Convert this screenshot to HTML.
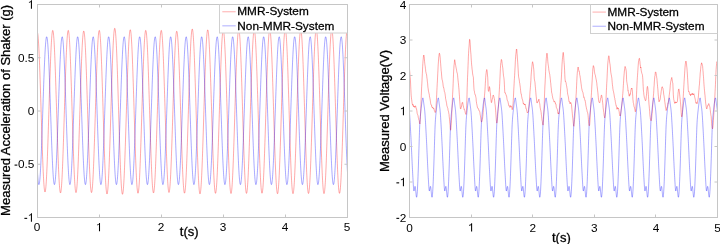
<!DOCTYPE html>
<html><head><meta charset="utf-8"><style>
html,body{margin:0;padding:0;background:#fff;width:720px;height:244px;overflow:hidden}
svg{display:block;will-change:transform}
text{font-family:"Liberation Sans",sans-serif;fill:#000;stroke:#000}
.tk{font-size:11.8px;stroke-width:0.0px}
.lg{font-size:11.8px;stroke-width:0.28px}
.lb{font-size:13.0px;stroke-width:0.3px}
</style></head><body>
<svg width="720" height="244" viewBox="0 0 720 244">
<rect width="720" height="244" fill="#fff"/>

<g fill="none" stroke-width="0.75" stroke-linejoin="round">
<path d="M37.50,32.56 L37.62,33.05 L37.75,33.73 L37.87,34.62 L38.00,35.69 L38.12,36.96 L38.24,38.42 L38.37,40.06 L38.49,41.89 L38.62,43.89 L38.74,46.07 L38.86,48.41 L38.99,50.91 L39.11,53.56 L39.24,56.37 L39.36,59.31 L39.48,62.39 L39.61,65.59 L39.73,68.91 L39.86,72.34 L39.98,75.87 L40.10,79.49 L40.23,83.20 L40.35,86.98 L40.48,90.82 L40.60,94.71 L40.72,98.65 L40.85,102.63 L40.97,106.62 L41.10,110.63 L41.22,114.65 L41.34,118.66 L41.47,122.65 L41.59,126.62 L41.72,130.55 L41.84,134.44 L41.96,138.26 L42.09,142.03 L42.21,145.71 L42.34,149.32 L42.46,152.82 L42.58,156.23 L42.71,159.52 L42.83,162.70 L42.96,165.74 L43.08,168.65 L43.20,171.42 L43.33,174.04 L43.45,176.50 L43.58,178.80 L43.70,180.93 L43.82,182.88 L43.95,184.66 L44.07,186.25 L44.20,187.65 L44.32,188.87 L44.44,189.88 L44.57,190.70 L44.69,191.32 L44.82,191.74 L44.94,191.96 L45.06,191.98 L45.19,191.79 L45.31,191.40 L45.44,190.80 L45.56,190.01 L45.68,189.02 L45.81,187.83 L45.93,186.45 L46.06,184.88 L46.18,183.13 L46.30,181.19 L46.43,179.08 L46.55,176.79 L46.68,174.34 L46.80,171.74 L46.92,168.97 L47.05,166.07 L47.17,163.02 L47.30,159.84 L47.42,156.54 L47.54,153.13 L47.67,149.61 L47.79,145.99 L47.92,142.29 L48.04,138.50 L48.16,134.65 L48.29,130.73 L48.41,126.77 L48.54,122.77 L48.66,118.74 L48.78,114.68 L48.91,110.62 L49.03,106.56 L49.16,102.52 L49.28,98.49 L49.40,94.49 L49.53,90.54 L49.65,86.64 L49.78,82.80 L49.90,79.03 L50.02,75.35 L50.15,71.75 L50.27,68.25 L50.40,64.86 L50.52,61.59 L50.64,58.45 L50.77,55.43 L50.89,52.56 L51.02,49.84 L51.14,47.27 L51.26,44.86 L51.39,42.62 L51.51,40.56 L51.64,38.67 L51.76,36.97 L51.88,35.45 L52.01,34.13 L52.13,33.00 L52.26,32.07 L52.38,31.34 L52.50,30.82 L52.63,30.50 L52.75,30.38 L52.88,30.48 L53.00,30.79 L53.12,31.30 L53.25,32.02 L53.37,32.93 L53.50,34.05 L53.62,35.36 L53.74,36.86 L53.87,38.55 L53.99,40.43 L54.12,42.49 L54.24,44.72 L54.36,47.12 L54.49,49.68 L54.61,52.40 L54.74,55.27 L54.86,58.29 L54.98,61.43 L55.11,64.71 L55.23,68.10 L55.36,71.60 L55.48,75.20 L55.60,78.90 L55.73,82.68 L55.85,86.53 L55.98,90.44 L56.10,94.41 L56.22,98.42 L56.35,102.47 L56.47,106.54 L56.60,110.62 L56.72,114.70 L56.84,118.78 L56.97,122.84 L57.09,126.87 L57.22,130.86 L57.34,134.80 L57.46,138.68 L57.59,142.50 L57.71,146.24 L57.84,149.89 L57.96,153.44 L58.08,156.89 L58.21,160.22 L58.33,163.44 L58.46,166.52 L58.58,169.46 L58.70,172.25 L58.83,174.90 L58.95,177.38 L59.08,179.70 L59.20,181.84 L59.32,183.81 L59.45,185.59 L59.57,187.19 L59.70,188.60 L59.82,189.81 L59.94,190.83 L60.07,191.64 L60.19,192.26 L60.32,192.67 L60.44,192.87 L60.56,192.87 L60.69,192.67 L60.81,192.26 L60.94,191.64 L61.06,190.83 L61.18,189.81 L61.31,188.60 L61.43,187.19 L61.56,185.59 L61.68,183.81 L61.80,181.84 L61.93,179.70 L62.05,177.38 L62.18,174.90 L62.30,172.25 L62.42,169.46 L62.55,166.52 L62.67,163.44 L62.80,160.22 L62.92,156.89 L63.04,153.44 L63.17,149.89 L63.29,146.24 L63.42,142.50 L63.54,138.68 L63.66,134.80 L63.79,130.86 L63.91,126.87 L64.04,122.84 L64.16,118.78 L64.28,114.70 L64.41,110.62 L64.53,106.54 L64.66,102.47 L64.78,98.42 L64.90,94.41 L65.03,90.44 L65.15,86.53 L65.28,82.68 L65.40,78.90 L65.52,75.20 L65.65,71.60 L65.77,68.10 L65.90,64.71 L66.02,61.43 L66.14,58.29 L66.27,55.27 L66.39,52.40 L66.52,49.68 L66.64,47.12 L66.76,44.72 L66.89,42.49 L67.01,40.43 L67.14,38.55 L67.26,36.86 L67.38,35.36 L67.51,34.05 L67.63,32.93 L67.76,32.02 L67.88,31.30 L68.00,30.79 L68.13,30.48 L68.25,30.38 L68.38,30.49 L68.50,30.80 L68.62,31.32 L68.75,32.04 L68.87,32.96 L69.00,34.08 L69.12,35.39 L69.24,36.90 L69.37,38.60 L69.49,40.48 L69.62,42.54 L69.74,44.77 L69.86,47.17 L69.99,49.74 L70.11,52.46 L70.24,55.33 L70.36,58.34 L70.48,61.49 L70.61,64.76 L70.73,68.15 L70.86,71.65 L70.98,75.25 L71.10,78.95 L71.23,82.72 L71.35,86.57 L71.48,90.48 L71.60,94.44 L71.72,98.45 L71.85,102.49 L71.97,106.55 L72.10,110.62 L72.22,114.70 L72.34,118.76 L72.47,122.81 L72.59,126.83 L72.72,130.81 L72.84,134.75 L72.96,138.62 L73.09,142.42 L73.21,146.15 L73.34,149.79 L73.46,153.33 L73.58,156.77 L73.71,160.09 L73.83,163.29 L73.96,166.36 L74.08,169.29 L74.20,172.07 L74.33,174.70 L74.45,177.17 L74.58,179.48 L74.70,181.61 L74.82,183.57 L74.95,185.34 L75.07,186.93 L75.20,188.33 L75.32,189.53 L75.44,190.54 L75.57,191.35 L75.69,191.95 L75.82,192.36 L75.94,192.56 L76.06,192.55 L76.19,192.34 L76.31,191.93 L76.44,191.31 L76.56,190.49 L76.68,189.48 L76.81,188.27 L76.93,186.86 L77.06,185.26 L77.18,183.48 L77.30,181.52 L77.43,179.38 L77.55,177.07 L77.68,174.59 L77.80,171.96 L77.92,169.17 L78.05,166.24 L78.17,163.18 L78.30,159.98 L78.42,156.66 L78.54,153.22 L78.67,149.69 L78.79,146.05 L78.92,142.33 L79.04,138.54 L79.16,134.67 L79.29,130.75 L79.41,126.78 L79.54,122.77 L79.66,118.74 L79.78,114.68 L79.91,110.62 L80.03,106.57 L80.16,102.52 L80.28,98.50 L80.40,94.52 L80.53,90.58 L80.65,86.69 L80.78,82.86 L80.90,79.11 L81.02,75.44 L81.15,71.86 L81.27,68.39 L81.40,65.02 L81.52,61.77 L81.64,58.65 L81.77,55.66 L81.89,52.81 L82.02,50.12 L82.14,47.57 L82.26,45.19 L82.39,42.98 L82.51,40.95 L82.64,39.09 L82.76,37.41 L82.88,35.92 L83.01,34.63 L83.13,33.53 L83.26,32.62 L83.38,31.92 L83.50,31.42 L83.63,31.12 L83.75,31.02 L83.88,31.12 L84.00,31.42 L84.12,31.92 L84.25,32.62 L84.37,33.53 L84.50,34.63 L84.62,35.92 L84.74,37.41 L84.87,39.09 L84.99,40.95 L85.12,42.98 L85.24,45.19 L85.36,47.57 L85.49,50.12 L85.61,52.81 L85.74,55.66 L85.86,58.65 L85.98,61.77 L86.11,65.02 L86.23,68.39 L86.36,71.86 L86.48,75.44 L86.60,79.11 L86.73,82.86 L86.85,86.69 L86.98,90.58 L87.10,94.52 L87.22,98.50 L87.35,102.52 L87.47,106.57 L87.60,110.62 L87.72,114.68 L87.84,118.74 L87.97,122.77 L88.09,126.78 L88.22,130.75 L88.34,134.67 L88.46,138.54 L88.59,142.33 L88.71,146.05 L88.84,149.69 L88.96,153.22 L89.08,156.66 L89.21,159.98 L89.33,163.18 L89.46,166.24 L89.58,169.17 L89.70,171.96 L89.83,174.59 L89.95,177.07 L90.08,179.38 L90.20,181.52 L90.32,183.48 L90.45,185.26 L90.57,186.86 L90.70,188.27 L90.82,189.48 L90.94,190.49 L91.07,191.31 L91.19,191.93 L91.32,192.34 L91.44,192.55 L91.56,192.56 L91.69,192.36 L91.81,191.95 L91.94,191.35 L92.06,190.54 L92.18,189.53 L92.31,188.33 L92.43,186.93 L92.56,185.34 L92.68,183.57 L92.80,181.61 L92.93,179.48 L93.05,177.17 L93.18,174.70 L93.30,172.07 L93.42,169.29 L93.55,166.36 L93.67,163.29 L93.80,160.09 L93.92,156.77 L94.04,153.33 L94.17,149.79 L94.29,146.15 L94.42,142.42 L94.54,138.62 L94.66,134.75 L94.79,130.81 L94.91,126.83 L95.04,122.81 L95.16,118.76 L95.28,114.70 L95.41,110.62 L95.53,106.55 L95.66,102.49 L95.78,98.45 L95.90,94.44 L96.03,90.48 L96.15,86.57 L96.28,82.72 L96.40,78.95 L96.52,75.25 L96.65,71.65 L96.77,68.15 L96.90,64.76 L97.02,61.49 L97.14,58.34 L97.27,55.33 L97.39,52.46 L97.52,49.74 L97.64,47.17 L97.76,44.77 L97.89,42.54 L98.01,40.48 L98.14,38.60 L98.26,36.90 L98.38,35.39 L98.51,34.08 L98.63,32.96 L98.76,32.04 L98.88,31.32 L99.00,30.80 L99.13,30.49 L99.25,30.38 L99.38,30.47 L99.50,30.76 L99.62,31.25 L99.75,31.95 L99.87,32.85 L100.00,33.95 L100.12,35.25 L100.24,36.74 L100.37,38.42 L100.49,40.28 L100.62,42.33 L100.74,44.55 L100.86,46.94 L100.99,49.50 L101.11,52.22 L101.24,55.08 L101.36,58.09 L101.48,61.24 L101.61,64.52 L101.73,67.92 L101.86,71.42 L101.98,75.04 L102.10,78.74 L102.23,82.53 L102.35,86.40 L102.48,90.33 L102.60,94.31 L102.72,98.35 L102.85,102.41 L102.97,106.50 L103.10,110.61 L103.22,114.72 L103.34,118.83 L103.47,122.92 L103.59,126.98 L103.72,131.00 L103.84,134.98 L103.96,138.90 L104.09,142.75 L104.21,146.53 L104.34,150.22 L104.46,153.81 L104.58,157.30 L104.71,160.67 L104.83,163.92 L104.96,167.05 L105.08,170.03 L105.20,172.86 L105.33,175.55 L105.45,178.07 L105.58,180.42 L105.70,182.61 L105.82,184.61 L105.95,186.43 L106.07,188.06 L106.20,189.50 L106.32,190.75 L106.44,191.79 L106.57,192.63 L106.69,193.27 L106.82,193.70 L106.94,193.93 L107.06,193.95 L107.19,193.76 L107.31,193.36 L107.44,192.75 L107.56,191.94 L107.68,190.93 L107.81,189.71 L107.93,188.30 L108.06,186.69 L108.18,184.90 L108.30,182.92 L108.43,180.75 L108.55,178.41 L108.68,175.90 L108.80,173.23 L108.92,170.40 L109.05,167.43 L109.17,164.30 L109.30,161.05 L109.42,157.67 L109.54,154.17 L109.67,150.56 L109.79,146.85 L109.92,143.06 L110.04,139.18 L110.16,135.23 L110.29,131.22 L110.41,127.15 L110.54,123.05 L110.66,118.92 L110.78,114.76 L110.91,110.60 L111.03,106.44 L111.16,102.28 L111.28,98.15 L111.40,94.06 L111.53,90.00 L111.65,86.00 L111.78,82.06 L111.90,78.20 L112.02,74.42 L112.15,70.73 L112.27,67.14 L112.40,63.66 L112.52,60.31 L112.64,57.08 L112.77,53.98 L112.89,51.04 L113.02,48.24 L113.14,45.60 L113.26,43.13 L113.39,40.83 L113.51,38.71 L113.64,36.78 L113.76,35.03 L113.88,33.47 L114.01,32.11 L114.13,30.95 L114.26,30.00 L114.38,29.25 L114.50,28.70 L114.63,28.37 L114.75,28.25 L114.88,28.37 L115.00,28.69 L115.12,29.23 L115.25,29.98 L115.37,30.93 L115.50,32.08 L115.62,33.44 L115.74,34.99 L115.87,36.73 L115.99,38.67 L116.12,40.79 L116.24,43.08 L116.36,45.55 L116.49,48.19 L116.61,50.98 L116.74,53.93 L116.86,57.02 L116.98,60.25 L117.11,63.61 L117.23,67.08 L117.36,70.67 L117.48,74.37 L117.60,78.15 L117.73,82.02 L117.85,85.96 L117.98,89.97 L118.10,94.03 L118.22,98.13 L118.35,102.27 L118.47,106.43 L118.60,110.60 L118.72,114.77 L118.84,118.93 L118.97,123.07 L119.09,127.19 L119.22,131.26 L119.34,135.28 L119.46,139.24 L119.59,143.13 L119.71,146.94 L119.84,150.66 L119.96,154.28 L120.08,157.79 L120.21,161.18 L120.33,164.45 L120.46,167.58 L120.58,170.57 L120.70,173.42 L120.83,176.10 L120.95,178.62 L121.08,180.97 L121.20,183.15 L121.32,185.14 L121.45,186.95 L121.57,188.56 L121.70,189.98 L121.82,191.21 L121.94,192.23 L122.07,193.05 L122.19,193.66 L122.32,194.07 L122.44,194.26 L122.56,194.25 L122.69,194.03 L122.81,193.60 L122.94,192.97 L123.06,192.13 L123.18,191.08 L123.31,189.84 L123.43,188.40 L123.56,186.76 L123.68,184.94 L123.80,182.93 L123.93,180.74 L124.05,178.38 L124.18,175.85 L124.30,173.16 L124.42,170.31 L124.55,167.32 L124.67,164.19 L124.80,160.92 L124.92,157.53 L125.04,154.03 L125.17,150.42 L125.29,146.71 L125.42,142.92 L125.54,139.05 L125.66,135.11 L125.79,131.11 L125.91,127.06 L126.04,122.98 L126.16,118.87 L126.28,114.74 L126.41,110.61 L126.53,106.47 L126.66,102.36 L126.78,98.26 L126.90,94.21 L127.03,90.20 L127.15,86.24 L127.28,82.35 L127.40,78.53 L127.52,74.80 L127.65,71.16 L127.77,67.63 L127.90,64.21 L128.02,60.90 L128.14,57.73 L128.27,54.70 L128.39,51.81 L128.52,49.07 L128.64,46.49 L128.76,44.08 L128.89,41.83 L129.01,39.77 L129.14,37.88 L129.26,36.19 L129.38,34.68 L129.51,33.37 L129.63,32.26 L129.76,31.34 L129.88,30.63 L130.00,30.13 L130.13,29.83 L130.25,29.74 L130.38,29.85 L130.50,30.16 L130.62,30.69 L130.75,31.41 L130.87,32.34 L131.00,33.47 L131.12,34.79 L131.24,36.31 L131.37,38.02 L131.49,39.92 L131.62,41.99 L131.74,44.24 L131.86,46.67 L131.99,49.25 L132.11,51.99 L132.24,54.89 L132.36,57.92 L132.48,61.09 L132.61,64.39 L132.73,67.81 L132.86,71.34 L132.98,74.97 L133.10,78.69 L133.23,82.49 L133.35,86.37 L133.48,90.31 L133.60,94.31 L133.72,98.34 L133.85,102.41 L133.97,106.51 L134.10,110.61 L134.22,114.72 L134.34,118.82 L134.47,122.90 L134.59,126.95 L134.72,130.96 L134.84,134.93 L134.96,138.83 L135.09,142.67 L135.21,146.42 L135.34,150.09 L135.46,153.66 L135.58,157.12 L135.71,160.47 L135.83,163.70 L135.96,166.79 L136.08,169.74 L136.20,172.55 L136.33,175.20 L136.45,177.69 L136.58,180.01 L136.70,182.16 L136.82,184.14 L136.95,185.92 L137.07,187.52 L137.20,188.93 L137.32,190.15 L137.44,191.16 L137.57,191.98 L137.69,192.59 L137.82,192.99 L137.94,193.19 L138.06,193.19 L138.19,192.98 L138.31,192.56 L138.44,191.94 L138.56,191.12 L138.68,190.09 L138.81,188.87 L138.93,187.45 L139.06,185.84 L139.18,184.05 L139.30,182.07 L139.43,179.91 L139.55,177.59 L139.68,175.09 L139.80,172.44 L139.92,169.63 L140.05,166.68 L140.17,163.58 L140.30,160.36 L140.42,157.01 L140.54,153.55 L140.67,149.99 L140.79,146.32 L140.92,142.58 L141.04,138.75 L141.16,134.85 L141.29,130.90 L141.41,126.90 L141.54,122.86 L141.66,118.79 L141.78,114.71 L141.91,110.62 L142.03,106.53 L142.16,102.45 L142.28,98.40 L142.40,94.38 L142.53,90.41 L142.65,86.49 L142.78,82.63 L142.90,78.85 L143.02,75.15 L143.15,71.55 L143.27,68.04 L143.40,64.65 L143.52,61.38 L143.64,58.23 L143.77,55.22 L143.89,52.35 L144.02,49.63 L144.14,47.07 L144.26,44.67 L144.39,42.44 L144.51,40.39 L144.64,38.51 L144.76,36.82 L144.88,35.32 L145.01,34.02 L145.13,32.91 L145.26,32.00 L145.38,31.29 L145.50,30.78 L145.63,30.48 L145.75,30.38 L145.88,30.48 L146.00,30.79 L146.12,31.30 L146.25,32.02 L146.37,32.93 L146.50,34.05 L146.62,35.36 L146.74,36.86 L146.87,38.55 L146.99,40.43 L147.12,42.49 L147.24,44.72 L147.36,47.12 L147.49,49.68 L147.61,52.40 L147.74,55.27 L147.86,58.29 L147.98,61.43 L148.11,64.71 L148.23,68.10 L148.36,71.60 L148.48,75.20 L148.60,78.90 L148.73,82.68 L148.85,86.53 L148.98,90.44 L149.10,94.41 L149.22,98.42 L149.35,102.47 L149.47,106.54 L149.60,110.62 L149.72,114.70 L149.84,118.78 L149.97,122.84 L150.09,126.87 L150.22,130.86 L150.34,134.80 L150.46,138.68 L150.59,142.50 L150.71,146.24 L150.84,149.89 L150.96,153.44 L151.08,156.89 L151.21,160.22 L151.33,163.44 L151.46,166.52 L151.58,169.46 L151.70,172.25 L151.83,174.90 L151.95,177.38 L152.08,179.70 L152.20,181.84 L152.32,183.81 L152.45,185.59 L152.57,187.19 L152.70,188.60 L152.82,189.81 L152.94,190.83 L153.07,191.64 L153.19,192.26 L153.32,192.67 L153.44,192.87 L153.56,192.87 L153.69,192.67 L153.81,192.26 L153.94,191.64 L154.06,190.83 L154.18,189.81 L154.31,188.60 L154.43,187.19 L154.56,185.59 L154.68,183.81 L154.80,181.84 L154.93,179.70 L155.05,177.38 L155.18,174.90 L155.30,172.25 L155.42,169.46 L155.55,166.52 L155.67,163.44 L155.80,160.22 L155.92,156.89 L156.04,153.44 L156.17,149.89 L156.29,146.24 L156.42,142.50 L156.54,138.68 L156.66,134.80 L156.79,130.86 L156.91,126.87 L157.04,122.84 L157.16,118.78 L157.28,114.70 L157.41,110.62 L157.53,106.54 L157.66,102.47 L157.78,98.42 L157.90,94.41 L158.03,90.44 L158.15,86.53 L158.28,82.68 L158.40,78.90 L158.52,75.20 L158.65,71.60 L158.77,68.10 L158.90,64.71 L159.02,61.43 L159.14,58.29 L159.27,55.27 L159.39,52.40 L159.52,49.68 L159.64,47.12 L159.76,44.72 L159.89,42.49 L160.01,40.43 L160.14,38.55 L160.26,36.86 L160.38,35.36 L160.51,34.05 L160.63,32.93 L160.76,32.02 L160.88,31.30 L161.00,30.79 L161.13,30.48 L161.25,30.38 L161.38,30.49 L161.50,30.80 L161.62,31.32 L161.75,32.04 L161.87,32.97 L162.00,34.09 L162.12,35.40 L162.24,36.91 L162.37,38.61 L162.49,40.49 L162.62,42.55 L162.74,44.79 L162.86,47.19 L162.99,49.76 L163.11,52.48 L163.24,55.35 L163.36,58.36 L163.48,61.51 L163.61,64.78 L163.73,68.17 L163.86,71.67 L163.98,75.27 L164.10,78.96 L164.23,82.74 L164.35,86.58 L164.48,90.49 L164.60,94.45 L164.72,98.45 L164.85,102.49 L164.97,106.55 L165.10,110.62 L165.22,114.69 L165.34,118.76 L165.47,122.80 L165.59,126.82 L165.72,130.80 L165.84,134.73 L165.96,138.60 L166.09,142.40 L166.21,146.12 L166.34,149.76 L166.46,153.29 L166.58,156.73 L166.71,160.05 L166.83,163.24 L166.96,166.30 L167.08,169.23 L167.20,172.01 L167.33,174.64 L167.45,177.10 L167.58,179.40 L167.70,181.53 L167.82,183.49 L167.95,185.26 L168.07,186.84 L168.20,188.24 L168.32,189.44 L168.44,190.44 L168.57,191.25 L168.69,191.85 L168.82,192.25 L168.94,192.45 L169.06,192.44 L169.19,192.23 L169.31,191.82 L169.44,191.20 L169.56,190.38 L169.68,189.37 L169.81,188.15 L169.93,186.75 L170.06,185.15 L170.18,183.37 L170.30,181.41 L170.43,179.27 L170.55,176.97 L170.68,174.49 L170.80,171.86 L170.92,169.08 L171.05,166.15 L171.17,163.09 L171.30,159.89 L171.42,156.58 L171.54,153.15 L171.67,149.62 L171.79,145.99 L171.92,142.28 L172.04,138.49 L172.16,134.63 L172.29,130.71 L172.41,126.75 L172.54,122.75 L172.66,118.72 L172.78,114.68 L172.91,110.63 L173.03,106.58 L173.16,102.54 L173.28,98.53 L173.40,94.55 L173.53,90.62 L173.65,86.74 L173.78,82.92 L173.90,79.18 L174.02,75.52 L174.15,71.95 L174.27,68.48 L174.40,65.12 L174.52,61.88 L174.64,58.77 L174.77,55.79 L174.89,52.95 L175.02,50.26 L175.14,47.73 L175.26,45.35 L175.39,43.15 L175.51,41.12 L175.64,39.26 L175.76,37.60 L175.88,36.11 L176.01,34.82 L176.13,33.72 L176.26,32.82 L176.38,32.12 L176.50,31.62 L176.63,31.33 L176.75,31.23 L176.88,31.32 L177.00,31.60 L177.12,32.09 L177.25,32.78 L177.37,33.67 L177.50,34.76 L177.62,36.04 L177.74,37.51 L177.87,39.18 L177.99,41.02 L178.12,43.05 L178.24,45.24 L178.36,47.61 L178.49,50.14 L178.61,52.83 L178.74,55.67 L178.86,58.64 L178.98,61.76 L179.11,65.00 L179.23,68.36 L179.36,71.83 L179.48,75.41 L179.60,79.08 L179.73,82.83 L179.85,86.65 L179.98,90.54 L180.10,94.49 L180.22,98.48 L180.35,102.51 L180.47,106.56 L180.60,110.62 L180.72,114.69 L180.84,118.75 L180.97,122.80 L181.09,126.82 L181.22,130.81 L181.34,134.75 L181.46,138.63 L181.59,142.44 L181.71,146.18 L181.84,149.83 L181.96,153.39 L182.08,156.84 L182.21,160.19 L182.33,163.41 L182.46,166.50 L182.58,169.45 L182.70,172.26 L182.83,174.92 L182.95,177.41 L183.08,179.75 L183.20,181.91 L183.32,183.89 L183.45,185.70 L183.57,187.31 L183.70,188.74 L183.82,189.97 L183.94,191.01 L184.07,191.84 L184.19,192.48 L184.32,192.91 L184.44,193.13 L184.56,193.15 L184.69,192.96 L184.81,192.57 L184.94,191.97 L185.06,191.17 L185.18,190.16 L185.31,188.96 L185.43,187.56 L185.56,185.97 L185.68,184.20 L185.80,182.23 L185.93,180.09 L186.05,177.78 L186.18,175.29 L186.30,172.65 L186.42,169.84 L186.55,166.90 L186.67,163.81 L186.80,160.58 L186.92,157.23 L187.04,153.77 L187.17,150.19 L187.29,146.52 L187.42,142.76 L187.54,138.92 L187.66,135.01 L187.79,131.03 L187.91,127.01 L188.04,122.94 L188.16,118.85 L188.28,114.73 L188.41,110.61 L188.53,106.48 L188.66,102.37 L188.78,98.28 L188.90,94.22 L189.03,90.20 L189.15,86.24 L189.28,82.34 L189.40,78.51 L189.52,74.76 L189.65,71.10 L189.77,67.55 L189.90,64.10 L190.02,60.78 L190.14,57.58 L190.27,54.51 L190.39,51.59 L190.52,48.82 L190.64,46.21 L190.76,43.76 L190.89,41.48 L191.01,39.37 L191.14,37.45 L191.26,35.72 L191.38,34.18 L191.51,32.83 L191.63,31.68 L191.76,30.73 L191.88,29.99 L192.00,29.45 L192.13,29.12 L192.25,29.00 L192.38,29.11 L192.50,29.43 L192.62,29.95 L192.75,30.69 L192.87,31.62 L193.00,32.76 L193.12,34.10 L193.24,35.64 L193.37,37.36 L193.49,39.28 L193.62,41.37 L193.74,43.65 L193.86,46.09 L193.99,48.70 L194.11,51.47 L194.24,54.39 L194.36,57.45 L194.48,60.65 L194.61,63.98 L194.73,67.43 L194.86,70.99 L194.98,74.65 L195.10,78.40 L195.23,82.24 L195.35,86.15 L195.48,90.13 L195.60,94.16 L195.72,98.23 L195.85,102.33 L195.97,106.46 L196.10,110.60 L196.22,114.75 L196.34,118.88 L196.47,122.99 L196.59,127.08 L196.72,131.13 L196.84,135.12 L196.96,139.06 L197.09,142.92 L197.21,146.71 L197.34,150.41 L197.46,154.01 L197.58,157.50 L197.71,160.87 L197.83,164.12 L197.96,167.24 L198.08,170.22 L198.20,173.04 L198.33,175.71 L198.45,178.22 L198.58,180.56 L198.70,182.73 L198.82,184.72 L198.95,186.52 L199.07,188.13 L199.20,189.55 L199.32,190.77 L199.44,191.79 L199.57,192.61 L199.69,193.23 L199.82,193.63 L199.94,193.83 L200.06,193.83 L200.19,193.61 L200.31,193.19 L200.44,192.56 L200.56,191.73 L200.68,190.70 L200.81,189.47 L200.93,188.04 L201.06,186.41 L201.18,184.60 L201.30,182.61 L201.43,180.43 L201.55,178.09 L201.68,175.57 L201.80,172.90 L201.92,170.06 L202.05,167.09 L202.17,163.97 L202.30,160.72 L202.42,157.35 L202.54,153.86 L202.67,150.27 L202.79,146.58 L202.92,142.80 L203.04,138.95 L203.16,135.02 L203.29,131.04 L203.41,127.01 L203.54,122.94 L203.66,118.84 L203.78,114.73 L203.91,110.61 L204.03,106.49 L204.16,102.39 L204.28,98.31 L204.40,94.26 L204.53,90.26 L204.65,86.31 L204.78,82.43 L204.90,78.62 L205.02,74.90 L205.15,71.27 L205.27,67.74 L205.40,64.32 L205.52,61.03 L205.64,57.86 L205.77,54.83 L205.89,51.94 L206.02,49.20 L206.14,46.63 L206.26,44.21 L206.39,41.97 L206.51,39.90 L206.64,38.02 L206.76,36.32 L206.88,34.81 L207.01,33.50 L207.13,32.38 L207.26,31.47 L207.38,30.75 L207.50,30.25 L207.63,29.94 L207.75,29.85 L207.88,29.95 L208.00,30.26 L208.12,30.78 L208.25,31.50 L208.37,32.42 L208.50,33.55 L208.62,34.87 L208.74,36.38 L208.87,38.09 L208.99,39.98 L209.12,42.05 L209.24,44.30 L209.36,46.71 L209.49,49.30 L209.61,52.03 L209.74,54.92 L209.86,57.95 L209.98,61.12 L210.11,64.42 L210.23,67.83 L210.36,71.36 L210.48,74.98 L210.60,78.70 L210.73,82.50 L210.85,86.38 L210.98,90.32 L211.10,94.31 L211.22,98.34 L211.35,102.41 L211.47,106.51 L211.60,110.61 L211.72,114.72 L211.84,118.82 L211.97,122.90 L212.09,126.95 L212.22,130.97 L212.34,134.93 L212.46,138.84 L212.59,142.68 L212.71,146.44 L212.84,150.11 L212.96,153.68 L213.08,157.15 L213.21,160.50 L213.33,163.73 L213.46,166.82 L213.58,169.78 L213.70,172.59 L213.83,175.25 L213.95,177.74 L214.08,180.07 L214.20,182.22 L214.32,184.20 L214.45,185.99 L214.57,187.60 L214.70,189.01 L214.82,190.23 L214.94,191.25 L215.07,192.07 L215.19,192.68 L215.32,193.09 L215.44,193.30 L215.56,193.30 L215.69,193.09 L215.81,192.68 L215.94,192.06 L216.06,191.24 L216.18,190.21 L216.31,188.99 L216.43,187.58 L216.56,185.97 L216.68,184.17 L216.80,182.19 L216.93,180.04 L217.05,177.71 L217.18,175.21 L217.30,172.55 L217.42,169.74 L217.55,166.78 L217.67,163.69 L217.80,160.46 L217.92,157.11 L218.04,153.64 L218.17,150.07 L218.29,146.40 L218.42,142.65 L218.54,138.81 L218.66,134.91 L218.79,130.95 L218.91,126.94 L219.04,122.89 L219.16,118.81 L219.28,114.72 L219.41,110.61 L219.53,106.51 L219.66,102.43 L219.78,98.36 L219.90,94.33 L220.03,90.35 L220.15,86.42 L220.28,82.55 L220.40,78.75 L220.52,75.04 L220.65,71.43 L220.77,67.91 L220.90,64.50 L221.02,61.22 L221.14,58.06 L221.27,55.03 L221.39,52.15 L221.52,49.42 L221.64,46.85 L221.76,44.44 L221.89,42.20 L222.01,40.14 L222.14,38.25 L222.26,36.55 L222.38,35.05 L222.51,33.73 L222.63,32.61 L222.76,31.70 L222.88,30.98 L223.00,30.47 L223.13,30.16 L223.25,30.06 L223.38,30.16 L223.50,30.46 L223.62,30.97 L223.75,31.69 L223.87,32.60 L224.00,33.72 L224.12,35.03 L224.24,36.54 L224.37,38.23 L224.49,40.11 L224.62,42.18 L224.74,44.41 L224.86,46.82 L224.99,49.39 L225.11,52.12 L225.24,55.00 L225.36,58.03 L225.48,61.19 L225.61,64.47 L225.73,67.88 L225.86,71.40 L225.98,75.02 L226.10,78.73 L226.23,82.53 L226.35,86.40 L226.48,90.33 L226.60,94.32 L226.72,98.35 L226.85,102.42 L226.97,106.51 L227.10,110.61 L227.22,114.72 L227.34,118.82 L227.47,122.90 L227.59,126.95 L227.72,130.97 L227.84,134.94 L227.96,138.84 L228.09,142.68 L228.21,146.45 L228.34,150.12 L228.46,153.70 L228.58,157.17 L228.71,160.53 L228.83,163.76 L228.96,166.86 L229.08,169.83 L229.20,172.64 L229.33,175.31 L229.45,177.81 L229.58,180.15 L229.70,182.31 L229.82,184.29 L229.95,186.09 L230.07,187.71 L230.20,189.13 L230.32,190.35 L230.44,191.38 L230.57,192.21 L230.69,192.83 L230.82,193.25 L230.94,193.46 L231.06,193.46 L231.19,193.26 L231.31,192.85 L231.44,192.24 L231.56,191.42 L231.68,190.40 L231.81,189.18 L231.93,187.77 L232.06,186.16 L232.18,184.36 L232.30,182.39 L232.43,180.23 L232.55,177.90 L232.68,175.40 L232.80,172.74 L232.92,169.92 L233.05,166.96 L233.17,163.86 L233.30,160.62 L233.42,157.26 L233.54,153.79 L233.67,150.21 L233.79,146.53 L233.92,142.76 L234.04,138.91 L234.16,135.00 L234.29,131.02 L234.41,127.00 L234.54,122.93 L234.66,118.84 L234.78,114.73 L234.91,110.61 L235.03,106.49 L235.16,102.39 L235.28,98.30 L235.40,94.26 L235.53,90.25 L235.65,86.30 L235.78,82.41 L235.90,78.60 L236.02,74.86 L236.15,71.22 L236.27,67.69 L236.40,64.26 L236.52,60.95 L236.64,57.77 L236.77,54.73 L236.89,51.83 L237.02,49.08 L237.14,46.49 L237.26,44.06 L237.39,41.80 L237.51,39.72 L237.64,37.82 L237.76,36.11 L237.88,34.59 L238.01,33.26 L238.13,32.13 L238.26,31.20 L238.38,30.47 L238.50,29.95 L238.63,29.64 L238.75,29.53 L238.88,29.64 L239.00,29.95 L239.12,30.48 L239.25,31.21 L239.37,32.14 L239.50,33.27 L239.62,34.60 L239.74,36.12 L239.87,37.84 L239.99,39.74 L240.12,41.82 L240.24,44.08 L240.36,46.50 L240.49,49.10 L240.61,51.85 L240.74,54.75 L240.86,57.79 L240.98,60.97 L241.11,64.28 L241.23,67.71 L241.36,71.24 L241.48,74.88 L241.60,78.61 L241.73,82.42 L241.85,86.31 L241.98,90.26 L242.10,94.26 L242.22,98.31 L242.35,102.39 L242.47,106.49 L242.60,110.61 L242.72,114.73 L242.84,118.84 L242.97,122.93 L243.09,126.99 L243.22,131.01 L243.34,134.98 L243.46,138.89 L243.59,142.73 L243.71,146.50 L243.84,150.17 L243.96,153.75 L244.08,157.22 L244.21,160.58 L244.33,163.81 L244.46,166.91 L244.58,169.86 L244.70,172.68 L244.83,175.33 L244.95,177.83 L245.08,180.15 L245.20,182.31 L245.32,184.28 L245.45,186.08 L245.57,187.68 L245.70,189.09 L245.82,190.31 L245.94,191.32 L246.07,192.14 L246.19,192.75 L246.32,193.15 L246.44,193.35 L246.56,193.35 L246.69,193.14 L246.81,192.72 L246.94,192.10 L247.06,191.27 L247.18,190.24 L247.31,189.02 L247.43,187.60 L247.56,185.98 L247.68,184.18 L247.80,182.20 L247.93,180.04 L248.05,177.71 L248.18,175.21 L248.30,172.55 L248.42,169.73 L248.55,166.77 L248.67,163.67 L248.80,160.45 L248.92,157.09 L249.04,153.63 L249.17,150.05 L249.29,146.38 L249.42,142.63 L249.54,138.79 L249.66,134.89 L249.79,130.93 L249.91,126.92 L250.04,122.88 L250.16,118.80 L250.28,114.71 L250.41,110.61 L250.53,106.52 L250.66,102.44 L250.78,98.38 L250.90,94.35 L251.03,90.37 L251.15,86.45 L251.28,82.59 L251.40,78.80 L251.52,75.10 L251.65,71.49 L251.77,67.98 L251.90,64.58 L252.02,61.30 L252.14,58.15 L252.27,55.13 L252.39,52.26 L252.52,49.54 L252.64,46.97 L252.76,44.57 L252.89,42.34 L253.01,40.29 L253.14,38.41 L253.26,36.72 L253.38,35.22 L253.51,33.91 L253.63,32.80 L253.76,31.89 L253.88,31.18 L254.00,30.67 L254.13,30.37 L254.25,30.27 L254.38,30.37 L254.50,30.68 L254.62,31.19 L254.75,31.90 L254.87,32.81 L255.00,33.93 L255.12,35.24 L255.24,36.74 L255.37,38.43 L255.49,40.31 L255.62,42.37 L255.74,44.60 L255.86,47.00 L255.99,49.57 L256.11,52.29 L256.24,55.16 L256.36,58.18 L256.48,61.33 L256.61,64.61 L256.73,68.00 L256.86,71.51 L256.98,75.12 L257.10,78.82 L257.23,82.61 L257.35,86.47 L257.48,90.39 L257.60,94.37 L257.72,98.39 L257.85,102.45 L257.97,106.52 L258.10,110.62 L258.22,114.71 L258.34,118.80 L258.47,122.87 L258.59,126.91 L258.72,130.91 L258.84,134.87 L258.96,138.76 L259.09,142.59 L259.21,146.34 L259.34,150.00 L259.46,153.57 L259.58,157.03 L259.71,160.38 L259.83,163.60 L259.96,166.69 L260.08,169.65 L260.20,172.46 L260.33,175.11 L260.45,177.60 L260.58,179.93 L260.70,182.09 L260.82,184.06 L260.95,185.86 L261.07,187.47 L261.20,188.88 L261.32,190.10 L261.44,191.12 L261.57,191.95 L261.69,192.57 L261.82,192.98 L261.94,193.19 L262.06,193.19 L262.19,192.99 L262.31,192.58 L262.44,191.97 L262.56,191.15 L262.68,190.14 L262.81,188.92 L262.93,187.51 L263.06,185.91 L263.18,184.12 L263.30,182.15 L263.43,180.00 L263.55,177.67 L263.68,175.18 L263.80,172.53 L263.92,169.72 L264.05,166.77 L264.17,163.68 L264.30,160.45 L264.42,157.11 L264.54,153.64 L264.67,150.07 L264.79,146.41 L264.92,142.65 L265.04,138.82 L265.16,134.92 L265.29,130.95 L265.41,126.94 L265.54,122.89 L265.66,118.81 L265.78,114.72 L265.91,110.61 L266.03,106.51 L266.16,102.42 L266.28,98.35 L266.40,94.32 L266.53,90.33 L266.65,86.39 L266.78,82.52 L266.90,78.72 L267.02,75.00 L267.15,71.37 L267.27,67.85 L267.40,64.44 L267.52,61.14 L267.64,57.97 L267.77,54.94 L267.89,52.05 L268.02,49.31 L268.14,46.73 L268.26,44.31 L268.39,42.07 L268.51,39.99 L268.64,38.10 L268.76,36.40 L268.88,34.88 L269.01,33.56 L269.13,32.43 L269.26,31.51 L269.38,30.79 L269.50,30.27 L269.63,29.95 L269.75,29.85 L269.88,29.95 L270.00,30.25 L270.12,30.76 L270.25,31.47 L270.37,32.39 L270.50,33.51 L270.62,34.82 L270.74,36.33 L270.87,38.03 L270.99,39.92 L271.12,41.99 L271.24,44.23 L271.36,46.64 L271.49,49.22 L271.61,51.96 L271.74,54.85 L271.86,57.88 L271.98,61.05 L272.11,64.34 L272.23,67.76 L272.36,71.28 L272.48,74.91 L272.60,78.64 L272.73,82.44 L272.85,86.32 L272.98,90.27 L273.10,94.27 L273.22,98.31 L273.35,102.39 L273.47,106.49 L273.60,110.61 L273.72,114.73 L273.84,118.84 L273.97,122.93 L274.09,127.00 L274.22,131.03 L274.34,135.01 L274.46,138.93 L274.59,142.78 L274.71,146.55 L274.84,150.24 L274.96,153.83 L275.08,157.31 L275.21,160.68 L275.33,163.92 L275.46,167.03 L275.58,170.01 L275.70,172.83 L275.83,175.51 L275.95,178.02 L276.08,180.36 L276.20,182.53 L276.32,184.52 L276.45,186.33 L276.57,187.95 L276.70,189.38 L276.82,190.61 L276.94,191.64 L277.07,192.47 L277.19,193.09 L277.32,193.51 L277.44,193.72 L277.56,193.73 L277.69,193.52 L277.81,193.12 L277.94,192.50 L278.06,191.68 L278.18,190.66 L278.31,189.44 L278.43,188.02 L278.56,186.41 L278.68,184.61 L278.80,182.62 L278.93,180.46 L279.05,178.12 L279.18,175.61 L279.30,172.94 L279.42,170.12 L279.55,167.15 L279.67,164.04 L279.80,160.79 L279.92,157.42 L280.04,153.93 L280.17,150.34 L280.29,146.65 L280.42,142.87 L280.54,139.01 L280.66,135.08 L280.79,131.09 L280.91,127.05 L281.04,122.97 L281.16,118.87 L281.28,114.74 L281.41,110.61 L281.53,106.47 L281.66,102.35 L281.78,98.26 L281.90,94.19 L282.03,90.17 L282.15,86.21 L282.28,82.30 L282.40,78.47 L282.52,74.73 L282.65,71.08 L282.77,67.53 L282.90,64.09 L283.02,60.77 L283.14,57.57 L283.27,54.52 L283.39,51.61 L283.52,48.84 L283.64,46.24 L283.76,43.80 L283.89,41.54 L284.01,39.45 L284.14,37.54 L284.26,35.82 L284.38,34.29 L284.51,32.96 L284.63,31.82 L284.76,30.89 L284.88,30.16 L285.00,29.63 L285.13,29.32 L285.25,29.21 L285.38,29.32 L285.50,29.64 L285.62,30.16 L285.75,30.90 L285.87,31.83 L286.00,32.97 L286.12,34.30 L286.24,35.83 L286.37,37.56 L286.49,39.46 L286.62,41.55 L286.74,43.82 L286.86,46.26 L286.99,48.86 L287.11,51.62 L287.24,54.54 L287.36,57.59 L287.48,60.78 L287.61,64.10 L287.73,67.54 L287.86,71.09 L287.98,74.75 L288.10,78.49 L288.23,82.32 L288.35,86.22 L288.48,90.18 L288.60,94.20 L288.72,98.26 L288.85,102.36 L288.97,106.48 L289.10,110.61 L289.22,114.74 L289.34,118.86 L289.47,122.97 L289.59,127.04 L289.72,131.08 L289.84,135.06 L289.96,138.99 L290.09,142.84 L290.21,146.62 L290.34,150.31 L290.46,153.90 L290.58,157.38 L290.71,160.75 L290.83,163.99 L290.96,167.10 L291.08,170.06 L291.20,172.88 L291.33,175.55 L291.45,178.05 L291.58,180.39 L291.70,182.55 L291.82,184.53 L291.95,186.32 L292.07,187.93 L292.20,189.35 L292.32,190.57 L292.44,191.58 L292.57,192.40 L292.69,193.01 L292.82,193.42 L292.94,193.62 L293.06,193.61 L293.19,193.40 L293.31,192.98 L293.44,192.35 L293.56,191.53 L293.68,190.49 L293.81,189.26 L293.93,187.84 L294.06,186.22 L294.18,184.41 L294.30,182.42 L294.43,180.25 L294.55,177.91 L294.68,175.41 L294.80,172.74 L294.92,169.91 L295.05,166.94 L295.17,163.83 L295.30,160.59 L295.42,157.23 L295.54,153.75 L295.67,150.17 L295.79,146.49 L295.92,142.72 L296.04,138.88 L296.16,134.96 L296.29,130.99 L296.41,126.97 L296.54,122.91 L296.66,118.83 L296.78,114.72 L296.91,110.61 L297.03,106.50 L297.16,102.41 L297.28,98.34 L297.40,94.30 L297.53,90.31 L297.65,86.38 L297.78,82.50 L297.90,78.71 L298.02,74.99 L298.15,71.37 L298.27,67.85 L298.40,64.45 L298.52,61.16 L298.64,58.00 L298.77,54.98 L298.89,52.10 L299.02,49.37 L299.14,46.80 L299.26,44.39 L299.39,42.15 L299.51,40.09 L299.64,38.21 L299.76,36.52 L299.88,35.01 L300.01,33.70 L300.13,32.59 L300.26,31.68 L300.38,30.97 L300.50,30.46 L300.63,30.16 L300.75,30.06 L300.88,30.16 L301.00,30.46 L301.12,30.97 L301.25,31.69 L301.37,32.60 L301.50,33.72 L301.62,35.03 L301.74,36.54 L301.87,38.23 L301.99,40.11 L302.12,42.18 L302.24,44.41 L302.36,46.82 L302.49,49.39 L302.61,52.12 L302.74,55.00 L302.86,58.03 L302.98,61.19 L303.11,64.47 L303.23,67.88 L303.36,71.40 L303.48,75.02 L303.60,78.73 L303.73,82.53 L303.85,86.40 L303.98,90.33 L304.10,94.32 L304.22,98.35 L304.35,102.42 L304.47,106.51 L304.60,110.61 L304.72,114.72 L304.84,118.82 L304.97,122.90 L305.09,126.95 L305.22,130.97 L305.34,134.94 L305.46,138.84 L305.59,142.68 L305.71,146.45 L305.84,150.12 L305.96,153.70 L306.08,157.17 L306.21,160.53 L306.33,163.76 L306.46,166.86 L306.58,169.83 L306.70,172.64 L306.83,175.31 L306.95,177.81 L307.08,180.15 L307.20,182.31 L307.32,184.29 L307.45,186.09 L307.57,187.71 L307.70,189.13 L307.82,190.35 L307.94,191.38 L308.07,192.21 L308.19,192.83 L308.32,193.25 L308.44,193.46 L308.56,193.46 L308.69,193.26 L308.81,192.85 L308.94,192.24 L309.06,191.42 L309.18,190.40 L309.31,189.18 L309.43,187.77 L309.56,186.16 L309.68,184.36 L309.80,182.39 L309.93,180.23 L310.05,177.90 L310.18,175.40 L310.30,172.74 L310.42,169.92 L310.55,166.96 L310.67,163.86 L310.80,160.62 L310.92,157.26 L311.04,153.79 L311.17,150.21 L311.29,146.53 L311.42,142.76 L311.54,138.91 L311.66,135.00 L311.79,131.02 L311.91,127.00 L312.04,122.93 L312.16,118.84 L312.28,114.73 L312.41,110.61 L312.53,106.49 L312.66,102.39 L312.78,98.30 L312.90,94.26 L313.03,90.25 L313.15,86.30 L313.28,82.41 L313.40,78.60 L313.52,74.86 L313.65,71.22 L313.77,67.69 L313.90,64.26 L314.02,60.95 L314.14,57.77 L314.27,54.73 L314.39,51.83 L314.52,49.08 L314.64,46.49 L314.76,44.06 L314.89,41.80 L315.01,39.72 L315.14,37.82 L315.26,36.11 L315.38,34.59 L315.51,33.26 L315.63,32.13 L315.76,31.20 L315.88,30.47 L316.00,29.95 L316.13,29.64 L316.25,29.53 L316.38,29.63 L316.50,29.95 L316.62,30.47 L316.75,31.19 L316.87,32.12 L317.00,33.25 L317.12,34.57 L317.24,36.10 L317.37,37.81 L317.49,39.71 L317.62,41.79 L317.74,44.04 L317.86,46.47 L317.99,49.06 L318.11,51.81 L318.24,54.71 L318.36,57.75 L318.48,60.93 L318.61,64.24 L318.73,67.67 L318.86,71.21 L318.98,74.85 L319.10,78.58 L319.23,82.40 L319.35,86.28 L319.48,90.24 L319.60,94.25 L319.72,98.30 L319.85,102.38 L319.97,106.49 L320.10,110.61 L320.22,114.73 L320.34,118.85 L320.47,122.94 L320.59,127.01 L320.72,131.04 L320.84,135.02 L320.96,138.93 L321.09,142.79 L321.21,146.56 L321.34,150.24 L321.46,153.83 L321.58,157.30 L321.71,160.67 L321.83,163.91 L321.96,167.01 L322.08,169.98 L322.20,172.80 L322.33,175.46 L322.45,177.97 L322.58,180.30 L322.70,182.46 L322.82,184.44 L322.95,186.24 L323.07,187.85 L323.20,189.27 L323.32,190.49 L323.44,191.51 L323.57,192.33 L323.69,192.95 L323.82,193.36 L323.94,193.57 L324.06,193.56 L324.19,193.35 L324.31,192.94 L324.44,192.32 L324.56,191.49 L324.68,190.47 L324.81,189.24 L324.93,187.82 L325.06,186.20 L325.18,184.40 L325.30,182.42 L325.43,180.25 L325.55,177.91 L325.68,175.41 L325.80,172.74 L325.92,169.92 L326.05,166.96 L326.17,163.85 L326.30,160.61 L326.42,157.25 L326.54,153.77 L326.67,150.19 L326.79,146.51 L326.92,142.74 L327.04,138.89 L327.16,134.98 L327.29,131.00 L327.41,126.98 L327.54,122.92 L327.66,118.83 L327.78,114.72 L327.91,110.61 L328.03,106.50 L328.16,102.40 L328.28,98.32 L328.40,94.28 L328.53,90.29 L328.65,86.34 L328.78,82.47 L328.90,78.66 L329.02,74.94 L329.15,71.31 L329.27,67.79 L329.40,64.37 L329.52,61.07 L329.64,57.91 L329.77,54.88 L329.89,51.99 L330.02,49.25 L330.14,46.67 L330.26,44.26 L330.39,42.01 L330.51,39.94 L330.64,38.05 L330.76,36.35 L330.88,34.84 L331.01,33.52 L331.13,32.40 L331.26,31.48 L331.38,30.77 L331.50,30.25 L331.63,29.95 L331.75,29.85 L331.88,29.95 L332.00,30.26 L332.12,30.78 L332.25,31.50 L332.37,32.42 L332.50,33.55 L332.62,34.87 L332.74,36.38 L332.87,38.09 L332.99,39.98 L333.12,42.05 L333.24,44.30 L333.36,46.71 L333.49,49.30 L333.61,52.03 L333.74,54.92 L333.86,57.95 L333.98,61.12 L334.11,64.42 L334.23,67.83 L334.36,71.36 L334.48,74.98 L334.60,78.70 L334.73,82.50 L334.85,86.38 L334.98,90.32 L335.10,94.31 L335.22,98.34 L335.35,102.41 L335.47,106.51 L335.60,110.61 L335.72,114.72 L335.84,118.82 L335.97,122.90 L336.09,126.95 L336.22,130.97 L336.34,134.93 L336.46,138.84 L336.59,142.68 L336.71,146.44 L336.84,150.11 L336.96,153.68 L337.08,157.15 L337.21,160.50 L337.33,163.73 L337.46,166.82 L337.58,169.78 L337.70,172.59 L337.83,175.25 L337.95,177.74 L338.08,180.07 L338.20,182.22 L338.32,184.20 L338.45,185.99 L338.57,187.60 L338.70,189.01 L338.82,190.23 L338.94,191.25 L339.07,192.07 L339.19,192.68 L339.32,193.09 L339.44,193.30 L339.56,193.30 L339.69,193.09 L339.81,192.68 L339.94,192.06 L340.06,191.24 L340.18,190.21 L340.31,188.99 L340.43,187.58 L340.56,185.97 L340.68,184.17 L340.80,182.19 L340.93,180.04 L341.05,177.71 L341.18,175.21 L341.30,172.55 L341.42,169.74 L341.55,166.78 L341.67,163.69 L341.80,160.46 L341.92,157.11 L342.04,153.64 L342.17,150.07 L342.29,146.40 L342.42,142.65 L342.54,138.81 L342.66,134.91 L342.79,130.95 L342.91,126.94 L343.04,122.89 L343.16,118.81 L343.28,114.72 L343.41,110.61 L343.53,106.51 L343.66,102.43 L343.78,98.36 L343.90,94.33 L344.03,90.35 L344.15,86.42 L344.28,82.55 L344.40,78.75 L344.52,75.04 L344.65,71.43 L344.77,67.91 L344.90,64.50 L345.02,61.22 L345.14,58.06 L345.27,55.03 L345.39,52.15 L345.52,49.42 L345.64,46.85 L345.76,44.44 L345.89,42.20 L346.01,40.14 L346.14,38.25 L346.26,36.55 L346.38,35.05 L346.51,33.73 L346.63,32.61 L346.76,31.70 L346.88,30.98 L347.00,30.47 L347.13,30.16 L347.25,29.85 L347.38,29.95 L347.50,30.26" stroke="rgba(255,0,0,0.45)"/>
<path d="M37.50,172.58 L37.62,174.53 L37.75,176.32 L37.87,177.95 L38.00,179.40 L38.12,180.68 L38.24,181.78 L38.37,182.71 L38.49,183.45 L38.62,184.01 L38.74,184.38 L38.86,184.57 L38.99,184.57 L39.11,184.38 L39.24,184.01 L39.36,183.45 L39.48,182.71 L39.61,181.78 L39.73,180.68 L39.86,179.40 L39.98,177.95 L40.10,176.32 L40.23,174.53 L40.35,172.58 L40.48,170.48 L40.60,168.22 L40.72,165.81 L40.85,163.27 L40.97,160.60 L41.10,157.79 L41.22,154.87 L41.34,151.84 L41.47,148.70 L41.59,145.47 L41.72,142.15 L41.84,138.75 L41.96,135.28 L42.09,131.75 L42.21,128.16 L42.34,124.53 L42.46,120.86 L42.58,117.17 L42.71,113.47 L42.83,109.75 L42.96,106.04 L43.08,102.34 L43.20,98.66 L43.33,95.01 L43.45,91.40 L43.58,87.84 L43.70,84.34 L43.82,80.90 L43.95,77.54 L44.07,74.26 L44.20,71.08 L44.32,67.99 L44.44,65.01 L44.57,62.15 L44.69,59.41 L44.82,56.80 L44.94,54.33 L45.06,52.00 L45.19,49.81 L45.31,47.78 L45.44,45.91 L45.56,44.20 L45.68,42.67 L45.81,41.30 L45.93,40.11 L46.06,39.09 L46.18,38.26 L46.30,37.61 L46.43,37.14 L46.55,36.86 L46.68,36.77 L46.80,36.86 L46.92,37.14 L47.05,37.61 L47.17,38.26 L47.30,39.09 L47.42,40.11 L47.54,41.30 L47.67,42.67 L47.79,44.20 L47.92,45.91 L48.04,47.78 L48.16,49.81 L48.29,52.00 L48.41,54.33 L48.54,56.80 L48.66,59.41 L48.78,62.15 L48.91,65.01 L49.03,67.99 L49.16,71.08 L49.28,74.26 L49.40,77.54 L49.53,80.90 L49.65,84.34 L49.78,87.84 L49.90,91.40 L50.02,95.01 L50.15,98.66 L50.27,102.34 L50.40,106.04 L50.52,109.75 L50.64,113.47 L50.77,117.17 L50.89,120.86 L51.02,124.53 L51.14,128.16 L51.26,131.75 L51.39,135.28 L51.51,138.75 L51.64,142.15 L51.76,145.47 L51.88,148.70 L52.01,151.84 L52.13,154.87 L52.26,157.79 L52.38,160.60 L52.50,163.27 L52.63,165.81 L52.75,168.22 L52.88,170.48 L53.00,172.58 L53.12,174.53 L53.25,176.32 L53.37,177.95 L53.50,179.40 L53.62,180.68 L53.74,181.78 L53.87,182.71 L53.99,183.45 L54.12,184.01 L54.24,184.38 L54.36,184.57 L54.49,184.57 L54.61,184.38 L54.74,184.01 L54.86,183.45 L54.98,182.71 L55.11,181.78 L55.23,180.68 L55.36,179.40 L55.48,177.95 L55.60,176.32 L55.73,174.53 L55.85,172.58 L55.98,170.48 L56.10,168.22 L56.22,165.81 L56.35,163.27 L56.47,160.60 L56.60,157.79 L56.72,154.87 L56.84,151.84 L56.97,148.70 L57.09,145.47 L57.22,142.15 L57.34,138.75 L57.46,135.28 L57.59,131.75 L57.71,128.16 L57.84,124.53 L57.96,120.86 L58.08,117.17 L58.21,113.47 L58.33,109.75 L58.46,106.04 L58.58,102.34 L58.70,98.66 L58.83,95.01 L58.95,91.40 L59.08,87.84 L59.20,84.34 L59.32,80.90 L59.45,77.54 L59.57,74.26 L59.70,71.08 L59.82,67.99 L59.94,65.01 L60.07,62.15 L60.19,59.41 L60.32,56.80 L60.44,54.33 L60.56,52.00 L60.69,49.81 L60.81,47.78 L60.94,45.91 L61.06,44.20 L61.18,42.67 L61.31,41.30 L61.43,40.11 L61.56,39.09 L61.68,38.26 L61.80,37.61 L61.93,37.14 L62.05,36.86 L62.18,36.77 L62.30,36.86 L62.42,37.14 L62.55,37.61 L62.67,38.26 L62.80,39.09 L62.92,40.11 L63.04,41.30 L63.17,42.67 L63.29,44.20 L63.42,45.91 L63.54,47.78 L63.66,49.81 L63.79,52.00 L63.91,54.33 L64.04,56.80 L64.16,59.41 L64.28,62.15 L64.41,65.01 L64.53,67.99 L64.66,71.08 L64.78,74.26 L64.90,77.54 L65.03,80.90 L65.15,84.34 L65.28,87.84 L65.40,91.40 L65.52,95.01 L65.65,98.66 L65.77,102.34 L65.90,106.04 L66.02,109.75 L66.14,113.47 L66.27,117.17 L66.39,120.86 L66.52,124.53 L66.64,128.16 L66.76,131.75 L66.89,135.28 L67.01,138.75 L67.14,142.15 L67.26,145.47 L67.38,148.70 L67.51,151.84 L67.63,154.87 L67.76,157.79 L67.88,160.60 L68.00,163.27 L68.13,165.81 L68.25,168.22 L68.38,170.48 L68.50,172.58 L68.62,174.53 L68.75,176.32 L68.87,177.95 L69.00,179.40 L69.12,180.68 L69.24,181.78 L69.37,182.71 L69.49,183.45 L69.62,184.01 L69.74,184.38 L69.86,184.57 L69.99,184.57 L70.11,184.38 L70.24,184.01 L70.36,183.45 L70.48,182.71 L70.61,181.78 L70.73,180.68 L70.86,179.40 L70.98,177.95 L71.10,176.32 L71.23,174.53 L71.35,172.58 L71.48,170.48 L71.60,168.22 L71.72,165.81 L71.85,163.27 L71.97,160.60 L72.10,157.79 L72.22,154.87 L72.34,151.84 L72.47,148.70 L72.59,145.47 L72.72,142.15 L72.84,138.75 L72.96,135.28 L73.09,131.75 L73.21,128.16 L73.34,124.53 L73.46,120.86 L73.58,117.17 L73.71,113.47 L73.83,109.75 L73.96,106.04 L74.08,102.34 L74.20,98.66 L74.33,95.01 L74.45,91.40 L74.58,87.84 L74.70,84.34 L74.82,80.90 L74.95,77.54 L75.07,74.26 L75.20,71.08 L75.32,67.99 L75.44,65.01 L75.57,62.15 L75.69,59.41 L75.82,56.80 L75.94,54.33 L76.06,52.00 L76.19,49.81 L76.31,47.78 L76.44,45.91 L76.56,44.20 L76.68,42.67 L76.81,41.30 L76.93,40.11 L77.06,39.09 L77.18,38.26 L77.30,37.61 L77.43,37.14 L77.55,36.86 L77.68,36.77 L77.80,36.86 L77.92,37.14 L78.05,37.61 L78.17,38.26 L78.30,39.09 L78.42,40.11 L78.54,41.30 L78.67,42.67 L78.79,44.20 L78.92,45.91 L79.04,47.78 L79.16,49.81 L79.29,52.00 L79.41,54.33 L79.54,56.80 L79.66,59.41 L79.78,62.15 L79.91,65.01 L80.03,67.99 L80.16,71.08 L80.28,74.26 L80.40,77.54 L80.53,80.90 L80.65,84.34 L80.78,87.84 L80.90,91.40 L81.02,95.01 L81.15,98.66 L81.27,102.34 L81.40,106.04 L81.52,109.75 L81.64,113.47 L81.77,117.17 L81.89,120.86 L82.02,124.53 L82.14,128.16 L82.26,131.75 L82.39,135.28 L82.51,138.75 L82.64,142.15 L82.76,145.47 L82.88,148.70 L83.01,151.84 L83.13,154.87 L83.26,157.79 L83.38,160.60 L83.50,163.27 L83.63,165.81 L83.75,168.22 L83.88,170.48 L84.00,172.58 L84.12,174.53 L84.25,176.32 L84.37,177.95 L84.50,179.40 L84.62,180.68 L84.74,181.78 L84.87,182.71 L84.99,183.45 L85.12,184.01 L85.24,184.38 L85.36,184.57 L85.49,184.57 L85.61,184.38 L85.74,184.01 L85.86,183.45 L85.98,182.71 L86.11,181.78 L86.23,180.68 L86.36,179.40 L86.48,177.95 L86.60,176.32 L86.73,174.53 L86.85,172.58 L86.98,170.48 L87.10,168.22 L87.22,165.81 L87.35,163.27 L87.47,160.60 L87.60,157.79 L87.72,154.87 L87.84,151.84 L87.97,148.70 L88.09,145.47 L88.22,142.15 L88.34,138.75 L88.46,135.28 L88.59,131.75 L88.71,128.16 L88.84,124.53 L88.96,120.86 L89.08,117.17 L89.21,113.47 L89.33,109.75 L89.46,106.04 L89.58,102.34 L89.70,98.66 L89.83,95.01 L89.95,91.40 L90.08,87.84 L90.20,84.34 L90.32,80.90 L90.45,77.54 L90.57,74.26 L90.70,71.08 L90.82,67.99 L90.94,65.01 L91.07,62.15 L91.19,59.41 L91.32,56.80 L91.44,54.33 L91.56,52.00 L91.69,49.81 L91.81,47.78 L91.94,45.91 L92.06,44.20 L92.18,42.67 L92.31,41.30 L92.43,40.11 L92.56,39.09 L92.68,38.26 L92.80,37.61 L92.93,37.14 L93.05,36.86 L93.18,36.77 L93.30,36.86 L93.42,37.14 L93.55,37.61 L93.67,38.26 L93.80,39.09 L93.92,40.11 L94.04,41.30 L94.17,42.67 L94.29,44.20 L94.42,45.91 L94.54,47.78 L94.66,49.81 L94.79,52.00 L94.91,54.33 L95.04,56.80 L95.16,59.41 L95.28,62.15 L95.41,65.01 L95.53,67.99 L95.66,71.08 L95.78,74.26 L95.90,77.54 L96.03,80.90 L96.15,84.34 L96.28,87.84 L96.40,91.40 L96.52,95.01 L96.65,98.66 L96.77,102.34 L96.90,106.04 L97.02,109.75 L97.14,113.47 L97.27,117.17 L97.39,120.86 L97.52,124.53 L97.64,128.16 L97.76,131.75 L97.89,135.28 L98.01,138.75 L98.14,142.15 L98.26,145.47 L98.38,148.70 L98.51,151.84 L98.63,154.87 L98.76,157.79 L98.88,160.60 L99.00,163.27 L99.13,165.81 L99.25,168.22 L99.38,170.48 L99.50,172.58 L99.62,174.53 L99.75,176.32 L99.87,177.95 L100.00,179.40 L100.12,180.68 L100.24,181.78 L100.37,182.71 L100.49,183.45 L100.62,184.01 L100.74,184.38 L100.86,184.57 L100.99,184.57 L101.11,184.38 L101.24,184.01 L101.36,183.45 L101.48,182.71 L101.61,181.78 L101.73,180.68 L101.86,179.40 L101.98,177.95 L102.10,176.32 L102.23,174.53 L102.35,172.58 L102.48,170.48 L102.60,168.22 L102.72,165.81 L102.85,163.27 L102.97,160.60 L103.10,157.79 L103.22,154.87 L103.34,151.84 L103.47,148.70 L103.59,145.47 L103.72,142.15 L103.84,138.75 L103.96,135.28 L104.09,131.75 L104.21,128.16 L104.34,124.53 L104.46,120.86 L104.58,117.17 L104.71,113.47 L104.83,109.75 L104.96,106.04 L105.08,102.34 L105.20,98.66 L105.33,95.01 L105.45,91.40 L105.58,87.84 L105.70,84.34 L105.82,80.90 L105.95,77.54 L106.07,74.26 L106.20,71.08 L106.32,67.99 L106.44,65.01 L106.57,62.15 L106.69,59.41 L106.82,56.80 L106.94,54.33 L107.06,52.00 L107.19,49.81 L107.31,47.78 L107.44,45.91 L107.56,44.20 L107.68,42.67 L107.81,41.30 L107.93,40.11 L108.06,39.09 L108.18,38.26 L108.30,37.61 L108.43,37.14 L108.55,36.86 L108.68,36.77 L108.80,36.86 L108.92,37.14 L109.05,37.61 L109.17,38.26 L109.30,39.09 L109.42,40.11 L109.54,41.30 L109.67,42.67 L109.79,44.20 L109.92,45.91 L110.04,47.78 L110.16,49.81 L110.29,52.00 L110.41,54.33 L110.54,56.80 L110.66,59.41 L110.78,62.15 L110.91,65.01 L111.03,67.99 L111.16,71.08 L111.28,74.26 L111.40,77.54 L111.53,80.90 L111.65,84.34 L111.78,87.84 L111.90,91.40 L112.02,95.01 L112.15,98.66 L112.27,102.34 L112.40,106.04 L112.52,109.75 L112.64,113.47 L112.77,117.17 L112.89,120.86 L113.02,124.53 L113.14,128.16 L113.26,131.75 L113.39,135.28 L113.51,138.75 L113.64,142.15 L113.76,145.47 L113.88,148.70 L114.01,151.84 L114.13,154.87 L114.26,157.79 L114.38,160.60 L114.50,163.27 L114.63,165.81 L114.75,168.22 L114.88,170.48 L115.00,172.58 L115.12,174.53 L115.25,176.32 L115.37,177.95 L115.50,179.40 L115.62,180.68 L115.74,181.78 L115.87,182.71 L115.99,183.45 L116.12,184.01 L116.24,184.38 L116.36,184.57 L116.49,184.57 L116.61,184.38 L116.74,184.01 L116.86,183.45 L116.98,182.71 L117.11,181.78 L117.23,180.68 L117.36,179.40 L117.48,177.95 L117.60,176.32 L117.73,174.53 L117.85,172.58 L117.98,170.48 L118.10,168.22 L118.22,165.81 L118.35,163.27 L118.47,160.60 L118.60,157.79 L118.72,154.87 L118.84,151.84 L118.97,148.70 L119.09,145.47 L119.22,142.15 L119.34,138.75 L119.46,135.28 L119.59,131.75 L119.71,128.16 L119.84,124.53 L119.96,120.86 L120.08,117.17 L120.21,113.47 L120.33,109.75 L120.46,106.04 L120.58,102.34 L120.70,98.66 L120.83,95.01 L120.95,91.40 L121.08,87.84 L121.20,84.34 L121.32,80.90 L121.45,77.54 L121.57,74.26 L121.70,71.08 L121.82,67.99 L121.94,65.01 L122.07,62.15 L122.19,59.41 L122.32,56.80 L122.44,54.33 L122.56,52.00 L122.69,49.81 L122.81,47.78 L122.94,45.91 L123.06,44.20 L123.18,42.67 L123.31,41.30 L123.43,40.11 L123.56,39.09 L123.68,38.26 L123.80,37.61 L123.93,37.14 L124.05,36.86 L124.18,36.77 L124.30,36.86 L124.42,37.14 L124.55,37.61 L124.67,38.26 L124.80,39.09 L124.92,40.11 L125.04,41.30 L125.17,42.67 L125.29,44.20 L125.42,45.91 L125.54,47.78 L125.66,49.81 L125.79,52.00 L125.91,54.33 L126.04,56.80 L126.16,59.41 L126.28,62.15 L126.41,65.01 L126.53,67.99 L126.66,71.08 L126.78,74.26 L126.90,77.54 L127.03,80.90 L127.15,84.34 L127.28,87.84 L127.40,91.40 L127.52,95.01 L127.65,98.66 L127.77,102.34 L127.90,106.04 L128.02,109.75 L128.14,113.47 L128.27,117.17 L128.39,120.86 L128.52,124.53 L128.64,128.16 L128.76,131.75 L128.89,135.28 L129.01,138.75 L129.14,142.15 L129.26,145.47 L129.38,148.70 L129.51,151.84 L129.63,154.87 L129.76,157.79 L129.88,160.60 L130.00,163.27 L130.13,165.81 L130.25,168.22 L130.38,170.48 L130.50,172.58 L130.62,174.53 L130.75,176.32 L130.87,177.95 L131.00,179.40 L131.12,180.68 L131.24,181.78 L131.37,182.71 L131.49,183.45 L131.62,184.01 L131.74,184.38 L131.86,184.57 L131.99,184.57 L132.11,184.38 L132.24,184.01 L132.36,183.45 L132.48,182.71 L132.61,181.78 L132.73,180.68 L132.86,179.40 L132.98,177.95 L133.10,176.32 L133.23,174.53 L133.35,172.58 L133.48,170.48 L133.60,168.22 L133.72,165.81 L133.85,163.27 L133.97,160.60 L134.10,157.79 L134.22,154.87 L134.34,151.84 L134.47,148.70 L134.59,145.47 L134.72,142.15 L134.84,138.75 L134.96,135.28 L135.09,131.75 L135.21,128.16 L135.34,124.53 L135.46,120.86 L135.58,117.17 L135.71,113.47 L135.83,109.75 L135.96,106.04 L136.08,102.34 L136.20,98.66 L136.33,95.01 L136.45,91.40 L136.58,87.84 L136.70,84.34 L136.82,80.90 L136.95,77.54 L137.07,74.26 L137.20,71.08 L137.32,67.99 L137.44,65.01 L137.57,62.15 L137.69,59.41 L137.82,56.80 L137.94,54.33 L138.06,52.00 L138.19,49.81 L138.31,47.78 L138.44,45.91 L138.56,44.20 L138.68,42.67 L138.81,41.30 L138.93,40.11 L139.06,39.09 L139.18,38.26 L139.30,37.61 L139.43,37.14 L139.55,36.86 L139.68,36.77 L139.80,36.86 L139.92,37.14 L140.05,37.61 L140.17,38.26 L140.30,39.09 L140.42,40.11 L140.54,41.30 L140.67,42.67 L140.79,44.20 L140.92,45.91 L141.04,47.78 L141.16,49.81 L141.29,52.00 L141.41,54.33 L141.54,56.80 L141.66,59.41 L141.78,62.15 L141.91,65.01 L142.03,67.99 L142.16,71.08 L142.28,74.26 L142.40,77.54 L142.53,80.90 L142.65,84.34 L142.78,87.84 L142.90,91.40 L143.02,95.01 L143.15,98.66 L143.27,102.34 L143.40,106.04 L143.52,109.75 L143.64,113.47 L143.77,117.17 L143.89,120.86 L144.02,124.53 L144.14,128.16 L144.26,131.75 L144.39,135.28 L144.51,138.75 L144.64,142.15 L144.76,145.47 L144.88,148.70 L145.01,151.84 L145.13,154.87 L145.26,157.79 L145.38,160.60 L145.50,163.27 L145.63,165.81 L145.75,168.22 L145.88,170.48 L146.00,172.58 L146.12,174.53 L146.25,176.32 L146.37,177.95 L146.50,179.40 L146.62,180.68 L146.74,181.78 L146.87,182.71 L146.99,183.45 L147.12,184.01 L147.24,184.38 L147.36,184.57 L147.49,184.57 L147.61,184.38 L147.74,184.01 L147.86,183.45 L147.98,182.71 L148.11,181.78 L148.23,180.68 L148.36,179.40 L148.48,177.95 L148.60,176.32 L148.73,174.53 L148.85,172.58 L148.98,170.48 L149.10,168.22 L149.22,165.81 L149.35,163.27 L149.47,160.60 L149.60,157.79 L149.72,154.87 L149.84,151.84 L149.97,148.70 L150.09,145.47 L150.22,142.15 L150.34,138.75 L150.46,135.28 L150.59,131.75 L150.71,128.16 L150.84,124.53 L150.96,120.86 L151.08,117.17 L151.21,113.47 L151.33,109.75 L151.46,106.04 L151.58,102.34 L151.70,98.66 L151.83,95.01 L151.95,91.40 L152.08,87.84 L152.20,84.34 L152.32,80.90 L152.45,77.54 L152.57,74.26 L152.70,71.08 L152.82,67.99 L152.94,65.01 L153.07,62.15 L153.19,59.41 L153.32,56.80 L153.44,54.33 L153.56,52.00 L153.69,49.81 L153.81,47.78 L153.94,45.91 L154.06,44.20 L154.18,42.67 L154.31,41.30 L154.43,40.11 L154.56,39.09 L154.68,38.26 L154.80,37.61 L154.93,37.14 L155.05,36.86 L155.18,36.77 L155.30,36.86 L155.42,37.14 L155.55,37.61 L155.67,38.26 L155.80,39.09 L155.92,40.11 L156.04,41.30 L156.17,42.67 L156.29,44.20 L156.42,45.91 L156.54,47.78 L156.66,49.81 L156.79,52.00 L156.91,54.33 L157.04,56.80 L157.16,59.41 L157.28,62.15 L157.41,65.01 L157.53,67.99 L157.66,71.08 L157.78,74.26 L157.90,77.54 L158.03,80.90 L158.15,84.34 L158.28,87.84 L158.40,91.40 L158.52,95.01 L158.65,98.66 L158.77,102.34 L158.90,106.04 L159.02,109.75 L159.14,113.47 L159.27,117.17 L159.39,120.86 L159.52,124.53 L159.64,128.16 L159.76,131.75 L159.89,135.28 L160.01,138.75 L160.14,142.15 L160.26,145.47 L160.38,148.70 L160.51,151.84 L160.63,154.87 L160.76,157.79 L160.88,160.60 L161.00,163.27 L161.13,165.81 L161.25,168.22 L161.38,170.48 L161.50,172.58 L161.62,174.53 L161.75,176.32 L161.87,177.95 L162.00,179.40 L162.12,180.68 L162.24,181.78 L162.37,182.71 L162.49,183.45 L162.62,184.01 L162.74,184.38 L162.86,184.57 L162.99,184.57 L163.11,184.38 L163.24,184.01 L163.36,183.45 L163.48,182.71 L163.61,181.78 L163.73,180.68 L163.86,179.40 L163.98,177.95 L164.10,176.32 L164.23,174.53 L164.35,172.58 L164.48,170.48 L164.60,168.22 L164.72,165.81 L164.85,163.27 L164.97,160.60 L165.10,157.79 L165.22,154.87 L165.34,151.84 L165.47,148.70 L165.59,145.47 L165.72,142.15 L165.84,138.75 L165.96,135.28 L166.09,131.75 L166.21,128.16 L166.34,124.53 L166.46,120.86 L166.58,117.17 L166.71,113.47 L166.83,109.75 L166.96,106.04 L167.08,102.34 L167.20,98.66 L167.33,95.01 L167.45,91.40 L167.58,87.84 L167.70,84.34 L167.82,80.90 L167.95,77.54 L168.07,74.26 L168.20,71.08 L168.32,67.99 L168.44,65.01 L168.57,62.15 L168.69,59.41 L168.82,56.80 L168.94,54.33 L169.06,52.00 L169.19,49.81 L169.31,47.78 L169.44,45.91 L169.56,44.20 L169.68,42.67 L169.81,41.30 L169.93,40.11 L170.06,39.09 L170.18,38.26 L170.30,37.61 L170.43,37.14 L170.55,36.86 L170.68,36.77 L170.80,36.86 L170.92,37.14 L171.05,37.61 L171.17,38.26 L171.30,39.09 L171.42,40.11 L171.54,41.30 L171.67,42.67 L171.79,44.20 L171.92,45.91 L172.04,47.78 L172.16,49.81 L172.29,52.00 L172.41,54.33 L172.54,56.80 L172.66,59.41 L172.78,62.15 L172.91,65.01 L173.03,67.99 L173.16,71.08 L173.28,74.26 L173.40,77.54 L173.53,80.90 L173.65,84.34 L173.78,87.84 L173.90,91.40 L174.02,95.01 L174.15,98.66 L174.27,102.34 L174.40,106.04 L174.52,109.75 L174.64,113.47 L174.77,117.17 L174.89,120.86 L175.02,124.53 L175.14,128.16 L175.26,131.75 L175.39,135.28 L175.51,138.75 L175.64,142.15 L175.76,145.47 L175.88,148.70 L176.01,151.84 L176.13,154.87 L176.26,157.79 L176.38,160.60 L176.50,163.27 L176.63,165.81 L176.75,168.22 L176.88,170.48 L177.00,172.58 L177.12,174.53 L177.25,176.32 L177.37,177.95 L177.50,179.40 L177.62,180.68 L177.74,181.78 L177.87,182.71 L177.99,183.45 L178.12,184.01 L178.24,184.38 L178.36,184.57 L178.49,184.57 L178.61,184.38 L178.74,184.01 L178.86,183.45 L178.98,182.71 L179.11,181.78 L179.23,180.68 L179.36,179.40 L179.48,177.95 L179.60,176.32 L179.73,174.53 L179.85,172.58 L179.98,170.48 L180.10,168.22 L180.22,165.81 L180.35,163.27 L180.47,160.60 L180.60,157.79 L180.72,154.87 L180.84,151.84 L180.97,148.70 L181.09,145.47 L181.22,142.15 L181.34,138.75 L181.46,135.28 L181.59,131.75 L181.71,128.16 L181.84,124.53 L181.96,120.86 L182.08,117.17 L182.21,113.47 L182.33,109.75 L182.46,106.04 L182.58,102.34 L182.70,98.66 L182.83,95.01 L182.95,91.40 L183.08,87.84 L183.20,84.34 L183.32,80.90 L183.45,77.54 L183.57,74.26 L183.70,71.08 L183.82,67.99 L183.94,65.01 L184.07,62.15 L184.19,59.41 L184.32,56.80 L184.44,54.33 L184.56,52.00 L184.69,49.81 L184.81,47.78 L184.94,45.91 L185.06,44.20 L185.18,42.67 L185.31,41.30 L185.43,40.11 L185.56,39.09 L185.68,38.26 L185.80,37.61 L185.93,37.14 L186.05,36.86 L186.18,36.77 L186.30,36.86 L186.42,37.14 L186.55,37.61 L186.67,38.26 L186.80,39.09 L186.92,40.11 L187.04,41.30 L187.17,42.67 L187.29,44.20 L187.42,45.91 L187.54,47.78 L187.66,49.81 L187.79,52.00 L187.91,54.33 L188.04,56.80 L188.16,59.41 L188.28,62.15 L188.41,65.01 L188.53,67.99 L188.66,71.08 L188.78,74.26 L188.90,77.54 L189.03,80.90 L189.15,84.34 L189.28,87.84 L189.40,91.40 L189.52,95.01 L189.65,98.66 L189.77,102.34 L189.90,106.04 L190.02,109.75 L190.14,113.47 L190.27,117.17 L190.39,120.86 L190.52,124.53 L190.64,128.16 L190.76,131.75 L190.89,135.28 L191.01,138.75 L191.14,142.15 L191.26,145.47 L191.38,148.70 L191.51,151.84 L191.63,154.87 L191.76,157.79 L191.88,160.60 L192.00,163.27 L192.13,165.81 L192.25,168.22 L192.38,170.48 L192.50,172.58 L192.62,174.53 L192.75,176.32 L192.87,177.95 L193.00,179.40 L193.12,180.68 L193.24,181.78 L193.37,182.71 L193.49,183.45 L193.62,184.01 L193.74,184.38 L193.86,184.57 L193.99,184.57 L194.11,184.38 L194.24,184.01 L194.36,183.45 L194.48,182.71 L194.61,181.78 L194.73,180.68 L194.86,179.40 L194.98,177.95 L195.10,176.32 L195.23,174.53 L195.35,172.58 L195.48,170.48 L195.60,168.22 L195.72,165.81 L195.85,163.27 L195.97,160.60 L196.10,157.79 L196.22,154.87 L196.34,151.84 L196.47,148.70 L196.59,145.47 L196.72,142.15 L196.84,138.75 L196.96,135.28 L197.09,131.75 L197.21,128.16 L197.34,124.53 L197.46,120.86 L197.58,117.17 L197.71,113.47 L197.83,109.75 L197.96,106.04 L198.08,102.34 L198.20,98.66 L198.33,95.01 L198.45,91.40 L198.58,87.84 L198.70,84.34 L198.82,80.90 L198.95,77.54 L199.07,74.26 L199.20,71.08 L199.32,67.99 L199.44,65.01 L199.57,62.15 L199.69,59.41 L199.82,56.80 L199.94,54.33 L200.06,52.00 L200.19,49.81 L200.31,47.78 L200.44,45.91 L200.56,44.20 L200.68,42.67 L200.81,41.30 L200.93,40.11 L201.06,39.09 L201.18,38.26 L201.30,37.61 L201.43,37.14 L201.55,36.86 L201.68,36.77 L201.80,36.86 L201.92,37.14 L202.05,37.61 L202.17,38.26 L202.30,39.09 L202.42,40.11 L202.54,41.30 L202.67,42.67 L202.79,44.20 L202.92,45.91 L203.04,47.78 L203.16,49.81 L203.29,52.00 L203.41,54.33 L203.54,56.80 L203.66,59.41 L203.78,62.15 L203.91,65.01 L204.03,67.99 L204.16,71.08 L204.28,74.26 L204.40,77.54 L204.53,80.90 L204.65,84.34 L204.78,87.84 L204.90,91.40 L205.02,95.01 L205.15,98.66 L205.27,102.34 L205.40,106.04 L205.52,109.75 L205.64,113.47 L205.77,117.17 L205.89,120.86 L206.02,124.53 L206.14,128.16 L206.26,131.75 L206.39,135.28 L206.51,138.75 L206.64,142.15 L206.76,145.47 L206.88,148.70 L207.01,151.84 L207.13,154.87 L207.26,157.79 L207.38,160.60 L207.50,163.27 L207.63,165.81 L207.75,168.22 L207.88,170.48 L208.00,172.58 L208.12,174.53 L208.25,176.32 L208.37,177.95 L208.50,179.40 L208.62,180.68 L208.74,181.78 L208.87,182.71 L208.99,183.45 L209.12,184.01 L209.24,184.38 L209.36,184.57 L209.49,184.57 L209.61,184.38 L209.74,184.01 L209.86,183.45 L209.98,182.71 L210.11,181.78 L210.23,180.68 L210.36,179.40 L210.48,177.95 L210.60,176.32 L210.73,174.53 L210.85,172.58 L210.98,170.48 L211.10,168.22 L211.22,165.81 L211.35,163.27 L211.47,160.60 L211.60,157.79 L211.72,154.87 L211.84,151.84 L211.97,148.70 L212.09,145.47 L212.22,142.15 L212.34,138.75 L212.46,135.28 L212.59,131.75 L212.71,128.16 L212.84,124.53 L212.96,120.86 L213.08,117.17 L213.21,113.47 L213.33,109.75 L213.46,106.04 L213.58,102.34 L213.70,98.66 L213.83,95.01 L213.95,91.40 L214.08,87.84 L214.20,84.34 L214.32,80.90 L214.45,77.54 L214.57,74.26 L214.70,71.08 L214.82,67.99 L214.94,65.01 L215.07,62.15 L215.19,59.41 L215.32,56.80 L215.44,54.33 L215.56,52.00 L215.69,49.81 L215.81,47.78 L215.94,45.91 L216.06,44.20 L216.18,42.67 L216.31,41.30 L216.43,40.11 L216.56,39.09 L216.68,38.26 L216.80,37.61 L216.93,37.14 L217.05,36.86 L217.18,36.77 L217.30,36.86 L217.42,37.14 L217.55,37.61 L217.67,38.26 L217.80,39.09 L217.92,40.11 L218.04,41.30 L218.17,42.67 L218.29,44.20 L218.42,45.91 L218.54,47.78 L218.66,49.81 L218.79,52.00 L218.91,54.33 L219.04,56.80 L219.16,59.41 L219.28,62.15 L219.41,65.01 L219.53,67.99 L219.66,71.08 L219.78,74.26 L219.90,77.54 L220.03,80.90 L220.15,84.34 L220.28,87.84 L220.40,91.40 L220.52,95.01 L220.65,98.66 L220.77,102.34 L220.90,106.04 L221.02,109.75 L221.14,113.47 L221.27,117.17 L221.39,120.86 L221.52,124.53 L221.64,128.16 L221.76,131.75 L221.89,135.28 L222.01,138.75 L222.14,142.15 L222.26,145.47 L222.38,148.70 L222.51,151.84 L222.63,154.87 L222.76,157.79 L222.88,160.60 L223.00,163.27 L223.13,165.81 L223.25,168.22 L223.38,170.48 L223.50,172.58 L223.62,174.53 L223.75,176.32 L223.87,177.95 L224.00,179.40 L224.12,180.68 L224.24,181.78 L224.37,182.71 L224.49,183.45 L224.62,184.01 L224.74,184.38 L224.86,184.57 L224.99,184.57 L225.11,184.38 L225.24,184.01 L225.36,183.45 L225.48,182.71 L225.61,181.78 L225.73,180.68 L225.86,179.40 L225.98,177.95 L226.10,176.32 L226.23,174.53 L226.35,172.58 L226.48,170.48 L226.60,168.22 L226.72,165.81 L226.85,163.27 L226.97,160.60 L227.10,157.79 L227.22,154.87 L227.34,151.84 L227.47,148.70 L227.59,145.47 L227.72,142.15 L227.84,138.75 L227.96,135.28 L228.09,131.75 L228.21,128.16 L228.34,124.53 L228.46,120.86 L228.58,117.17 L228.71,113.47 L228.83,109.75 L228.96,106.04 L229.08,102.34 L229.20,98.66 L229.33,95.01 L229.45,91.40 L229.58,87.84 L229.70,84.34 L229.82,80.90 L229.95,77.54 L230.07,74.26 L230.20,71.08 L230.32,67.99 L230.44,65.01 L230.57,62.15 L230.69,59.41 L230.82,56.80 L230.94,54.33 L231.06,52.00 L231.19,49.81 L231.31,47.78 L231.44,45.91 L231.56,44.20 L231.68,42.67 L231.81,41.30 L231.93,40.11 L232.06,39.09 L232.18,38.26 L232.30,37.61 L232.43,37.14 L232.55,36.86 L232.68,36.77 L232.80,36.86 L232.92,37.14 L233.05,37.61 L233.17,38.26 L233.30,39.09 L233.42,40.11 L233.54,41.30 L233.67,42.67 L233.79,44.20 L233.92,45.91 L234.04,47.78 L234.16,49.81 L234.29,52.00 L234.41,54.33 L234.54,56.80 L234.66,59.41 L234.78,62.15 L234.91,65.01 L235.03,67.99 L235.16,71.08 L235.28,74.26 L235.40,77.54 L235.53,80.90 L235.65,84.34 L235.78,87.84 L235.90,91.40 L236.02,95.01 L236.15,98.66 L236.27,102.34 L236.40,106.04 L236.52,109.75 L236.64,113.47 L236.77,117.17 L236.89,120.86 L237.02,124.53 L237.14,128.16 L237.26,131.75 L237.39,135.28 L237.51,138.75 L237.64,142.15 L237.76,145.47 L237.88,148.70 L238.01,151.84 L238.13,154.87 L238.26,157.79 L238.38,160.60 L238.50,163.27 L238.63,165.81 L238.75,168.22 L238.88,170.48 L239.00,172.58 L239.12,174.53 L239.25,176.32 L239.37,177.95 L239.50,179.40 L239.62,180.68 L239.74,181.78 L239.87,182.71 L239.99,183.45 L240.12,184.01 L240.24,184.38 L240.36,184.57 L240.49,184.57 L240.61,184.38 L240.74,184.01 L240.86,183.45 L240.98,182.71 L241.11,181.78 L241.23,180.68 L241.36,179.40 L241.48,177.95 L241.60,176.32 L241.73,174.53 L241.85,172.58 L241.98,170.48 L242.10,168.22 L242.22,165.81 L242.35,163.27 L242.47,160.60 L242.60,157.79 L242.72,154.87 L242.84,151.84 L242.97,148.70 L243.09,145.47 L243.22,142.15 L243.34,138.75 L243.46,135.28 L243.59,131.75 L243.71,128.16 L243.84,124.53 L243.96,120.86 L244.08,117.17 L244.21,113.47 L244.33,109.75 L244.46,106.04 L244.58,102.34 L244.70,98.66 L244.83,95.01 L244.95,91.40 L245.08,87.84 L245.20,84.34 L245.32,80.90 L245.45,77.54 L245.57,74.26 L245.70,71.08 L245.82,67.99 L245.94,65.01 L246.07,62.15 L246.19,59.41 L246.32,56.80 L246.44,54.33 L246.56,52.00 L246.69,49.81 L246.81,47.78 L246.94,45.91 L247.06,44.20 L247.18,42.67 L247.31,41.30 L247.43,40.11 L247.56,39.09 L247.68,38.26 L247.80,37.61 L247.93,37.14 L248.05,36.86 L248.18,36.77 L248.30,36.86 L248.42,37.14 L248.55,37.61 L248.67,38.26 L248.80,39.09 L248.92,40.11 L249.04,41.30 L249.17,42.67 L249.29,44.20 L249.42,45.91 L249.54,47.78 L249.66,49.81 L249.79,52.00 L249.91,54.33 L250.04,56.80 L250.16,59.41 L250.28,62.15 L250.41,65.01 L250.53,67.99 L250.66,71.08 L250.78,74.26 L250.90,77.54 L251.03,80.90 L251.15,84.34 L251.28,87.84 L251.40,91.40 L251.52,95.01 L251.65,98.66 L251.77,102.34 L251.90,106.04 L252.02,109.75 L252.14,113.47 L252.27,117.17 L252.39,120.86 L252.52,124.53 L252.64,128.16 L252.76,131.75 L252.89,135.28 L253.01,138.75 L253.14,142.15 L253.26,145.47 L253.38,148.70 L253.51,151.84 L253.63,154.87 L253.76,157.79 L253.88,160.60 L254.00,163.27 L254.13,165.81 L254.25,168.22 L254.38,170.48 L254.50,172.58 L254.62,174.53 L254.75,176.32 L254.87,177.95 L255.00,179.40 L255.12,180.68 L255.24,181.78 L255.37,182.71 L255.49,183.45 L255.62,184.01 L255.74,184.38 L255.86,184.57 L255.99,184.57 L256.11,184.38 L256.24,184.01 L256.36,183.45 L256.48,182.71 L256.61,181.78 L256.73,180.68 L256.86,179.40 L256.98,177.95 L257.10,176.32 L257.23,174.53 L257.35,172.58 L257.48,170.48 L257.60,168.22 L257.72,165.81 L257.85,163.27 L257.97,160.60 L258.10,157.79 L258.22,154.87 L258.34,151.84 L258.47,148.70 L258.59,145.47 L258.72,142.15 L258.84,138.75 L258.96,135.28 L259.09,131.75 L259.21,128.16 L259.34,124.53 L259.46,120.86 L259.58,117.17 L259.71,113.47 L259.83,109.75 L259.96,106.04 L260.08,102.34 L260.20,98.66 L260.33,95.01 L260.45,91.40 L260.58,87.84 L260.70,84.34 L260.82,80.90 L260.95,77.54 L261.07,74.26 L261.20,71.08 L261.32,67.99 L261.44,65.01 L261.57,62.15 L261.69,59.41 L261.82,56.80 L261.94,54.33 L262.06,52.00 L262.19,49.81 L262.31,47.78 L262.44,45.91 L262.56,44.20 L262.68,42.67 L262.81,41.30 L262.93,40.11 L263.06,39.09 L263.18,38.26 L263.30,37.61 L263.43,37.14 L263.55,36.86 L263.68,36.77 L263.80,36.86 L263.92,37.14 L264.05,37.61 L264.17,38.26 L264.30,39.09 L264.42,40.11 L264.54,41.30 L264.67,42.67 L264.79,44.20 L264.92,45.91 L265.04,47.78 L265.16,49.81 L265.29,52.00 L265.41,54.33 L265.54,56.80 L265.66,59.41 L265.78,62.15 L265.91,65.01 L266.03,67.99 L266.16,71.08 L266.28,74.26 L266.40,77.54 L266.53,80.90 L266.65,84.34 L266.78,87.84 L266.90,91.40 L267.02,95.01 L267.15,98.66 L267.27,102.34 L267.40,106.04 L267.52,109.75 L267.64,113.47 L267.77,117.17 L267.89,120.86 L268.02,124.53 L268.14,128.16 L268.26,131.75 L268.39,135.28 L268.51,138.75 L268.64,142.15 L268.76,145.47 L268.88,148.70 L269.01,151.84 L269.13,154.87 L269.26,157.79 L269.38,160.60 L269.50,163.27 L269.63,165.81 L269.75,168.22 L269.88,170.48 L270.00,172.58 L270.12,174.53 L270.25,176.32 L270.37,177.95 L270.50,179.40 L270.62,180.68 L270.74,181.78 L270.87,182.71 L270.99,183.45 L271.12,184.01 L271.24,184.38 L271.36,184.57 L271.49,184.57 L271.61,184.38 L271.74,184.01 L271.86,183.45 L271.98,182.71 L272.11,181.78 L272.23,180.68 L272.36,179.40 L272.48,177.95 L272.60,176.32 L272.73,174.53 L272.85,172.58 L272.98,170.48 L273.10,168.22 L273.22,165.81 L273.35,163.27 L273.47,160.60 L273.60,157.79 L273.72,154.87 L273.84,151.84 L273.97,148.70 L274.09,145.47 L274.22,142.15 L274.34,138.75 L274.46,135.28 L274.59,131.75 L274.71,128.16 L274.84,124.53 L274.96,120.86 L275.08,117.17 L275.21,113.47 L275.33,109.75 L275.46,106.04 L275.58,102.34 L275.70,98.66 L275.83,95.01 L275.95,91.40 L276.08,87.84 L276.20,84.34 L276.32,80.90 L276.45,77.54 L276.57,74.26 L276.70,71.08 L276.82,67.99 L276.94,65.01 L277.07,62.15 L277.19,59.41 L277.32,56.80 L277.44,54.33 L277.56,52.00 L277.69,49.81 L277.81,47.78 L277.94,45.91 L278.06,44.20 L278.18,42.67 L278.31,41.30 L278.43,40.11 L278.56,39.09 L278.68,38.26 L278.80,37.61 L278.93,37.14 L279.05,36.86 L279.18,36.77 L279.30,36.86 L279.42,37.14 L279.55,37.61 L279.67,38.26 L279.80,39.09 L279.92,40.11 L280.04,41.30 L280.17,42.67 L280.29,44.20 L280.42,45.91 L280.54,47.78 L280.66,49.81 L280.79,52.00 L280.91,54.33 L281.04,56.80 L281.16,59.41 L281.28,62.15 L281.41,65.01 L281.53,67.99 L281.66,71.08 L281.78,74.26 L281.90,77.54 L282.03,80.90 L282.15,84.34 L282.28,87.84 L282.40,91.40 L282.52,95.01 L282.65,98.66 L282.77,102.34 L282.90,106.04 L283.02,109.75 L283.14,113.47 L283.27,117.17 L283.39,120.86 L283.52,124.53 L283.64,128.16 L283.76,131.75 L283.89,135.28 L284.01,138.75 L284.14,142.15 L284.26,145.47 L284.38,148.70 L284.51,151.84 L284.63,154.87 L284.76,157.79 L284.88,160.60 L285.00,163.27 L285.13,165.81 L285.25,168.22 L285.38,170.48 L285.50,172.58 L285.62,174.53 L285.75,176.32 L285.87,177.95 L286.00,179.40 L286.12,180.68 L286.24,181.78 L286.37,182.71 L286.49,183.45 L286.62,184.01 L286.74,184.38 L286.86,184.57 L286.99,184.57 L287.11,184.38 L287.24,184.01 L287.36,183.45 L287.48,182.71 L287.61,181.78 L287.73,180.68 L287.86,179.40 L287.98,177.95 L288.10,176.32 L288.23,174.53 L288.35,172.58 L288.48,170.48 L288.60,168.22 L288.72,165.81 L288.85,163.27 L288.97,160.60 L289.10,157.79 L289.22,154.87 L289.34,151.84 L289.47,148.70 L289.59,145.47 L289.72,142.15 L289.84,138.75 L289.96,135.28 L290.09,131.75 L290.21,128.16 L290.34,124.53 L290.46,120.86 L290.58,117.17 L290.71,113.47 L290.83,109.75 L290.96,106.04 L291.08,102.34 L291.20,98.66 L291.33,95.01 L291.45,91.40 L291.58,87.84 L291.70,84.34 L291.82,80.90 L291.95,77.54 L292.07,74.26 L292.20,71.08 L292.32,67.99 L292.44,65.01 L292.57,62.15 L292.69,59.41 L292.82,56.80 L292.94,54.33 L293.06,52.00 L293.19,49.81 L293.31,47.78 L293.44,45.91 L293.56,44.20 L293.68,42.67 L293.81,41.30 L293.93,40.11 L294.06,39.09 L294.18,38.26 L294.30,37.61 L294.43,37.14 L294.55,36.86 L294.68,36.77 L294.80,36.86 L294.92,37.14 L295.05,37.61 L295.17,38.26 L295.30,39.09 L295.42,40.11 L295.54,41.30 L295.67,42.67 L295.79,44.20 L295.92,45.91 L296.04,47.78 L296.16,49.81 L296.29,52.00 L296.41,54.33 L296.54,56.80 L296.66,59.41 L296.78,62.15 L296.91,65.01 L297.03,67.99 L297.16,71.08 L297.28,74.26 L297.40,77.54 L297.53,80.90 L297.65,84.34 L297.78,87.84 L297.90,91.40 L298.02,95.01 L298.15,98.66 L298.27,102.34 L298.40,106.04 L298.52,109.75 L298.64,113.47 L298.77,117.17 L298.89,120.86 L299.02,124.53 L299.14,128.16 L299.26,131.75 L299.39,135.28 L299.51,138.75 L299.64,142.15 L299.76,145.47 L299.88,148.70 L300.01,151.84 L300.13,154.87 L300.26,157.79 L300.38,160.60 L300.50,163.27 L300.63,165.81 L300.75,168.22 L300.88,170.48 L301.00,172.58 L301.12,174.53 L301.25,176.32 L301.37,177.95 L301.50,179.40 L301.62,180.68 L301.74,181.78 L301.87,182.71 L301.99,183.45 L302.12,184.01 L302.24,184.38 L302.36,184.57 L302.49,184.57 L302.61,184.38 L302.74,184.01 L302.86,183.45 L302.98,182.71 L303.11,181.78 L303.23,180.68 L303.36,179.40 L303.48,177.95 L303.60,176.32 L303.73,174.53 L303.85,172.58 L303.98,170.48 L304.10,168.22 L304.22,165.81 L304.35,163.27 L304.47,160.60 L304.60,157.79 L304.72,154.87 L304.84,151.84 L304.97,148.70 L305.09,145.47 L305.22,142.15 L305.34,138.75 L305.46,135.28 L305.59,131.75 L305.71,128.16 L305.84,124.53 L305.96,120.86 L306.08,117.17 L306.21,113.47 L306.33,109.75 L306.46,106.04 L306.58,102.34 L306.70,98.66 L306.83,95.01 L306.95,91.40 L307.08,87.84 L307.20,84.34 L307.32,80.90 L307.45,77.54 L307.57,74.26 L307.70,71.08 L307.82,67.99 L307.94,65.01 L308.07,62.15 L308.19,59.41 L308.32,56.80 L308.44,54.33 L308.56,52.00 L308.69,49.81 L308.81,47.78 L308.94,45.91 L309.06,44.20 L309.18,42.67 L309.31,41.30 L309.43,40.11 L309.56,39.09 L309.68,38.26 L309.80,37.61 L309.93,37.14 L310.05,36.86 L310.18,36.77 L310.30,36.86 L310.42,37.14 L310.55,37.61 L310.67,38.26 L310.80,39.09 L310.92,40.11 L311.04,41.30 L311.17,42.67 L311.29,44.20 L311.42,45.91 L311.54,47.78 L311.66,49.81 L311.79,52.00 L311.91,54.33 L312.04,56.80 L312.16,59.41 L312.28,62.15 L312.41,65.01 L312.53,67.99 L312.66,71.08 L312.78,74.26 L312.90,77.54 L313.03,80.90 L313.15,84.34 L313.28,87.84 L313.40,91.40 L313.52,95.01 L313.65,98.66 L313.77,102.34 L313.90,106.04 L314.02,109.75 L314.14,113.47 L314.27,117.17 L314.39,120.86 L314.52,124.53 L314.64,128.16 L314.76,131.75 L314.89,135.28 L315.01,138.75 L315.14,142.15 L315.26,145.47 L315.38,148.70 L315.51,151.84 L315.63,154.87 L315.76,157.79 L315.88,160.60 L316.00,163.27 L316.13,165.81 L316.25,168.22 L316.38,170.48 L316.50,172.58 L316.62,174.53 L316.75,176.32 L316.87,177.95 L317.00,179.40 L317.12,180.68 L317.24,181.78 L317.37,182.71 L317.49,183.45 L317.62,184.01 L317.74,184.38 L317.86,184.57 L317.99,184.57 L318.11,184.38 L318.24,184.01 L318.36,183.45 L318.48,182.71 L318.61,181.78 L318.73,180.68 L318.86,179.40 L318.98,177.95 L319.10,176.32 L319.23,174.53 L319.35,172.58 L319.48,170.48 L319.60,168.22 L319.72,165.81 L319.85,163.27 L319.97,160.60 L320.10,157.79 L320.22,154.87 L320.34,151.84 L320.47,148.70 L320.59,145.47 L320.72,142.15 L320.84,138.75 L320.96,135.28 L321.09,131.75 L321.21,128.16 L321.34,124.53 L321.46,120.86 L321.58,117.17 L321.71,113.47 L321.83,109.75 L321.96,106.04 L322.08,102.34 L322.20,98.66 L322.33,95.01 L322.45,91.40 L322.58,87.84 L322.70,84.34 L322.82,80.90 L322.95,77.54 L323.07,74.26 L323.20,71.08 L323.32,67.99 L323.44,65.01 L323.57,62.15 L323.69,59.41 L323.82,56.80 L323.94,54.33 L324.06,52.00 L324.19,49.81 L324.31,47.78 L324.44,45.91 L324.56,44.20 L324.68,42.67 L324.81,41.30 L324.93,40.11 L325.06,39.09 L325.18,38.26 L325.30,37.61 L325.43,37.14 L325.55,36.86 L325.68,36.77 L325.80,36.86 L325.92,37.14 L326.05,37.61 L326.17,38.26 L326.30,39.09 L326.42,40.11 L326.54,41.30 L326.67,42.67 L326.79,44.20 L326.92,45.91 L327.04,47.78 L327.16,49.81 L327.29,52.00 L327.41,54.33 L327.54,56.80 L327.66,59.41 L327.78,62.15 L327.91,65.01 L328.03,67.99 L328.16,71.08 L328.28,74.26 L328.40,77.54 L328.53,80.90 L328.65,84.34 L328.78,87.84 L328.90,91.40 L329.02,95.01 L329.15,98.66 L329.27,102.34 L329.40,106.04 L329.52,109.75 L329.64,113.47 L329.77,117.17 L329.89,120.86 L330.02,124.53 L330.14,128.16 L330.26,131.75 L330.39,135.28 L330.51,138.75 L330.64,142.15 L330.76,145.47 L330.88,148.70 L331.01,151.84 L331.13,154.87 L331.26,157.79 L331.38,160.60 L331.50,163.27 L331.63,165.81 L331.75,168.22 L331.88,170.48 L332.00,172.58 L332.12,174.53 L332.25,176.32 L332.37,177.95 L332.50,179.40 L332.62,180.68 L332.74,181.78 L332.87,182.71 L332.99,183.45 L333.12,184.01 L333.24,184.38 L333.36,184.57 L333.49,184.57 L333.61,184.38 L333.74,184.01 L333.86,183.45 L333.98,182.71 L334.11,181.78 L334.23,180.68 L334.36,179.40 L334.48,177.95 L334.60,176.32 L334.73,174.53 L334.85,172.58 L334.98,170.48 L335.10,168.22 L335.22,165.81 L335.35,163.27 L335.47,160.60 L335.60,157.79 L335.72,154.87 L335.84,151.84 L335.97,148.70 L336.09,145.47 L336.22,142.15 L336.34,138.75 L336.46,135.28 L336.59,131.75 L336.71,128.16 L336.84,124.53 L336.96,120.86 L337.08,117.17 L337.21,113.47 L337.33,109.75 L337.46,106.04 L337.58,102.34 L337.70,98.66 L337.83,95.01 L337.95,91.40 L338.08,87.84 L338.20,84.34 L338.32,80.90 L338.45,77.54 L338.57,74.26 L338.70,71.08 L338.82,67.99 L338.94,65.01 L339.07,62.15 L339.19,59.41 L339.32,56.80 L339.44,54.33 L339.56,52.00 L339.69,49.81 L339.81,47.78 L339.94,45.91 L340.06,44.20 L340.18,42.67 L340.31,41.30 L340.43,40.11 L340.56,39.09 L340.68,38.26 L340.80,37.61 L340.93,37.14 L341.05,36.86 L341.18,36.77 L341.30,36.86 L341.42,37.14 L341.55,37.61 L341.67,38.26 L341.80,39.09 L341.92,40.11 L342.04,41.30 L342.17,42.67 L342.29,44.20 L342.42,45.91 L342.54,47.78 L342.66,49.81 L342.79,52.00 L342.91,54.33 L343.04,56.80 L343.16,59.41 L343.28,62.15 L343.41,65.01 L343.53,67.99 L343.66,71.08 L343.78,74.26 L343.90,77.54 L344.03,80.90 L344.15,84.34 L344.28,87.84 L344.40,91.40 L344.52,95.01 L344.65,98.66 L344.77,102.34 L344.90,106.04 L345.02,109.75 L345.14,113.47 L345.27,117.17 L345.39,120.86 L345.52,124.53 L345.64,128.16 L345.76,131.75 L345.89,135.28 L346.01,138.75 L346.14,142.15 L346.26,145.47 L346.38,148.70 L346.51,151.84 L346.63,154.87 L346.76,157.79 L346.88,160.60 L347.00,163.27 L347.13,165.81 L347.25,168.22 L347.38,170.48 L347.50,172.58" stroke="rgba(0,0,255,0.45)"/>
</g>
<rect x="37.5" y="4.5" width="310.0" height="213.0" fill="none" stroke="#c6c6c6" stroke-width="1"/>
<path d="M99.50,217.50V214.50M99.50,4.50V7.50M161.50,217.50V214.50M161.50,4.50V7.50M223.50,217.50V214.50M223.50,4.50V7.50M285.50,217.50V214.50M285.50,4.50V7.50M37.50,164.25H40.50M347.50,164.25H344.50M37.50,111.00H40.50M347.50,111.00H344.50M37.50,57.75H40.50M347.50,57.75H344.50" stroke="#c6c6c6" stroke-width="1" fill="none"/>
<rect x="24.40" y="217.81" width="2.77" height="1.09" fill="#000"/><path d="M30.90,221.65 L31.95,221.65 L31.95,213.35 L31.10,213.35 C30.87,214.33 30.10,214.87 28.93,214.98 L28.93,215.79 C29.75,215.75 30.57,215.51 30.90,215.04 Z" fill="#000"/>
<rect x="14.56" y="164.56" width="2.77" height="1.09" fill="#000"/><text class="tk" x="17.90" y="168.40">0.5</text>
<text class="tk" x="27.74" y="115.15">0</text>
<text class="tk" x="17.90" y="61.90">0.5</text>
<path d="M30.90,8.65 L31.95,8.65 L31.95,0.35 L31.10,0.35 C30.87,1.33 30.10,1.87 28.93,1.98 L28.93,2.79 C29.75,2.75 30.57,2.51 30.90,2.04 Z" fill="#000"/>
<text class="tk" x="33.82" y="231.20">0</text>
<path d="M98.98,231.20 L100.03,231.20 L100.03,222.90 L99.18,222.90 C98.95,223.88 98.18,224.41 97.01,224.53 L97.01,225.34 C97.83,225.30 98.65,225.06 98.98,224.59 Z" fill="#000"/>
<text class="tk" x="157.82" y="231.20">2</text>
<text class="tk" x="219.82" y="231.20">3</text>
<text class="tk" x="281.82" y="231.20">4</text>
<text class="tk" x="343.82" y="231.20">5</text>
<text class="lb" x="179.80" y="235.50">t(s)</text>
<text class="lb" transform="translate(10.10,110.40) rotate(-90)" x="0" y="0" text-anchor="middle">Measured Acceleration of Shaker (g)</text>
<rect x="219.5" y="4.5" width="128.0" height="28.5" fill="#fff" stroke="#d0d0d0" stroke-width="1"/>
<path d="M222.30,11.70H235.70" stroke="rgba(255,0,0,0.45)" stroke-width="1.3" stroke-opacity="0.55"/>
<path d="M222.30,25.80H235.70" stroke="rgba(0,0,255,0.45)" stroke-width="1.3" stroke-opacity="0.55"/>
<text class="lg" x="237.30" y="15.20">MMR-System</text>
<text class="lg" x="237.30" y="29.60">Non-MMR-System</text>
<path d="M219.5,4.5H347.5V33.0" fill="none" stroke="#c6c6c6" stroke-width="1"/>
<g fill="none" stroke-width="0.75" stroke-linejoin="round">
<path d="M409.50,69.01 L409.67,70.78 L409.84,72.82 L410.01,75.08 L410.18,77.12 L410.36,79.03 L410.53,82.00 L410.70,86.03 L410.87,89.59 L411.04,93.04 L411.21,95.89 L411.38,97.30 L411.55,99.11 L411.73,99.94 L411.90,101.50 L412.07,102.80 L412.24,104.01 L412.41,104.43 L412.58,105.11 L412.75,104.82 L412.92,104.39 L413.10,105.33 L413.27,104.98 L413.44,106.32 L413.61,106.10 L413.78,106.78 L413.95,106.31 L414.12,106.46 L414.29,107.04 L414.46,106.53 L414.64,106.80 L414.81,107.38 L414.98,107.29 L415.15,106.85 L415.32,106.62 L415.49,105.77 L415.66,106.37 L415.83,106.75 L416.01,107.65 L416.18,108.27 L416.35,109.03 L416.52,108.90 L416.69,110.07 L416.86,110.77 L417.03,112.19 L417.20,113.42 L417.38,114.02 L417.55,114.52 L417.72,114.67 L417.89,115.20 L418.06,115.85 L418.23,117.09 L418.40,117.94 L418.57,118.14 L418.75,119.48 L418.92,120.14 L419.09,120.34 L419.26,120.80 L419.43,122.52 L419.60,123.01 L419.77,123.65 L419.94,123.96 L420.11,122.00 L420.29,119.78 L420.46,116.54 L420.63,113.07 L420.80,108.64 L420.97,104.50 L421.14,99.69 L421.31,95.27 L421.48,90.99 L421.66,86.72 L421.83,83.95 L422.00,80.46 L422.17,77.20 L422.34,73.77 L422.51,70.13 L422.68,66.28 L422.85,63.47 L423.03,61.04 L423.20,59.22 L423.37,57.16 L423.54,55.79 L423.71,55.01 L423.88,55.23 L424.05,56.16 L424.22,56.93 L424.39,58.91 L424.57,61.39 L424.74,63.16 L424.91,64.56 L425.08,65.69 L425.25,66.81 L425.42,68.50 L425.59,69.38 L425.76,71.58 L425.94,72.18 L426.11,73.16 L426.28,73.70 L426.45,74.05 L426.62,74.96 L426.79,76.73 L426.96,78.19 L427.13,79.03 L427.31,81.16 L427.48,82.44 L427.65,83.74 L427.82,86.03 L427.99,87.74 L428.16,88.65 L428.33,90.12 L428.50,91.25 L428.68,91.88 L428.85,92.70 L429.02,93.54 L429.19,94.07 L429.36,95.42 L429.53,96.79 L429.70,97.23 L429.87,98.26 L430.04,98.91 L430.22,100.19 L430.39,101.19 L430.56,102.52 L430.73,103.64 L430.90,104.19 L431.07,105.01 L431.24,105.00 L431.41,105.29 L431.59,105.24 L431.76,106.80 L431.93,106.73 L432.10,107.39 L432.27,107.42 L432.44,107.66 L432.61,107.28 L432.78,107.08 L432.96,107.73 L433.13,108.22 L433.30,108.75 L433.47,108.47 L433.64,108.66 L433.81,109.06 L433.98,108.69 L434.15,109.56 L434.32,110.73 L434.50,110.79 L434.67,110.91 L434.84,111.67 L435.01,112.27 L435.18,112.45 L435.35,112.11 L435.52,112.18 L435.69,111.30 L435.87,109.61 L436.04,107.09 L436.21,103.81 L436.38,100.55 L436.55,97.28 L436.72,94.33 L436.89,90.57 L437.06,87.51 L437.24,83.58 L437.41,80.89 L437.58,77.06 L437.75,73.62 L437.92,70.81 L438.09,66.96 L438.26,64.12 L438.43,61.83 L438.61,58.86 L438.78,56.87 L438.95,56.11 L439.12,53.99 L439.29,53.31 L439.46,53.19 L439.63,54.00 L439.80,54.64 L439.97,55.92 L440.15,57.31 L440.32,59.73 L440.49,62.12 L440.66,63.75 L440.83,66.33 L441.00,68.21 L441.17,70.55 L441.34,71.64 L441.52,73.98 L441.69,76.11 L441.86,77.94 L442.03,79.24 L442.20,79.83 L442.37,80.42 L442.54,81.14 L442.71,82.19 L442.89,83.18 L443.06,84.87 L443.23,86.19 L443.40,87.06 L443.57,87.59 L443.74,87.50 L443.91,88.56 L444.08,89.64 L444.25,90.76 L444.43,91.84 L444.60,92.16 L444.77,92.37 L444.94,93.36 L445.11,94.25 L445.28,95.52 L445.45,96.85 L445.62,98.69 L445.80,99.43 L445.97,100.49 L446.14,100.79 L446.31,102.12 L446.48,102.82 L446.65,103.73 L446.82,105.32 L446.99,106.19 L447.17,106.45 L447.34,106.88 L447.51,107.65 L447.68,107.96 L447.85,108.43 L448.02,109.95 L448.19,110.63 L448.36,111.39 L448.54,111.52 L448.71,112.71 L448.88,113.79 L449.05,114.56 L449.22,116.78 L449.39,117.95 L449.56,119.64 L449.73,121.84 L449.90,123.65 L450.08,125.21 L450.25,127.69 L450.42,129.28 L450.59,130.24 L450.76,129.61 L450.93,127.84 L451.10,125.78 L451.27,123.62 L451.45,120.60 L451.62,117.23 L451.79,113.37 L451.96,109.52 L452.13,105.19 L452.30,101.06 L452.47,97.52 L452.64,94.31 L452.82,91.04 L452.99,87.52 L453.16,83.32 L453.33,78.64 L453.50,74.76 L453.67,71.10 L453.84,68.47 L454.01,65.54 L454.18,64.46 L454.36,62.53 L454.53,60.36 L454.70,59.70 L454.87,60.19 L455.04,61.54 L455.21,62.53 L455.38,64.14 L455.55,65.10 L455.73,65.61 L455.90,66.81 L456.07,67.63 L456.24,68.49 L456.41,69.16 L456.58,70.28 L456.75,71.55 L456.92,72.01 L457.10,73.11 L457.27,73.30 L457.44,74.39 L457.61,75.70 L457.78,77.69 L457.95,79.07 L458.12,80.85 L458.29,82.41 L458.46,83.88 L458.64,85.79 L458.81,87.70 L458.98,89.39 L459.15,92.19 L459.32,94.54 L459.49,96.68 L459.66,99.77 L459.83,101.88 L460.01,104.03 L460.18,106.23 L460.35,108.20 L460.52,108.72 L460.69,108.96 L460.86,108.90 L461.03,108.19 L461.20,107.08 L461.38,106.60 L461.55,106.61 L461.72,104.82 L461.89,104.00 L462.06,102.79 L462.23,102.59 L462.40,102.43 L462.57,103.09 L462.75,102.81 L462.92,104.39 L463.09,104.59 L463.26,105.81 L463.43,106.18 L463.60,107.43 L463.77,107.87 L463.94,108.26 L464.11,109.53 L464.29,109.25 L464.46,109.65 L464.63,110.23 L464.80,110.50 L464.97,111.19 L465.14,111.95 L465.31,112.91 L465.48,113.58 L465.66,113.76 L465.83,114.15 L466.00,114.44 L466.17,114.23 L466.34,112.68 L466.51,110.44 L466.68,105.62 L466.85,100.31 L467.03,94.32 L467.20,87.73 L467.37,82.60 L467.54,77.37 L467.71,74.13 L467.88,69.70 L468.05,65.53 L468.22,61.30 L468.39,56.82 L468.57,53.44 L468.74,50.21 L468.91,47.85 L469.08,45.95 L469.25,43.50 L469.42,41.20 L469.59,39.29 L469.76,39.44 L469.94,40.23 L470.11,42.78 L470.28,44.72 L470.45,47.96 L470.62,50.83 L470.79,52.80 L470.96,54.68 L471.13,57.83 L471.31,60.27 L471.48,62.62 L471.65,64.87 L471.82,66.23 L471.99,68.15 L472.16,69.69 L472.33,70.95 L472.50,72.92 L472.68,73.94 L472.85,75.21 L473.02,75.76 L473.19,76.60 L473.36,77.22 L473.53,80.68 L473.70,83.95 L473.87,87.32 L474.04,89.67 L474.22,90.91 L474.39,91.14 L474.56,92.59 L474.73,93.41 L474.90,94.00 L475.07,94.81 L475.24,94.77 L475.41,95.13 L475.59,96.02 L475.76,96.78 L475.93,97.52 L476.10,98.45 L476.27,101.26 L476.44,101.83 L476.61,103.53 L476.78,103.88 L476.96,105.25 L477.13,105.77 L477.30,106.98 L477.47,107.68 L477.64,107.65 L477.81,108.11 L477.98,108.47 L478.15,108.54 L478.32,108.94 L478.50,108.92 L478.67,109.43 L478.84,110.04 L479.01,110.47 L479.18,111.00 L479.35,110.92 L479.52,111.29 L479.69,111.58 L479.87,112.29 L480.04,113.74 L480.21,114.87 L480.38,115.63 L480.55,116.76 L480.72,117.90 L480.89,119.00 L481.06,120.63 L481.24,121.31 L481.41,122.13 L481.58,121.96 L481.75,121.61 L481.92,121.15 L482.09,120.63 L482.26,119.87 L482.43,119.27 L482.61,118.00 L482.78,116.54 L482.95,114.99 L483.12,112.46 L483.29,110.78 L483.46,108.61 L483.63,106.61 L483.80,105.10 L483.97,102.26 L484.15,99.88 L484.32,97.67 L484.49,95.73 L484.66,93.85 L484.83,91.93 L485.00,89.32 L485.17,86.61 L485.34,83.35 L485.52,80.63 L485.69,77.47 L485.86,75.33 L486.03,73.91 L486.20,72.63 L486.37,70.98 L486.54,70.55 L486.71,69.53 L486.89,69.73 L487.06,70.52 L487.23,71.92 L487.40,74.05 L487.57,75.95 L487.74,77.75 L487.91,81.91 L488.08,88.16 L488.25,90.34 L488.43,91.01 L488.60,91.42 L488.77,91.12 L488.94,90.19 L489.11,89.16 L489.28,87.04 L489.45,86.62 L489.62,87.55 L489.80,87.75 L489.97,89.74 L490.14,91.32 L490.31,92.82 L490.48,94.07 L490.65,96.49 L490.82,98.37 L490.99,99.88 L491.17,101.40 L491.34,102.62 L491.51,102.56 L491.68,102.19 L491.85,101.24 L492.02,100.21 L492.19,99.60 L492.36,99.02 L492.54,97.94 L492.71,97.46 L492.88,96.28 L493.05,95.34 L493.22,95.09 L493.39,95.08 L493.56,95.65 L493.73,96.35 L493.90,96.65 L494.08,97.57 L494.25,98.47 L494.42,98.90 L494.59,100.45 L494.76,101.83 L494.93,103.76 L495.10,104.56 L495.27,106.05 L495.45,107.92 L495.62,110.57 L495.79,112.65 L495.96,115.02 L496.13,117.65 L496.30,119.90 L496.47,121.10 L496.64,121.71 L496.82,123.11 L496.99,122.35 L497.16,121.70 L497.33,120.62 L497.50,118.65 L497.67,116.57 L497.84,114.22 L498.01,111.60 L498.18,108.94 L498.36,106.89 L498.53,104.23 L498.70,101.20 L498.87,97.87 L499.04,95.35 L499.21,92.35 L499.38,89.57 L499.55,86.31 L499.73,83.42 L499.90,79.32 L500.07,76.07 L500.24,71.90 L500.41,68.35 L500.58,65.23 L500.75,63.19 L500.92,62.56 L501.10,61.06 L501.27,59.63 L501.44,59.52 L501.61,60.04 L501.78,60.15 L501.95,61.64 L502.12,63.22 L502.29,65.01 L502.46,65.82 L502.64,67.12 L502.81,67.90 L502.98,70.10 L503.15,72.08 L503.32,73.86 L503.49,75.86 L503.66,76.59 L503.83,77.49 L504.01,78.83 L504.18,80.68 L504.35,84.10 L504.52,87.43 L504.69,91.10 L504.86,92.97 L505.03,92.97 L505.20,92.80 L505.38,92.93 L505.55,93.70 L505.72,94.07 L505.89,94.18 L506.06,95.06 L506.23,95.61 L506.40,95.62 L506.57,96.02 L506.75,97.18 L506.92,98.46 L507.09,99.51 L507.26,99.82 L507.43,100.80 L507.60,100.94 L507.77,101.09 L507.94,101.41 L508.11,102.42 L508.29,103.08 L508.46,104.30 L508.63,104.74 L508.80,105.30 L508.97,104.97 L509.14,105.66 L509.31,106.30 L509.48,106.68 L509.66,107.05 L509.83,106.91 L510.00,107.40 L510.17,106.94 L510.34,106.52 L510.51,105.64 L510.68,106.18 L510.85,106.54 L511.03,106.32 L511.20,105.91 L511.37,106.59 L511.54,106.91 L511.71,107.07 L511.88,108.12 L512.05,108.88 L512.22,109.71 L512.39,108.97 L512.57,108.16 L512.74,107.01 L512.91,105.11 L513.08,103.72 L513.25,100.43 L513.42,97.66 L513.59,94.01 L513.76,90.20 L513.94,86.81 L514.11,83.86 L514.28,80.44 L514.45,78.32 L514.62,75.53 L514.79,72.49 L514.96,68.98 L515.13,66.07 L515.31,61.87 L515.48,59.37 L515.65,56.77 L515.82,54.51 L515.99,53.23 L516.16,51.73 L516.33,49.73 L516.50,48.99 L516.68,49.24 L516.85,50.56 L517.02,53.30 L517.19,55.05 L517.36,58.00 L517.53,59.86 L517.70,62.26 L517.87,64.86 L518.04,67.77 L518.22,70.94 L518.39,73.71 L518.56,76.23 L518.73,77.43 L518.90,78.09 L519.07,78.95 L519.24,80.05 L519.41,81.30 L519.59,82.86 L519.76,83.31 L519.93,84.75 L520.10,85.86 L520.27,87.25 L520.44,88.71 L520.61,90.52 L520.78,91.94 L520.96,93.42 L521.13,94.10 L521.30,94.08 L521.47,95.54 L521.64,96.50 L521.81,97.22 L521.98,98.04 L522.15,99.22 L522.32,99.43 L522.50,99.55 L522.67,100.35 L522.84,101.24 L523.01,101.81 L523.18,103.29 L523.35,103.59 L523.52,103.94 L523.69,103.36 L523.87,104.34 L524.04,104.13 L524.21,104.38 L524.38,104.30 L524.55,104.40 L524.72,104.06 L524.89,104.74 L525.06,104.11 L525.24,104.79 L525.41,105.62 L525.58,106.15 L525.75,107.35 L525.92,108.25 L526.09,108.16 L526.26,108.88 L526.43,109.31 L526.61,109.95 L526.78,110.96 L526.95,111.39 L527.12,112.34 L527.29,112.83 L527.46,112.57 L527.63,112.60 L527.80,112.71 L527.97,112.15 L528.15,112.04 L528.32,111.56 L528.49,109.51 L528.66,108.19 L528.83,106.47 L529.00,105.01 L529.17,103.28 L529.34,101.66 L529.52,99.14 L529.69,96.85 L529.86,94.17 L530.03,91.59 L530.20,89.85 L530.37,87.52 L530.54,85.56 L530.71,82.96 L530.89,80.51 L531.06,76.58 L531.23,74.07 L531.40,71.89 L531.57,69.94 L531.74,67.84 L531.91,66.38 L532.08,65.04 L532.25,63.21 L532.43,62.29 L532.60,61.72 L532.77,62.51 L532.94,63.20 L533.11,63.98 L533.28,64.62 L533.45,66.77 L533.62,67.91 L533.80,69.84 L533.97,72.50 L534.14,76.48 L534.31,78.75 L534.48,79.83 L534.65,80.78 L534.82,81.50 L534.99,82.58 L535.17,84.78 L535.34,86.70 L535.51,88.63 L535.68,90.57 L535.85,92.59 L536.02,94.87 L536.19,96.39 L536.36,98.03 L536.54,100.04 L536.71,101.83 L536.88,103.02 L537.05,102.76 L537.22,102.87 L537.39,102.74 L537.56,102.43 L537.73,101.68 L537.90,101.88 L538.08,101.25 L538.25,101.10 L538.42,99.98 L538.59,99.85 L538.76,99.54 L538.93,99.10 L539.10,100.36 L539.27,101.68 L539.45,102.52 L539.62,103.31 L539.79,104.04 L539.96,105.68 L540.13,107.34 L540.30,108.19 L540.47,109.21 L540.64,110.12 L540.82,110.56 L540.99,111.65 L541.16,112.55 L541.33,114.47 L541.50,115.52 L541.67,116.78 L541.84,118.57 L542.01,119.89 L542.18,120.95 L542.36,121.53 L542.53,123.43 L542.70,124.28 L542.87,124.92 L543.04,125.13 L543.21,124.92 L543.38,122.75 L543.55,119.93 L543.73,116.19 L543.90,112.23 L544.07,108.15 L544.24,103.16 L544.41,98.08 L544.58,93.93 L544.75,89.63 L544.92,85.93 L545.10,83.02 L545.27,79.19 L545.44,75.87 L545.61,71.36 L545.78,67.10 L545.95,63.53 L546.12,61.10 L546.29,58.57 L546.46,56.89 L546.64,55.15 L546.81,53.44 L546.98,53.83 L547.15,53.55 L547.32,55.06 L547.49,56.53 L547.66,59.16 L547.83,61.67 L548.01,63.27 L548.18,64.44 L548.35,65.74 L548.52,66.76 L548.69,68.37 L548.86,70.26 L549.03,70.76 L549.20,71.93 L549.38,72.92 L549.55,73.67 L549.72,74.22 L549.89,75.64 L550.06,76.96 L550.23,78.35 L550.40,79.71 L550.57,82.20 L550.75,83.15 L550.92,85.34 L551.09,87.13 L551.26,88.15 L551.43,90.27 L551.60,92.13 L551.77,93.05 L551.94,93.57 L552.11,94.28 L552.29,95.60 L552.46,96.31 L552.63,97.15 L552.80,98.36 L552.97,98.66 L553.14,99.12 L553.31,99.56 L553.48,99.97 L553.66,100.43 L553.83,101.14 L554.00,101.88 L554.17,102.11 L554.34,101.62 L554.51,101.70 L554.68,101.45 L554.85,101.57 L555.03,102.21 L555.20,102.28 L555.37,103.60 L555.54,103.46 L555.71,104.09 L555.88,103.98 L556.05,104.81 L556.22,106.85 L556.39,107.57 L556.57,107.87 L556.74,108.27 L556.91,108.50 L557.08,108.93 L557.25,109.30 L557.42,110.06 L557.59,111.22 L557.76,111.74 L557.94,113.27 L558.11,112.81 L558.28,113.57 L558.45,113.32 L558.62,113.93 L558.79,114.05 L558.96,113.05 L559.13,112.10 L559.31,110.16 L559.48,108.00 L559.65,105.07 L559.82,102.43 L559.99,99.74 L560.16,97.37 L560.33,94.06 L560.50,91.20 L560.68,88.11 L560.85,85.12 L561.02,82.63 L561.19,80.70 L561.36,77.98 L561.53,74.84 L561.70,71.29 L561.87,67.99 L562.04,64.09 L562.22,61.66 L562.39,59.19 L562.56,57.89 L562.73,55.80 L562.90,54.08 L563.07,53.18 L563.24,52.38 L563.41,53.70 L563.59,55.01 L563.76,57.48 L563.93,60.37 L564.10,62.62 L564.27,64.53 L564.44,67.11 L564.61,70.56 L564.78,74.45 L564.96,78.22 L565.13,79.81 L565.30,81.30 L565.47,80.98 L565.64,81.59 L565.81,81.99 L565.98,82.47 L566.15,83.15 L566.32,84.51 L566.50,85.44 L566.67,86.08 L566.84,87.32 L567.01,88.24 L567.18,89.03 L567.35,91.46 L567.52,92.53 L567.69,94.33 L567.87,94.66 L568.04,95.43 L568.21,96.13 L568.38,97.02 L568.55,97.96 L568.72,99.69 L568.89,100.75 L569.06,101.72 L569.24,101.60 L569.41,101.96 L569.58,101.87 L569.75,102.56 L569.92,102.53 L570.09,103.86 L570.26,103.32 L570.43,102.67 L570.61,102.65 L570.78,102.56 L570.95,102.44 L571.12,103.31 L571.29,103.85 L571.46,104.34 L571.63,105.99 L571.80,108.14 L571.97,109.89 L572.15,111.83 L572.32,113.51 L572.49,115.85 L572.66,117.52 L572.83,118.62 L573.00,120.07 L573.17,121.86 L573.34,123.53 L573.52,124.97 L573.69,125.63 L573.86,126.30 L574.03,124.90 L574.20,124.02 L574.37,122.03 L574.54,119.79 L574.71,118.00 L574.89,116.41 L575.06,113.19 L575.23,110.05 L575.40,107.28 L575.57,104.05 L575.74,100.78 L575.91,98.51 L576.08,95.10 L576.25,93.20 L576.43,89.32 L576.60,85.28 L576.77,81.55 L576.94,78.12 L577.11,75.35 L577.28,73.30 L577.45,71.19 L577.62,70.61 L577.80,68.42 L577.97,67.45 L578.14,66.99 L578.31,67.52 L578.48,68.79 L578.65,69.75 L578.82,70.22 L578.99,71.01 L579.17,71.85 L579.34,71.67 L579.51,72.47 L579.68,74.68 L579.85,75.41 L580.02,75.89 L580.19,77.32 L580.36,78.37 L580.54,79.50 L580.71,80.79 L580.88,82.09 L581.05,83.65 L581.22,84.73 L581.39,86.32 L581.56,87.40 L581.73,88.57 L581.90,89.10 L582.08,90.19 L582.25,90.83 L582.42,91.16 L582.59,91.80 L582.76,92.08 L582.93,92.53 L583.10,93.31 L583.27,94.36 L583.45,95.52 L583.62,96.15 L583.79,97.29 L583.96,96.93 L584.13,97.55 L584.30,98.15 L584.47,98.68 L584.64,99.47 L584.82,99.94 L584.99,100.74 L585.16,100.66 L585.33,101.71 L585.50,102.91 L585.67,103.59 L585.84,105.30 L586.01,106.08 L586.18,106.86 L586.36,107.77 L586.53,108.93 L586.70,109.39 L586.87,109.44 L587.04,110.77 L587.21,111.74 L587.38,112.14 L587.55,112.25 L587.73,113.05 L587.90,114.12 L588.07,115.43 L588.24,117.26 L588.41,119.74 L588.58,121.87 L588.75,123.20 L588.92,124.68 L589.10,125.26 L589.27,125.69 L589.44,125.03 L589.61,125.16 L589.78,123.34 L589.95,120.88 L590.12,117.58 L590.29,113.93 L590.46,110.89 L590.64,107.68 L590.81,104.80 L590.98,101.55 L591.15,98.10 L591.32,95.31 L591.49,92.57 L591.66,89.25 L591.83,86.07 L592.01,82.95 L592.18,80.26 L592.35,77.07 L592.52,74.46 L592.69,71.53 L592.86,68.62 L593.03,67.96 L593.20,66.23 L593.38,65.62 L593.55,66.00 L593.72,66.55 L593.89,66.98 L594.06,67.92 L594.23,69.25 L594.40,71.28 L594.57,72.21 L594.75,73.51 L594.92,74.20 L595.09,74.53 L595.26,74.95 L595.43,75.60 L595.60,76.94 L595.77,77.59 L595.94,78.49 L596.11,79.29 L596.29,79.92 L596.46,81.15 L596.63,82.21 L596.80,83.29 L596.97,85.45 L597.14,86.49 L597.31,87.98 L597.48,89.16 L597.66,90.92 L597.83,92.32 L598.00,93.99 L598.17,95.78 L598.34,97.67 L598.51,99.54 L598.68,100.70 L598.85,101.67 L599.03,101.92 L599.20,102.54 L599.37,102.60 L599.54,102.41 L599.71,102.70 L599.88,102.50 L600.05,101.43 L600.22,100.67 L600.39,99.80 L600.57,98.44 L600.74,98.12 L600.91,97.86 L601.08,96.33 L601.25,95.26 L601.42,95.11 L601.59,95.15 L601.76,95.74 L601.94,96.80 L602.11,98.16 L602.28,99.46 L602.45,100.86 L602.62,102.30 L602.79,103.79 L602.96,105.57 L603.13,107.77 L603.31,108.98 L603.48,110.28 L603.65,111.70 L603.82,112.48 L603.99,114.06 L604.16,115.55 L604.33,116.18 L604.50,117.38 L604.68,117.92 L604.85,117.31 L605.02,115.95 L605.19,114.23 L605.36,112.71 L605.53,109.56 L605.70,106.41 L605.87,102.98 L606.04,98.63 L606.22,94.19 L606.39,90.73 L606.56,87.49 L606.73,83.60 L606.90,81.14 L607.07,77.92 L607.24,73.85 L607.41,70.13 L607.59,67.09 L607.76,63.88 L607.93,62.14 L608.10,60.76 L608.27,59.03 L608.44,57.31 L608.61,56.45 L608.78,55.76 L608.96,56.28 L609.13,56.54 L609.30,59.07 L609.47,60.11 L609.64,61.99 L609.81,63.23 L609.98,64.03 L610.15,65.29 L610.32,66.84 L610.50,68.98 L610.67,71.06 L610.84,72.58 L611.01,73.49 L611.18,74.46 L611.35,75.15 L611.52,76.34 L611.69,77.20 L611.87,78.37 L612.04,80.40 L612.21,82.65 L612.38,84.34 L612.55,86.11 L612.72,86.73 L612.89,88.81 L613.06,89.55 L613.24,90.82 L613.41,91.27 L613.58,92.05 L613.75,92.95 L613.92,93.77 L614.09,94.74 L614.26,95.89 L614.43,97.17 L614.61,97.89 L614.78,98.12 L614.95,99.78 L615.12,100.15 L615.29,101.64 L615.46,102.55 L615.63,103.40 L615.80,104.43 L615.97,104.77 L616.15,105.96 L616.32,105.82 L616.49,107.08 L616.66,107.54 L616.83,108.27 L617.00,109.30 L617.17,108.65 L617.34,108.07 L617.52,107.48 L617.69,107.88 L617.86,108.15 L618.03,108.95 L618.20,108.36 L618.37,108.33 L618.54,108.92 L618.71,109.32 L618.89,110.60 L619.06,111.17 L619.23,112.03 L619.40,113.76 L619.57,114.38 L619.74,114.99 L619.91,115.59 L620.08,114.96 L620.25,115.59 L620.43,115.02 L620.60,114.26 L620.77,113.06 L620.94,111.84 L621.11,110.41 L621.28,109.40 L621.45,108.35 L621.62,106.77 L621.80,105.55 L621.97,103.92 L622.14,101.76 L622.31,99.25 L622.48,97.43 L622.65,95.28 L622.82,93.50 L622.99,91.11 L623.17,88.78 L623.34,85.51 L623.51,83.44 L623.68,80.25 L623.85,77.18 L624.02,75.26 L624.19,73.33 L624.36,70.99 L624.54,70.05 L624.71,68.75 L624.88,67.51 L625.05,66.43 L625.22,66.63 L625.39,67.60 L625.56,68.07 L625.73,68.21 L625.90,68.87 L626.08,70.22 L626.25,71.32 L626.42,74.12 L626.59,79.39 L626.76,81.60 L626.93,82.53 L627.10,83.54 L627.27,84.85 L627.45,85.52 L627.62,86.71 L627.79,88.05 L627.96,90.55 L628.13,90.29 L628.30,92.17 L628.47,92.28 L628.64,92.97 L628.82,93.95 L628.99,95.09 L629.16,96.13 L629.33,95.84 L629.50,96.02 L629.67,96.12 L629.84,94.18 L630.01,94.46 L630.18,93.85 L630.36,94.17 L630.53,92.71 L630.70,91.57 L630.87,90.34 L631.04,89.68 L631.21,89.23 L631.38,88.51 L631.55,88.88 L631.73,88.60 L631.90,88.08 L632.07,88.97 L632.24,90.00 L632.41,91.92 L632.58,93.79 L632.75,96.56 L632.92,99.29 L633.10,100.78 L633.27,102.60 L633.44,103.23 L633.61,103.61 L633.78,105.17 L633.95,105.92 L634.12,107.14 L634.29,107.41 L634.46,107.47 L634.64,108.62 L634.81,108.98 L634.98,110.13 L635.15,111.09 L635.32,111.79 L635.49,111.28 L635.66,110.29 L635.83,108.77 L636.01,106.19 L636.18,102.36 L636.35,98.92 L636.52,94.64 L636.69,90.69 L636.86,86.72 L637.03,83.18 L637.20,80.40 L637.38,77.47 L637.55,75.24 L637.72,72.40 L637.89,70.19 L638.06,67.31 L638.23,65.14 L638.40,62.83 L638.57,61.27 L638.75,60.56 L638.92,59.42 L639.09,58.92 L639.26,58.37 L639.43,58.34 L639.60,59.24 L639.77,60.72 L639.94,61.74 L640.11,64.24 L640.29,64.79 L640.46,66.43 L640.63,67.84 L640.80,67.06 L640.97,68.26 L641.14,70.07 L641.31,70.85 L641.48,71.94 L641.66,72.53 L641.83,73.40 L642.00,73.54 L642.17,73.76 L642.34,74.63 L642.51,75.52 L642.68,77.54 L642.85,79.55 L643.03,83.57 L643.20,86.48 L643.37,89.90 L643.54,91.70 L643.71,92.67 L643.88,94.91 L644.05,95.76 L644.22,96.80 L644.39,97.65 L644.57,97.95 L644.74,98.61 L644.91,99.34 L645.08,99.69 L645.25,100.21 L645.42,100.73 L645.59,100.76 L645.76,100.27 L645.94,99.80 L646.11,98.52 L646.28,96.71 L646.45,95.43 L646.62,93.47 L646.79,91.10 L646.96,89.05 L647.13,87.38 L647.31,86.54 L647.48,86.41 L647.65,87.18 L647.82,88.05 L647.99,89.91 L648.16,91.78 L648.33,94.45 L648.50,96.42 L648.68,99.67 L648.85,102.02 L649.02,104.44 L649.19,106.04 L649.36,108.33 L649.53,109.97 L649.70,111.50 L649.87,114.79 L650.04,116.11 L650.22,117.56 L650.39,119.01 L650.56,119.57 L650.73,119.84 L650.90,120.64 L651.07,120.43 L651.24,120.65 L651.41,119.98 L651.59,118.83 L651.76,117.11 L651.93,115.22 L652.10,113.29 L652.27,112.00 L652.44,109.08 L652.61,107.12 L652.78,104.72 L652.96,102.28 L653.13,99.50 L653.30,96.93 L653.47,94.96 L653.64,93.49 L653.81,90.44 L653.98,87.14 L654.15,85.65 L654.32,82.00 L654.50,79.72 L654.67,77.92 L654.84,76.09 L655.01,75.71 L655.18,73.98 L655.35,72.29 L655.52,71.97 L655.69,71.89 L655.87,72.16 L656.04,73.23 L656.21,73.81 L656.38,75.67 L656.55,76.18 L656.72,77.74 L656.89,78.41 L657.06,80.32 L657.24,83.09 L657.41,84.43 L657.58,86.66 L657.75,88.41 L657.92,89.80 L658.09,92.66 L658.26,94.90 L658.43,96.50 L658.61,99.03 L658.78,100.24 L658.95,101.47 L659.12,101.85 L659.29,101.27 L659.46,100.60 L659.63,100.49 L659.80,100.55 L659.97,100.08 L660.15,99.27 L660.32,98.17 L660.49,96.02 L660.66,95.21 L660.83,94.35 L661.00,93.08 L661.17,91.63 L661.34,90.41 L661.52,89.29 L661.69,88.19 L661.86,87.08 L662.03,87.16 L662.20,87.10 L662.37,86.79 L662.54,87.56 L662.71,87.74 L662.89,88.02 L663.06,88.95 L663.23,90.25 L663.40,91.02 L663.57,92.91 L663.74,94.52 L663.91,95.27 L664.08,96.26 L664.25,97.55 L664.43,98.39 L664.60,99.74 L664.77,101.70 L664.94,102.66 L665.11,104.03 L665.28,105.24 L665.45,106.71 L665.62,107.49 L665.80,108.59 L665.97,109.58 L666.14,110.53 L666.31,109.99 L666.48,110.01 L666.65,109.00 L666.82,107.88 L666.99,107.98 L667.17,107.55 L667.34,106.64 L667.51,106.38 L667.68,105.41 L667.85,104.21 L668.02,103.01 L668.19,103.17 L668.36,102.08 L668.54,101.34 L668.71,100.26 L668.88,98.74 L669.05,97.10 L669.22,95.18 L669.39,94.18 L669.56,92.77 L669.73,91.42 L669.90,90.14 L670.08,87.96 L670.25,85.46 L670.42,83.94 L670.59,82.69 L670.76,81.46 L670.93,81.00 L671.10,80.06 L671.27,79.03 L671.45,78.59 L671.62,77.84 L671.79,77.46 L671.96,78.46 L672.13,79.19 L672.30,80.63 L672.47,81.67 L672.64,82.70 L672.82,83.21 L672.99,86.77 L673.16,91.00 L673.33,94.87 L673.50,96.98 L673.67,98.42 L673.84,99.81 L674.01,100.23 L674.18,101.56 L674.36,101.95 L674.53,102.88 L674.70,103.02 L674.87,103.45 L675.04,102.68 L675.21,102.19 L675.38,101.92 L675.55,102.45 L675.73,101.86 L675.90,102.57 L676.07,102.78 L676.24,102.68 L676.41,102.43 L676.58,102.00 L676.75,102.37 L676.92,102.30 L677.10,101.97 L677.27,101.76 L677.44,100.81 L677.61,99.04 L677.78,96.97 L677.95,94.67 L678.12,92.53 L678.29,91.71 L678.46,89.81 L678.64,89.13 L678.81,89.10 L678.98,88.92 L679.15,90.31 L679.32,91.70 L679.49,93.26 L679.66,94.80 L679.83,96.43 L680.01,97.95 L680.18,99.19 L680.35,101.36 L680.52,102.35 L680.69,104.87 L680.86,107.23 L681.03,109.94 L681.20,112.73 L681.38,114.95 L681.55,116.42 L681.72,116.89 L681.89,116.71 L682.06,116.00 L682.23,114.89 L682.40,112.47 L682.57,109.52 L682.75,105.85 L682.92,103.28 L683.09,99.20 L683.26,96.63 L683.43,93.67 L683.60,90.33 L683.77,87.23 L683.94,84.42 L684.11,81.28 L684.29,78.78 L684.46,75.85 L684.63,73.22 L684.80,70.91 L684.97,67.86 L685.14,65.95 L685.31,64.21 L685.48,63.01 L685.66,61.85 L685.83,61.24 L686.00,61.96 L686.17,61.75 L686.34,62.51 L686.51,63.66 L686.68,65.99 L686.85,67.32 L687.03,69.05 L687.20,71.66 L687.37,73.95 L687.54,77.43 L687.71,79.57 L687.88,83.13 L688.05,85.80 L688.22,89.25 L688.39,90.39 L688.57,91.45 L688.74,91.18 L688.91,91.76 L689.08,92.04 L689.25,91.86 L689.42,93.47 L689.59,94.06 L689.76,94.30 L689.94,94.65 L690.11,94.12 L690.28,94.18 L690.45,95.20 L690.62,95.81 L690.79,95.07 L690.96,94.85 L691.13,94.44 L691.31,93.82 L691.48,94.07 L691.65,93.84 L691.82,94.38 L691.99,94.58 L692.16,93.95 L692.33,94.29 L692.50,93.30 L692.68,93.92 L692.85,94.36 L693.02,94.31 L693.19,94.30 L693.36,94.67 L693.53,94.84 L693.70,94.04 L693.87,93.65 L694.04,94.45 L694.22,95.15 L694.39,95.44 L694.56,96.44 L694.73,97.42 L694.90,97.80 L695.07,98.62 L695.24,99.28 L695.41,100.47 L695.59,101.28 L695.76,102.20 L695.93,103.21 L696.10,102.64 L696.27,102.44 L696.44,102.64 L696.61,102.73 L696.78,103.48 L696.96,103.75 L697.13,103.07 L697.30,103.09 L697.47,102.59 L697.64,100.83 L697.81,100.52 L697.98,99.53 L698.15,98.71 L698.32,97.15 L698.50,95.15 L698.67,92.76 L698.84,90.42 L699.01,89.22 L699.18,86.54 L699.35,85.28 L699.52,83.33 L699.69,80.56 L699.87,78.22 L700.04,76.13 L700.21,72.95 L700.38,71.82 L700.55,69.82 L700.72,68.23 L700.89,66.36 L701.06,65.57 L701.24,63.93 L701.41,63.58 L701.58,62.81 L701.75,63.67 L701.92,64.03 L702.09,63.87 L702.26,64.86 L702.43,65.68 L702.61,66.19 L702.78,68.18 L702.95,70.31 L703.12,72.02 L703.29,74.82 L703.46,76.45 L703.63,78.78 L703.80,81.77 L703.97,84.35 L704.15,86.51 L704.32,88.57 L704.49,90.65 L704.66,91.80 L704.83,94.08 L705.00,95.32 L705.17,97.26 L705.34,99.33 L705.52,101.19 L705.69,103.37 L705.86,104.23 L706.03,105.56 L706.20,106.68 L706.37,107.81 L706.54,108.50 L706.71,108.45 L706.89,108.83 L707.06,108.14 L707.23,107.19 L707.40,106.50 L707.57,105.82 L707.74,106.04 L707.91,106.02 L708.08,105.10 L708.25,104.82 L708.43,104.04 L708.60,103.98 L708.77,103.58 L708.94,103.96 L709.11,104.46 L709.28,105.06 L709.45,105.64 L709.62,106.23 L709.80,106.92 L709.97,107.68 L710.14,109.41 L710.31,110.28 L710.48,112.27 L710.65,113.23 L710.82,114.58 L710.99,115.60 L711.17,116.26 L711.34,118.83 L711.51,121.38 L711.68,123.51 L711.85,125.38 L712.02,126.16 L712.19,127.72 L712.36,128.11 L712.54,128.86 L712.71,128.19 L712.88,127.22 L713.05,125.32 L713.22,123.78 L713.39,120.70 L713.56,117.91 L713.73,115.49 L713.90,112.51 L714.08,109.88 L714.25,107.60 L714.42,103.66 L714.59,100.44 L714.76,97.60 L714.93,95.05 L715.10,91.34 L715.27,88.41 L715.45,84.51 L715.62,80.33 L715.79,76.68 L715.96,72.35 L716.13,69.32 L716.30,66.80 L716.47,65.16 L716.64,63.61 L716.82,61.97 L716.99,61.55 L717.16,61.71 L717.33,62.32 L717.50,63.20" stroke="rgba(255,0,0,0.45)"/>
<path d="M409.50,112.80 L409.60,114.18 L409.71,115.67 L409.81,117.25 L409.91,118.92 L410.01,120.65 L410.12,122.43 L410.22,124.25 L410.32,126.08 L410.42,127.93 L410.53,129.79 L410.63,131.67 L410.73,133.58 L410.83,135.52 L410.94,137.48 L411.04,139.49 L411.14,141.53 L411.25,143.61 L411.35,145.75 L411.45,147.93 L411.55,150.15 L411.66,152.40 L411.76,154.65 L411.86,156.91 L411.96,159.14 L412.07,161.35 L412.17,163.51 L412.27,165.62 L412.37,167.68 L412.48,169.70 L412.58,171.68 L412.68,173.62 L412.79,175.53 L412.89,177.41 L412.99,179.27 L413.09,181.10 L413.20,182.89 L413.30,184.61 L413.40,186.20 L413.50,187.63 L413.61,188.86 L413.71,189.85 L413.81,190.55 L413.91,190.93 L414.02,190.98 L414.12,190.76 L414.22,190.32 L414.33,189.74 L414.43,189.07 L414.53,188.38 L414.63,187.73 L414.74,187.17 L414.84,186.74 L414.94,186.45 L415.04,186.35 L415.15,186.46 L415.25,186.82 L415.35,187.41 L415.45,188.19 L415.56,189.12 L415.66,190.16 L415.76,191.25 L415.87,192.36 L415.97,193.43 L416.07,194.43 L416.17,195.33 L416.28,196.10 L416.38,196.70 L416.48,197.10 L416.58,197.26 L416.69,197.17 L416.79,196.82 L416.89,196.22 L416.99,195.39 L417.10,194.33 L417.20,193.06 L417.30,191.58 L417.41,189.91 L417.51,188.06 L417.61,186.04 L417.71,183.86 L417.82,181.53 L417.92,179.07 L418.02,176.48 L418.12,173.79 L418.23,170.98 L418.33,168.06 L418.43,165.05 L418.53,161.94 L418.64,158.73 L418.74,155.44 L418.84,152.07 L418.95,148.66 L419.05,145.24 L419.15,141.86 L419.25,138.57 L419.36,135.39 L419.46,132.38 L419.56,129.58 L419.66,127.02 L419.77,124.74 L419.87,122.72 L419.97,120.93 L420.07,119.35 L420.18,117.94 L420.28,116.68 L420.38,115.54 L420.49,114.49 L420.59,113.51 L420.69,112.55 L420.79,111.61 L420.90,110.66 L421.00,109.71 L421.10,108.77 L421.20,107.84 L421.31,106.93 L421.41,106.04 L421.51,105.18 L421.61,104.36 L421.72,103.58 L421.82,102.85 L421.92,102.17 L422.03,101.53 L422.13,100.93 L422.23,100.37 L422.33,99.82 L422.44,99.30 L422.54,98.78 L422.64,98.34 L422.74,98.01 L422.85,97.86 L422.95,97.93 L423.05,98.25 L423.15,98.76 L423.26,99.42 L423.36,100.18 L423.46,100.99 L423.57,101.81 L423.67,102.61 L423.77,103.40 L423.87,104.17 L423.98,104.92 L424.08,105.66 L424.18,106.37 L424.28,107.08 L424.39,107.82 L424.49,108.60 L424.59,109.47 L424.69,110.44 L424.80,111.55 L424.90,112.80 L425.00,114.18 L425.11,115.67 L425.21,117.25 L425.31,118.92 L425.41,120.65 L425.52,122.43 L425.62,124.25 L425.72,126.08 L425.82,127.93 L425.93,129.79 L426.03,131.67 L426.13,133.58 L426.23,135.52 L426.34,137.48 L426.44,139.49 L426.54,141.53 L426.65,143.61 L426.75,145.75 L426.85,147.93 L426.95,150.15 L427.06,152.40 L427.16,154.65 L427.26,156.91 L427.36,159.14 L427.47,161.35 L427.57,163.51 L427.67,165.62 L427.77,167.68 L427.88,169.70 L427.98,171.68 L428.08,173.62 L428.19,175.53 L428.29,177.41 L428.39,179.27 L428.49,181.10 L428.60,182.89 L428.70,184.61 L428.80,186.20 L428.90,187.63 L429.01,188.86 L429.11,189.85 L429.21,190.55 L429.31,190.93 L429.42,190.98 L429.52,190.76 L429.62,190.32 L429.73,189.74 L429.83,189.07 L429.93,188.38 L430.03,187.73 L430.14,187.17 L430.24,186.74 L430.34,186.45 L430.44,186.35 L430.55,186.46 L430.65,186.82 L430.75,187.41 L430.85,188.19 L430.96,189.12 L431.06,190.16 L431.16,191.25 L431.27,192.36 L431.37,193.43 L431.47,194.43 L431.57,195.33 L431.68,196.10 L431.78,196.70 L431.88,197.10 L431.98,197.26 L432.09,197.17 L432.19,196.82 L432.29,196.22 L432.39,195.39 L432.50,194.33 L432.60,193.06 L432.70,191.58 L432.81,189.91 L432.91,188.06 L433.01,186.04 L433.11,183.86 L433.22,181.53 L433.32,179.07 L433.42,176.48 L433.52,173.79 L433.63,170.98 L433.73,168.06 L433.83,165.05 L433.93,161.94 L434.04,158.73 L434.14,155.44 L434.24,152.07 L434.35,148.66 L434.45,145.24 L434.55,141.86 L434.65,138.57 L434.76,135.39 L434.86,132.38 L434.96,129.58 L435.06,127.02 L435.17,124.74 L435.27,122.72 L435.37,120.93 L435.47,119.35 L435.58,117.94 L435.68,116.68 L435.78,115.54 L435.89,114.49 L435.99,113.51 L436.09,112.55 L436.19,111.61 L436.30,110.66 L436.40,109.71 L436.50,108.77 L436.60,107.84 L436.71,106.93 L436.81,106.04 L436.91,105.18 L437.01,104.36 L437.12,103.58 L437.22,102.85 L437.32,102.17 L437.43,101.53 L437.53,100.93 L437.63,100.37 L437.73,99.82 L437.84,99.30 L437.94,98.78 L438.04,98.34 L438.14,98.01 L438.25,97.86 L438.35,97.93 L438.45,98.25 L438.55,98.76 L438.66,99.42 L438.76,100.18 L438.86,100.99 L438.97,101.81 L439.07,102.61 L439.17,103.40 L439.27,104.17 L439.38,104.92 L439.48,105.66 L439.58,106.37 L439.68,107.08 L439.79,107.82 L439.89,108.60 L439.99,109.47 L440.09,110.44 L440.20,111.55 L440.30,112.80 L440.40,114.18 L440.51,115.67 L440.61,117.25 L440.71,118.92 L440.81,120.65 L440.92,122.43 L441.02,124.25 L441.12,126.08 L441.22,127.93 L441.33,129.79 L441.43,131.67 L441.53,133.58 L441.63,135.52 L441.74,137.48 L441.84,139.49 L441.94,141.53 L442.05,143.61 L442.15,145.75 L442.25,147.93 L442.35,150.15 L442.46,152.40 L442.56,154.65 L442.66,156.91 L442.76,159.14 L442.87,161.35 L442.97,163.51 L443.07,165.62 L443.17,167.68 L443.28,169.70 L443.38,171.68 L443.48,173.62 L443.59,175.53 L443.69,177.41 L443.79,179.27 L443.89,181.10 L444.00,182.89 L444.10,184.61 L444.20,186.20 L444.30,187.63 L444.41,188.86 L444.51,189.85 L444.61,190.55 L444.71,190.93 L444.82,190.98 L444.92,190.76 L445.02,190.32 L445.13,189.74 L445.23,189.07 L445.33,188.38 L445.43,187.73 L445.54,187.17 L445.64,186.74 L445.74,186.45 L445.84,186.35 L445.95,186.46 L446.05,186.82 L446.15,187.41 L446.25,188.19 L446.36,189.12 L446.46,190.16 L446.56,191.25 L446.67,192.36 L446.77,193.43 L446.87,194.43 L446.97,195.33 L447.08,196.10 L447.18,196.70 L447.28,197.10 L447.38,197.26 L447.49,197.17 L447.59,196.82 L447.69,196.22 L447.79,195.39 L447.90,194.33 L448.00,193.06 L448.10,191.58 L448.21,189.91 L448.31,188.06 L448.41,186.04 L448.51,183.86 L448.62,181.53 L448.72,179.07 L448.82,176.48 L448.92,173.79 L449.03,170.98 L449.13,168.06 L449.23,165.05 L449.33,161.94 L449.44,158.73 L449.54,155.44 L449.64,152.07 L449.75,148.66 L449.85,145.24 L449.95,141.86 L450.05,138.57 L450.16,135.39 L450.26,132.38 L450.36,129.58 L450.46,127.02 L450.57,124.74 L450.67,122.72 L450.77,120.93 L450.87,119.35 L450.98,117.94 L451.08,116.68 L451.18,115.54 L451.29,114.49 L451.39,113.51 L451.49,112.55 L451.59,111.61 L451.70,110.66 L451.80,109.71 L451.90,108.77 L452.00,107.84 L452.11,106.93 L452.21,106.04 L452.31,105.18 L452.41,104.36 L452.52,103.58 L452.62,102.85 L452.72,102.17 L452.83,101.53 L452.93,100.93 L453.03,100.37 L453.13,99.82 L453.24,99.30 L453.34,98.78 L453.44,98.34 L453.54,98.01 L453.65,97.86 L453.75,97.93 L453.85,98.25 L453.95,98.76 L454.06,99.42 L454.16,100.18 L454.26,100.99 L454.37,101.81 L454.47,102.61 L454.57,103.40 L454.67,104.17 L454.78,104.92 L454.88,105.66 L454.98,106.37 L455.08,107.08 L455.19,107.82 L455.29,108.60 L455.39,109.47 L455.49,110.44 L455.60,111.55 L455.70,112.80 L455.80,114.18 L455.91,115.67 L456.01,117.25 L456.11,118.92 L456.21,120.65 L456.32,122.43 L456.42,124.25 L456.52,126.08 L456.62,127.93 L456.73,129.79 L456.83,131.67 L456.93,133.58 L457.03,135.52 L457.14,137.48 L457.24,139.49 L457.34,141.53 L457.45,143.61 L457.55,145.75 L457.65,147.93 L457.75,150.15 L457.86,152.40 L457.96,154.65 L458.06,156.91 L458.16,159.14 L458.27,161.35 L458.37,163.51 L458.47,165.62 L458.57,167.68 L458.68,169.70 L458.78,171.68 L458.88,173.62 L458.99,175.53 L459.09,177.41 L459.19,179.27 L459.29,181.10 L459.40,182.89 L459.50,184.61 L459.60,186.20 L459.70,187.63 L459.81,188.86 L459.91,189.85 L460.01,190.55 L460.11,190.93 L460.22,190.98 L460.32,190.76 L460.42,190.32 L460.53,189.74 L460.63,189.07 L460.73,188.38 L460.83,187.73 L460.94,187.17 L461.04,186.74 L461.14,186.45 L461.24,186.35 L461.35,186.46 L461.45,186.82 L461.55,187.41 L461.65,188.19 L461.76,189.12 L461.86,190.16 L461.96,191.25 L462.07,192.36 L462.17,193.43 L462.27,194.43 L462.37,195.33 L462.48,196.10 L462.58,196.70 L462.68,197.10 L462.78,197.26 L462.89,197.17 L462.99,196.82 L463.09,196.22 L463.19,195.39 L463.30,194.33 L463.40,193.06 L463.50,191.58 L463.61,189.91 L463.71,188.06 L463.81,186.04 L463.91,183.86 L464.02,181.53 L464.12,179.07 L464.22,176.48 L464.32,173.79 L464.43,170.98 L464.53,168.06 L464.63,165.05 L464.73,161.94 L464.84,158.73 L464.94,155.44 L465.04,152.07 L465.15,148.66 L465.25,145.24 L465.35,141.86 L465.45,138.57 L465.56,135.39 L465.66,132.38 L465.76,129.58 L465.86,127.02 L465.97,124.74 L466.07,122.72 L466.17,120.93 L466.27,119.35 L466.38,117.94 L466.48,116.68 L466.58,115.54 L466.69,114.49 L466.79,113.51 L466.89,112.55 L466.99,111.61 L467.10,110.66 L467.20,109.71 L467.30,108.77 L467.40,107.84 L467.51,106.93 L467.61,106.04 L467.71,105.18 L467.81,104.36 L467.92,103.58 L468.02,102.85 L468.12,102.17 L468.23,101.53 L468.33,100.93 L468.43,100.37 L468.53,99.82 L468.64,99.30 L468.74,98.78 L468.84,98.34 L468.94,98.01 L469.05,97.86 L469.15,97.93 L469.25,98.25 L469.35,98.76 L469.46,99.42 L469.56,100.18 L469.66,100.99 L469.77,101.81 L469.87,102.61 L469.97,103.40 L470.07,104.17 L470.18,104.92 L470.28,105.66 L470.38,106.37 L470.48,107.08 L470.59,107.82 L470.69,108.60 L470.79,109.47 L470.89,110.44 L471.00,111.55 L471.10,112.80 L471.20,114.18 L471.31,115.67 L471.41,117.25 L471.51,118.92 L471.61,120.65 L471.72,122.43 L471.82,124.25 L471.92,126.08 L472.02,127.93 L472.13,129.79 L472.23,131.67 L472.33,133.58 L472.43,135.52 L472.54,137.48 L472.64,139.49 L472.74,141.53 L472.85,143.61 L472.95,145.75 L473.05,147.93 L473.15,150.15 L473.26,152.40 L473.36,154.65 L473.46,156.91 L473.56,159.14 L473.67,161.35 L473.77,163.51 L473.87,165.62 L473.97,167.68 L474.08,169.70 L474.18,171.68 L474.28,173.62 L474.39,175.53 L474.49,177.41 L474.59,179.27 L474.69,181.10 L474.80,182.89 L474.90,184.61 L475.00,186.20 L475.10,187.63 L475.21,188.86 L475.31,189.85 L475.41,190.55 L475.51,190.93 L475.62,190.98 L475.72,190.76 L475.82,190.32 L475.93,189.74 L476.03,189.07 L476.13,188.38 L476.23,187.73 L476.34,187.17 L476.44,186.74 L476.54,186.45 L476.64,186.35 L476.75,186.46 L476.85,186.82 L476.95,187.41 L477.05,188.19 L477.16,189.12 L477.26,190.16 L477.36,191.25 L477.47,192.36 L477.57,193.43 L477.67,194.43 L477.77,195.33 L477.88,196.10 L477.98,196.70 L478.08,197.10 L478.18,197.26 L478.29,197.17 L478.39,196.82 L478.49,196.22 L478.59,195.39 L478.70,194.33 L478.80,193.06 L478.90,191.58 L479.01,189.91 L479.11,188.06 L479.21,186.04 L479.31,183.86 L479.42,181.53 L479.52,179.07 L479.62,176.48 L479.72,173.79 L479.83,170.98 L479.93,168.06 L480.03,165.05 L480.13,161.94 L480.24,158.73 L480.34,155.44 L480.44,152.07 L480.55,148.66 L480.65,145.24 L480.75,141.86 L480.85,138.57 L480.96,135.39 L481.06,132.38 L481.16,129.58 L481.26,127.02 L481.37,124.74 L481.47,122.72 L481.57,120.93 L481.67,119.35 L481.78,117.94 L481.88,116.68 L481.98,115.54 L482.09,114.49 L482.19,113.51 L482.29,112.55 L482.39,111.61 L482.50,110.66 L482.60,109.71 L482.70,108.77 L482.80,107.84 L482.91,106.93 L483.01,106.04 L483.11,105.18 L483.21,104.36 L483.32,103.58 L483.42,102.85 L483.52,102.17 L483.63,101.53 L483.73,100.93 L483.83,100.37 L483.93,99.82 L484.04,99.30 L484.14,98.78 L484.24,98.34 L484.34,98.01 L484.45,97.86 L484.55,97.93 L484.65,98.25 L484.75,98.76 L484.86,99.42 L484.96,100.18 L485.06,100.99 L485.17,101.81 L485.27,102.61 L485.37,103.40 L485.47,104.17 L485.58,104.92 L485.68,105.66 L485.78,106.37 L485.88,107.08 L485.99,107.82 L486.09,108.60 L486.19,109.47 L486.29,110.44 L486.40,111.55 L486.50,112.80 L486.60,114.18 L486.71,115.67 L486.81,117.25 L486.91,118.92 L487.01,120.65 L487.12,122.43 L487.22,124.25 L487.32,126.08 L487.42,127.93 L487.53,129.79 L487.63,131.67 L487.73,133.58 L487.83,135.52 L487.94,137.48 L488.04,139.49 L488.14,141.53 L488.25,143.61 L488.35,145.75 L488.45,147.93 L488.55,150.15 L488.66,152.40 L488.76,154.65 L488.86,156.91 L488.96,159.14 L489.07,161.35 L489.17,163.51 L489.27,165.62 L489.37,167.68 L489.48,169.70 L489.58,171.68 L489.68,173.62 L489.79,175.53 L489.89,177.41 L489.99,179.27 L490.09,181.10 L490.20,182.89 L490.30,184.61 L490.40,186.20 L490.50,187.63 L490.61,188.86 L490.71,189.85 L490.81,190.55 L490.91,190.93 L491.02,190.98 L491.12,190.76 L491.22,190.32 L491.33,189.74 L491.43,189.07 L491.53,188.38 L491.63,187.73 L491.74,187.17 L491.84,186.74 L491.94,186.45 L492.04,186.35 L492.15,186.46 L492.25,186.82 L492.35,187.41 L492.45,188.19 L492.56,189.12 L492.66,190.16 L492.76,191.25 L492.87,192.36 L492.97,193.43 L493.07,194.43 L493.17,195.33 L493.28,196.10 L493.38,196.70 L493.48,197.10 L493.58,197.26 L493.69,197.17 L493.79,196.82 L493.89,196.22 L493.99,195.39 L494.10,194.33 L494.20,193.06 L494.30,191.58 L494.41,189.91 L494.51,188.06 L494.61,186.04 L494.71,183.86 L494.82,181.53 L494.92,179.07 L495.02,176.48 L495.12,173.79 L495.23,170.98 L495.33,168.06 L495.43,165.05 L495.53,161.94 L495.64,158.73 L495.74,155.44 L495.84,152.07 L495.95,148.66 L496.05,145.24 L496.15,141.86 L496.25,138.57 L496.36,135.39 L496.46,132.38 L496.56,129.58 L496.66,127.02 L496.77,124.74 L496.87,122.72 L496.97,120.93 L497.07,119.35 L497.18,117.94 L497.28,116.68 L497.38,115.54 L497.49,114.49 L497.59,113.51 L497.69,112.55 L497.79,111.61 L497.90,110.66 L498.00,109.71 L498.10,108.77 L498.20,107.84 L498.31,106.93 L498.41,106.04 L498.51,105.18 L498.61,104.36 L498.72,103.58 L498.82,102.85 L498.92,102.17 L499.03,101.53 L499.13,100.93 L499.23,100.37 L499.33,99.82 L499.44,99.30 L499.54,98.78 L499.64,98.34 L499.74,98.01 L499.85,97.86 L499.95,97.93 L500.05,98.25 L500.15,98.76 L500.26,99.42 L500.36,100.18 L500.46,100.99 L500.57,101.81 L500.67,102.61 L500.77,103.40 L500.87,104.17 L500.98,104.92 L501.08,105.66 L501.18,106.37 L501.28,107.08 L501.39,107.82 L501.49,108.60 L501.59,109.47 L501.69,110.44 L501.80,111.55 L501.90,112.80 L502.00,114.18 L502.11,115.67 L502.21,117.25 L502.31,118.92 L502.41,120.65 L502.52,122.43 L502.62,124.25 L502.72,126.08 L502.82,127.93 L502.93,129.79 L503.03,131.67 L503.13,133.58 L503.23,135.52 L503.34,137.48 L503.44,139.49 L503.54,141.53 L503.65,143.61 L503.75,145.75 L503.85,147.93 L503.95,150.15 L504.06,152.40 L504.16,154.65 L504.26,156.91 L504.36,159.14 L504.47,161.35 L504.57,163.51 L504.67,165.62 L504.77,167.68 L504.88,169.70 L504.98,171.68 L505.08,173.62 L505.19,175.53 L505.29,177.41 L505.39,179.27 L505.49,181.10 L505.60,182.89 L505.70,184.61 L505.80,186.20 L505.90,187.63 L506.01,188.86 L506.11,189.85 L506.21,190.55 L506.31,190.93 L506.42,190.98 L506.52,190.76 L506.62,190.32 L506.73,189.74 L506.83,189.07 L506.93,188.38 L507.03,187.73 L507.14,187.17 L507.24,186.74 L507.34,186.45 L507.44,186.35 L507.55,186.46 L507.65,186.82 L507.75,187.41 L507.85,188.19 L507.96,189.12 L508.06,190.16 L508.16,191.25 L508.27,192.36 L508.37,193.43 L508.47,194.43 L508.57,195.33 L508.68,196.10 L508.78,196.70 L508.88,197.10 L508.98,197.26 L509.09,197.17 L509.19,196.82 L509.29,196.22 L509.39,195.39 L509.50,194.33 L509.60,193.06 L509.70,191.58 L509.81,189.91 L509.91,188.06 L510.01,186.04 L510.11,183.86 L510.22,181.53 L510.32,179.07 L510.42,176.48 L510.52,173.79 L510.63,170.98 L510.73,168.06 L510.83,165.05 L510.93,161.94 L511.04,158.73 L511.14,155.44 L511.24,152.07 L511.35,148.66 L511.45,145.24 L511.55,141.86 L511.65,138.57 L511.76,135.39 L511.86,132.38 L511.96,129.58 L512.06,127.02 L512.17,124.74 L512.27,122.72 L512.37,120.93 L512.47,119.35 L512.58,117.94 L512.68,116.68 L512.78,115.54 L512.89,114.49 L512.99,113.51 L513.09,112.55 L513.19,111.61 L513.30,110.66 L513.40,109.71 L513.50,108.77 L513.60,107.84 L513.71,106.93 L513.81,106.04 L513.91,105.18 L514.01,104.36 L514.12,103.58 L514.22,102.85 L514.32,102.17 L514.43,101.53 L514.53,100.93 L514.63,100.37 L514.73,99.82 L514.84,99.30 L514.94,98.78 L515.04,98.34 L515.14,98.01 L515.25,97.86 L515.35,97.93 L515.45,98.25 L515.55,98.76 L515.66,99.42 L515.76,100.18 L515.86,100.99 L515.97,101.81 L516.07,102.61 L516.17,103.40 L516.27,104.17 L516.38,104.92 L516.48,105.66 L516.58,106.37 L516.68,107.08 L516.79,107.82 L516.89,108.60 L516.99,109.47 L517.09,110.44 L517.20,111.55 L517.30,112.80 L517.40,114.18 L517.51,115.67 L517.61,117.25 L517.71,118.92 L517.81,120.65 L517.92,122.43 L518.02,124.25 L518.12,126.08 L518.22,127.93 L518.33,129.79 L518.43,131.67 L518.53,133.58 L518.63,135.52 L518.74,137.48 L518.84,139.49 L518.94,141.53 L519.05,143.61 L519.15,145.75 L519.25,147.93 L519.35,150.15 L519.46,152.40 L519.56,154.65 L519.66,156.91 L519.76,159.14 L519.87,161.35 L519.97,163.51 L520.07,165.62 L520.17,167.68 L520.28,169.70 L520.38,171.68 L520.48,173.62 L520.59,175.53 L520.69,177.41 L520.79,179.27 L520.89,181.10 L521.00,182.89 L521.10,184.61 L521.20,186.20 L521.30,187.63 L521.41,188.86 L521.51,189.85 L521.61,190.55 L521.71,190.93 L521.82,190.98 L521.92,190.76 L522.02,190.32 L522.13,189.74 L522.23,189.07 L522.33,188.38 L522.43,187.73 L522.54,187.17 L522.64,186.74 L522.74,186.45 L522.84,186.35 L522.95,186.46 L523.05,186.82 L523.15,187.41 L523.25,188.19 L523.36,189.12 L523.46,190.16 L523.56,191.25 L523.67,192.36 L523.77,193.43 L523.87,194.43 L523.97,195.33 L524.08,196.10 L524.18,196.70 L524.28,197.10 L524.38,197.26 L524.49,197.17 L524.59,196.82 L524.69,196.22 L524.79,195.39 L524.90,194.33 L525.00,193.06 L525.10,191.58 L525.21,189.91 L525.31,188.06 L525.41,186.04 L525.51,183.86 L525.62,181.53 L525.72,179.07 L525.82,176.48 L525.92,173.79 L526.03,170.98 L526.13,168.06 L526.23,165.05 L526.33,161.94 L526.44,158.73 L526.54,155.44 L526.64,152.07 L526.75,148.66 L526.85,145.24 L526.95,141.86 L527.05,138.57 L527.16,135.39 L527.26,132.38 L527.36,129.58 L527.46,127.02 L527.57,124.74 L527.67,122.72 L527.77,120.93 L527.87,119.35 L527.98,117.94 L528.08,116.68 L528.18,115.54 L528.29,114.49 L528.39,113.51 L528.49,112.55 L528.59,111.61 L528.70,110.66 L528.80,109.71 L528.90,108.77 L529.00,107.84 L529.11,106.93 L529.21,106.04 L529.31,105.18 L529.41,104.36 L529.52,103.58 L529.62,102.85 L529.72,102.17 L529.83,101.53 L529.93,100.93 L530.03,100.37 L530.13,99.82 L530.24,99.30 L530.34,98.78 L530.44,98.34 L530.54,98.01 L530.65,97.86 L530.75,97.93 L530.85,98.25 L530.95,98.76 L531.06,99.42 L531.16,100.18 L531.26,100.99 L531.37,101.81 L531.47,102.61 L531.57,103.40 L531.67,104.17 L531.78,104.92 L531.88,105.66 L531.98,106.37 L532.08,107.08 L532.19,107.82 L532.29,108.60 L532.39,109.47 L532.49,110.44 L532.60,111.55 L532.70,112.80 L532.80,114.18 L532.91,115.67 L533.01,117.25 L533.11,118.92 L533.21,120.65 L533.32,122.43 L533.42,124.25 L533.52,126.08 L533.62,127.93 L533.73,129.79 L533.83,131.67 L533.93,133.58 L534.03,135.52 L534.14,137.48 L534.24,139.49 L534.34,141.53 L534.45,143.61 L534.55,145.75 L534.65,147.93 L534.75,150.15 L534.86,152.40 L534.96,154.65 L535.06,156.91 L535.16,159.14 L535.27,161.35 L535.37,163.51 L535.47,165.62 L535.57,167.68 L535.68,169.70 L535.78,171.68 L535.88,173.62 L535.99,175.53 L536.09,177.41 L536.19,179.27 L536.29,181.10 L536.40,182.89 L536.50,184.61 L536.60,186.20 L536.70,187.63 L536.81,188.86 L536.91,189.85 L537.01,190.55 L537.11,190.93 L537.22,190.98 L537.32,190.76 L537.42,190.32 L537.53,189.74 L537.63,189.07 L537.73,188.38 L537.83,187.73 L537.94,187.17 L538.04,186.74 L538.14,186.45 L538.24,186.35 L538.35,186.46 L538.45,186.82 L538.55,187.41 L538.65,188.19 L538.76,189.12 L538.86,190.16 L538.96,191.25 L539.07,192.36 L539.17,193.43 L539.27,194.43 L539.37,195.33 L539.48,196.10 L539.58,196.70 L539.68,197.10 L539.78,197.26 L539.89,197.17 L539.99,196.82 L540.09,196.22 L540.19,195.39 L540.30,194.33 L540.40,193.06 L540.50,191.58 L540.61,189.91 L540.71,188.06 L540.81,186.04 L540.91,183.86 L541.02,181.53 L541.12,179.07 L541.22,176.48 L541.32,173.79 L541.43,170.98 L541.53,168.06 L541.63,165.05 L541.73,161.94 L541.84,158.73 L541.94,155.44 L542.04,152.07 L542.15,148.66 L542.25,145.24 L542.35,141.86 L542.45,138.57 L542.56,135.39 L542.66,132.38 L542.76,129.58 L542.86,127.02 L542.97,124.74 L543.07,122.72 L543.17,120.93 L543.27,119.35 L543.38,117.94 L543.48,116.68 L543.58,115.54 L543.69,114.49 L543.79,113.51 L543.89,112.55 L543.99,111.61 L544.10,110.66 L544.20,109.71 L544.30,108.77 L544.40,107.84 L544.51,106.93 L544.61,106.04 L544.71,105.18 L544.81,104.36 L544.92,103.58 L545.02,102.85 L545.12,102.17 L545.23,101.53 L545.33,100.93 L545.43,100.37 L545.53,99.82 L545.64,99.30 L545.74,98.78 L545.84,98.34 L545.94,98.01 L546.05,97.86 L546.15,97.93 L546.25,98.25 L546.35,98.76 L546.46,99.42 L546.56,100.18 L546.66,100.99 L546.77,101.81 L546.87,102.61 L546.97,103.40 L547.07,104.17 L547.18,104.92 L547.28,105.66 L547.38,106.37 L547.48,107.08 L547.59,107.82 L547.69,108.60 L547.79,109.47 L547.89,110.44 L548.00,111.55 L548.10,112.80 L548.20,114.18 L548.31,115.67 L548.41,117.25 L548.51,118.92 L548.61,120.65 L548.72,122.43 L548.82,124.25 L548.92,126.08 L549.02,127.93 L549.13,129.79 L549.23,131.67 L549.33,133.58 L549.43,135.52 L549.54,137.48 L549.64,139.49 L549.74,141.53 L549.85,143.61 L549.95,145.75 L550.05,147.93 L550.15,150.15 L550.26,152.40 L550.36,154.65 L550.46,156.91 L550.56,159.14 L550.67,161.35 L550.77,163.51 L550.87,165.62 L550.97,167.68 L551.08,169.70 L551.18,171.68 L551.28,173.62 L551.39,175.53 L551.49,177.41 L551.59,179.27 L551.69,181.10 L551.80,182.89 L551.90,184.61 L552.00,186.20 L552.10,187.63 L552.21,188.86 L552.31,189.85 L552.41,190.55 L552.51,190.93 L552.62,190.98 L552.72,190.76 L552.82,190.32 L552.93,189.74 L553.03,189.07 L553.13,188.38 L553.23,187.73 L553.34,187.17 L553.44,186.74 L553.54,186.45 L553.64,186.35 L553.75,186.46 L553.85,186.82 L553.95,187.41 L554.05,188.19 L554.16,189.12 L554.26,190.16 L554.36,191.25 L554.47,192.36 L554.57,193.43 L554.67,194.43 L554.77,195.33 L554.88,196.10 L554.98,196.70 L555.08,197.10 L555.18,197.26 L555.29,197.17 L555.39,196.82 L555.49,196.22 L555.59,195.39 L555.70,194.33 L555.80,193.06 L555.90,191.58 L556.01,189.91 L556.11,188.06 L556.21,186.04 L556.31,183.86 L556.42,181.53 L556.52,179.07 L556.62,176.48 L556.72,173.79 L556.83,170.98 L556.93,168.06 L557.03,165.05 L557.13,161.94 L557.24,158.73 L557.34,155.44 L557.44,152.07 L557.55,148.66 L557.65,145.24 L557.75,141.86 L557.85,138.57 L557.96,135.39 L558.06,132.38 L558.16,129.58 L558.26,127.02 L558.37,124.74 L558.47,122.72 L558.57,120.93 L558.67,119.35 L558.78,117.94 L558.88,116.68 L558.98,115.54 L559.09,114.49 L559.19,113.51 L559.29,112.55 L559.39,111.61 L559.50,110.66 L559.60,109.71 L559.70,108.77 L559.80,107.84 L559.91,106.93 L560.01,106.04 L560.11,105.18 L560.21,104.36 L560.32,103.58 L560.42,102.85 L560.52,102.17 L560.63,101.53 L560.73,100.93 L560.83,100.37 L560.93,99.82 L561.04,99.30 L561.14,98.78 L561.24,98.34 L561.34,98.01 L561.45,97.86 L561.55,97.93 L561.65,98.25 L561.75,98.76 L561.86,99.42 L561.96,100.18 L562.06,100.99 L562.17,101.81 L562.27,102.61 L562.37,103.40 L562.47,104.17 L562.58,104.92 L562.68,105.66 L562.78,106.37 L562.88,107.08 L562.99,107.82 L563.09,108.60 L563.19,109.47 L563.29,110.44 L563.40,111.55 L563.50,112.80 L563.60,114.18 L563.71,115.67 L563.81,117.25 L563.91,118.92 L564.01,120.65 L564.12,122.43 L564.22,124.25 L564.32,126.08 L564.42,127.93 L564.53,129.79 L564.63,131.67 L564.73,133.58 L564.83,135.52 L564.94,137.48 L565.04,139.49 L565.14,141.53 L565.25,143.61 L565.35,145.75 L565.45,147.93 L565.55,150.15 L565.66,152.40 L565.76,154.65 L565.86,156.91 L565.96,159.14 L566.07,161.35 L566.17,163.51 L566.27,165.62 L566.37,167.68 L566.48,169.70 L566.58,171.68 L566.68,173.62 L566.79,175.53 L566.89,177.41 L566.99,179.27 L567.09,181.10 L567.20,182.89 L567.30,184.61 L567.40,186.20 L567.50,187.63 L567.61,188.86 L567.71,189.85 L567.81,190.55 L567.91,190.93 L568.02,190.98 L568.12,190.76 L568.22,190.32 L568.33,189.74 L568.43,189.07 L568.53,188.38 L568.63,187.73 L568.74,187.17 L568.84,186.74 L568.94,186.45 L569.04,186.35 L569.15,186.46 L569.25,186.82 L569.35,187.41 L569.45,188.19 L569.56,189.12 L569.66,190.16 L569.76,191.25 L569.87,192.36 L569.97,193.43 L570.07,194.43 L570.17,195.33 L570.28,196.10 L570.38,196.70 L570.48,197.10 L570.58,197.26 L570.69,197.17 L570.79,196.82 L570.89,196.22 L570.99,195.39 L571.10,194.33 L571.20,193.06 L571.30,191.58 L571.41,189.91 L571.51,188.06 L571.61,186.04 L571.71,183.86 L571.82,181.53 L571.92,179.07 L572.02,176.48 L572.12,173.79 L572.23,170.98 L572.33,168.06 L572.43,165.05 L572.53,161.94 L572.64,158.73 L572.74,155.44 L572.84,152.07 L572.95,148.66 L573.05,145.24 L573.15,141.86 L573.25,138.57 L573.36,135.39 L573.46,132.38 L573.56,129.58 L573.66,127.02 L573.77,124.74 L573.87,122.72 L573.97,120.93 L574.07,119.35 L574.18,117.94 L574.28,116.68 L574.38,115.54 L574.49,114.49 L574.59,113.51 L574.69,112.55 L574.79,111.61 L574.90,110.66 L575.00,109.71 L575.10,108.77 L575.20,107.84 L575.31,106.93 L575.41,106.04 L575.51,105.18 L575.61,104.36 L575.72,103.58 L575.82,102.85 L575.92,102.17 L576.03,101.53 L576.13,100.93 L576.23,100.37 L576.33,99.82 L576.44,99.30 L576.54,98.78 L576.64,98.34 L576.74,98.01 L576.85,97.86 L576.95,97.93 L577.05,98.25 L577.15,98.76 L577.26,99.42 L577.36,100.18 L577.46,100.99 L577.57,101.81 L577.67,102.61 L577.77,103.40 L577.87,104.17 L577.98,104.92 L578.08,105.66 L578.18,106.37 L578.28,107.08 L578.39,107.82 L578.49,108.60 L578.59,109.47 L578.69,110.44 L578.80,111.55 L578.90,112.80 L579.00,114.18 L579.11,115.67 L579.21,117.25 L579.31,118.92 L579.41,120.65 L579.52,122.43 L579.62,124.25 L579.72,126.08 L579.82,127.93 L579.93,129.79 L580.03,131.67 L580.13,133.58 L580.23,135.52 L580.34,137.48 L580.44,139.49 L580.54,141.53 L580.65,143.61 L580.75,145.75 L580.85,147.93 L580.95,150.15 L581.06,152.40 L581.16,154.65 L581.26,156.91 L581.36,159.14 L581.47,161.35 L581.57,163.51 L581.67,165.62 L581.77,167.68 L581.88,169.70 L581.98,171.68 L582.08,173.62 L582.19,175.53 L582.29,177.41 L582.39,179.27 L582.49,181.10 L582.60,182.89 L582.70,184.61 L582.80,186.20 L582.90,187.63 L583.01,188.86 L583.11,189.85 L583.21,190.55 L583.31,190.93 L583.42,190.98 L583.52,190.76 L583.62,190.32 L583.73,189.74 L583.83,189.07 L583.93,188.38 L584.03,187.73 L584.14,187.17 L584.24,186.74 L584.34,186.45 L584.44,186.35 L584.55,186.46 L584.65,186.82 L584.75,187.41 L584.85,188.19 L584.96,189.12 L585.06,190.16 L585.16,191.25 L585.27,192.36 L585.37,193.43 L585.47,194.43 L585.57,195.33 L585.68,196.10 L585.78,196.70 L585.88,197.10 L585.98,197.26 L586.09,197.17 L586.19,196.82 L586.29,196.22 L586.39,195.39 L586.50,194.33 L586.60,193.06 L586.70,191.58 L586.81,189.91 L586.91,188.06 L587.01,186.04 L587.11,183.86 L587.22,181.53 L587.32,179.07 L587.42,176.48 L587.52,173.79 L587.63,170.98 L587.73,168.06 L587.83,165.05 L587.93,161.94 L588.04,158.73 L588.14,155.44 L588.24,152.07 L588.35,148.66 L588.45,145.24 L588.55,141.86 L588.65,138.57 L588.76,135.39 L588.86,132.38 L588.96,129.58 L589.06,127.02 L589.17,124.74 L589.27,122.72 L589.37,120.93 L589.47,119.35 L589.58,117.94 L589.68,116.68 L589.78,115.54 L589.89,114.49 L589.99,113.51 L590.09,112.55 L590.19,111.61 L590.30,110.66 L590.40,109.71 L590.50,108.77 L590.60,107.84 L590.71,106.93 L590.81,106.04 L590.91,105.18 L591.01,104.36 L591.12,103.58 L591.22,102.85 L591.32,102.17 L591.43,101.53 L591.53,100.93 L591.63,100.37 L591.73,99.82 L591.84,99.30 L591.94,98.78 L592.04,98.34 L592.14,98.01 L592.25,97.86 L592.35,97.93 L592.45,98.25 L592.55,98.76 L592.66,99.42 L592.76,100.18 L592.86,100.99 L592.97,101.81 L593.07,102.61 L593.17,103.40 L593.27,104.17 L593.38,104.92 L593.48,105.66 L593.58,106.37 L593.68,107.08 L593.79,107.82 L593.89,108.60 L593.99,109.47 L594.09,110.44 L594.20,111.55 L594.30,112.80 L594.40,114.18 L594.51,115.67 L594.61,117.25 L594.71,118.92 L594.81,120.65 L594.92,122.43 L595.02,124.25 L595.12,126.08 L595.22,127.93 L595.33,129.79 L595.43,131.67 L595.53,133.58 L595.63,135.52 L595.74,137.48 L595.84,139.49 L595.94,141.53 L596.05,143.61 L596.15,145.75 L596.25,147.93 L596.35,150.15 L596.46,152.40 L596.56,154.65 L596.66,156.91 L596.76,159.14 L596.87,161.35 L596.97,163.51 L597.07,165.62 L597.17,167.68 L597.28,169.70 L597.38,171.68 L597.48,173.62 L597.59,175.53 L597.69,177.41 L597.79,179.27 L597.89,181.10 L598.00,182.89 L598.10,184.61 L598.20,186.20 L598.30,187.63 L598.41,188.86 L598.51,189.85 L598.61,190.55 L598.71,190.93 L598.82,190.98 L598.92,190.76 L599.02,190.32 L599.13,189.74 L599.23,189.07 L599.33,188.38 L599.43,187.73 L599.54,187.17 L599.64,186.74 L599.74,186.45 L599.84,186.35 L599.95,186.46 L600.05,186.82 L600.15,187.41 L600.25,188.19 L600.36,189.12 L600.46,190.16 L600.56,191.25 L600.67,192.36 L600.77,193.43 L600.87,194.43 L600.97,195.33 L601.08,196.10 L601.18,196.70 L601.28,197.10 L601.38,197.26 L601.49,197.17 L601.59,196.82 L601.69,196.22 L601.79,195.39 L601.90,194.33 L602.00,193.06 L602.10,191.58 L602.21,189.91 L602.31,188.06 L602.41,186.04 L602.51,183.86 L602.62,181.53 L602.72,179.07 L602.82,176.48 L602.92,173.79 L603.03,170.98 L603.13,168.06 L603.23,165.05 L603.33,161.94 L603.44,158.73 L603.54,155.44 L603.64,152.07 L603.75,148.66 L603.85,145.24 L603.95,141.86 L604.05,138.57 L604.16,135.39 L604.26,132.38 L604.36,129.58 L604.46,127.02 L604.57,124.74 L604.67,122.72 L604.77,120.93 L604.87,119.35 L604.98,117.94 L605.08,116.68 L605.18,115.54 L605.29,114.49 L605.39,113.51 L605.49,112.55 L605.59,111.61 L605.70,110.66 L605.80,109.71 L605.90,108.77 L606.00,107.84 L606.11,106.93 L606.21,106.04 L606.31,105.18 L606.41,104.36 L606.52,103.58 L606.62,102.85 L606.72,102.17 L606.83,101.53 L606.93,100.93 L607.03,100.37 L607.13,99.82 L607.24,99.30 L607.34,98.78 L607.44,98.34 L607.54,98.01 L607.65,97.86 L607.75,97.93 L607.85,98.25 L607.95,98.76 L608.06,99.42 L608.16,100.18 L608.26,100.99 L608.37,101.81 L608.47,102.61 L608.57,103.40 L608.67,104.17 L608.78,104.92 L608.88,105.66 L608.98,106.37 L609.08,107.08 L609.19,107.82 L609.29,108.60 L609.39,109.47 L609.49,110.44 L609.60,111.55 L609.70,112.80 L609.80,114.18 L609.91,115.67 L610.01,117.25 L610.11,118.92 L610.21,120.65 L610.32,122.43 L610.42,124.25 L610.52,126.08 L610.62,127.93 L610.73,129.79 L610.83,131.67 L610.93,133.58 L611.03,135.52 L611.14,137.48 L611.24,139.49 L611.34,141.53 L611.45,143.61 L611.55,145.75 L611.65,147.93 L611.75,150.15 L611.86,152.40 L611.96,154.65 L612.06,156.91 L612.16,159.14 L612.27,161.35 L612.37,163.51 L612.47,165.62 L612.57,167.68 L612.68,169.70 L612.78,171.68 L612.88,173.62 L612.99,175.53 L613.09,177.41 L613.19,179.27 L613.29,181.10 L613.40,182.89 L613.50,184.61 L613.60,186.20 L613.70,187.63 L613.81,188.86 L613.91,189.85 L614.01,190.55 L614.11,190.93 L614.22,190.98 L614.32,190.76 L614.42,190.32 L614.53,189.74 L614.63,189.07 L614.73,188.38 L614.83,187.73 L614.94,187.17 L615.04,186.74 L615.14,186.45 L615.24,186.35 L615.35,186.46 L615.45,186.82 L615.55,187.41 L615.65,188.19 L615.76,189.12 L615.86,190.16 L615.96,191.25 L616.07,192.36 L616.17,193.43 L616.27,194.43 L616.37,195.33 L616.48,196.10 L616.58,196.70 L616.68,197.10 L616.78,197.26 L616.89,197.17 L616.99,196.82 L617.09,196.22 L617.19,195.39 L617.30,194.33 L617.40,193.06 L617.50,191.58 L617.61,189.91 L617.71,188.06 L617.81,186.04 L617.91,183.86 L618.02,181.53 L618.12,179.07 L618.22,176.48 L618.32,173.79 L618.43,170.98 L618.53,168.06 L618.63,165.05 L618.73,161.94 L618.84,158.73 L618.94,155.44 L619.04,152.07 L619.15,148.66 L619.25,145.24 L619.35,141.86 L619.45,138.57 L619.56,135.39 L619.66,132.38 L619.76,129.58 L619.86,127.02 L619.97,124.74 L620.07,122.72 L620.17,120.93 L620.27,119.35 L620.38,117.94 L620.48,116.68 L620.58,115.54 L620.69,114.49 L620.79,113.51 L620.89,112.55 L620.99,111.61 L621.10,110.66 L621.20,109.71 L621.30,108.77 L621.40,107.84 L621.51,106.93 L621.61,106.04 L621.71,105.18 L621.81,104.36 L621.92,103.58 L622.02,102.85 L622.12,102.17 L622.23,101.53 L622.33,100.93 L622.43,100.37 L622.53,99.82 L622.64,99.30 L622.74,98.78 L622.84,98.34 L622.94,98.01 L623.05,97.86 L623.15,97.93 L623.25,98.25 L623.35,98.76 L623.46,99.42 L623.56,100.18 L623.66,100.99 L623.77,101.81 L623.87,102.61 L623.97,103.40 L624.07,104.17 L624.18,104.92 L624.28,105.66 L624.38,106.37 L624.48,107.08 L624.59,107.82 L624.69,108.60 L624.79,109.47 L624.89,110.44 L625.00,111.55 L625.10,112.80 L625.20,114.18 L625.31,115.67 L625.41,117.25 L625.51,118.92 L625.61,120.65 L625.72,122.43 L625.82,124.25 L625.92,126.08 L626.02,127.93 L626.13,129.79 L626.23,131.67 L626.33,133.58 L626.43,135.52 L626.54,137.48 L626.64,139.49 L626.74,141.53 L626.85,143.61 L626.95,145.75 L627.05,147.93 L627.15,150.15 L627.26,152.40 L627.36,154.65 L627.46,156.91 L627.56,159.14 L627.67,161.35 L627.77,163.51 L627.87,165.62 L627.97,167.68 L628.08,169.70 L628.18,171.68 L628.28,173.62 L628.39,175.53 L628.49,177.41 L628.59,179.27 L628.69,181.10 L628.80,182.89 L628.90,184.61 L629.00,186.20 L629.10,187.63 L629.21,188.86 L629.31,189.85 L629.41,190.55 L629.51,190.93 L629.62,190.98 L629.72,190.76 L629.82,190.32 L629.93,189.74 L630.03,189.07 L630.13,188.38 L630.23,187.73 L630.34,187.17 L630.44,186.74 L630.54,186.45 L630.64,186.35 L630.75,186.46 L630.85,186.82 L630.95,187.41 L631.05,188.19 L631.16,189.12 L631.26,190.16 L631.36,191.25 L631.47,192.36 L631.57,193.43 L631.67,194.43 L631.77,195.33 L631.88,196.10 L631.98,196.70 L632.08,197.10 L632.18,197.26 L632.29,197.17 L632.39,196.82 L632.49,196.22 L632.59,195.39 L632.70,194.33 L632.80,193.06 L632.90,191.58 L633.01,189.91 L633.11,188.06 L633.21,186.04 L633.31,183.86 L633.42,181.53 L633.52,179.07 L633.62,176.48 L633.72,173.79 L633.83,170.98 L633.93,168.06 L634.03,165.05 L634.13,161.94 L634.24,158.73 L634.34,155.44 L634.44,152.07 L634.55,148.66 L634.65,145.24 L634.75,141.86 L634.85,138.57 L634.96,135.39 L635.06,132.38 L635.16,129.58 L635.26,127.02 L635.37,124.74 L635.47,122.72 L635.57,120.93 L635.67,119.35 L635.78,117.94 L635.88,116.68 L635.98,115.54 L636.09,114.49 L636.19,113.51 L636.29,112.55 L636.39,111.61 L636.50,110.66 L636.60,109.71 L636.70,108.77 L636.80,107.84 L636.91,106.93 L637.01,106.04 L637.11,105.18 L637.21,104.36 L637.32,103.58 L637.42,102.85 L637.52,102.17 L637.63,101.53 L637.73,100.93 L637.83,100.37 L637.93,99.82 L638.04,99.30 L638.14,98.78 L638.24,98.34 L638.34,98.01 L638.45,97.86 L638.55,97.93 L638.65,98.25 L638.75,98.76 L638.86,99.42 L638.96,100.18 L639.06,100.99 L639.17,101.81 L639.27,102.61 L639.37,103.40 L639.47,104.17 L639.58,104.92 L639.68,105.66 L639.78,106.37 L639.88,107.08 L639.99,107.82 L640.09,108.60 L640.19,109.47 L640.29,110.44 L640.40,111.55 L640.50,112.80 L640.60,114.18 L640.71,115.67 L640.81,117.25 L640.91,118.92 L641.01,120.65 L641.12,122.43 L641.22,124.25 L641.32,126.08 L641.42,127.93 L641.53,129.79 L641.63,131.67 L641.73,133.58 L641.83,135.52 L641.94,137.48 L642.04,139.49 L642.14,141.53 L642.25,143.61 L642.35,145.75 L642.45,147.93 L642.55,150.15 L642.66,152.40 L642.76,154.65 L642.86,156.91 L642.96,159.14 L643.07,161.35 L643.17,163.51 L643.27,165.62 L643.37,167.68 L643.48,169.70 L643.58,171.68 L643.68,173.62 L643.79,175.53 L643.89,177.41 L643.99,179.27 L644.09,181.10 L644.20,182.89 L644.30,184.61 L644.40,186.20 L644.50,187.63 L644.61,188.86 L644.71,189.85 L644.81,190.55 L644.91,190.93 L645.02,190.98 L645.12,190.76 L645.22,190.32 L645.33,189.74 L645.43,189.07 L645.53,188.38 L645.63,187.73 L645.74,187.17 L645.84,186.74 L645.94,186.45 L646.04,186.35 L646.15,186.46 L646.25,186.82 L646.35,187.41 L646.45,188.19 L646.56,189.12 L646.66,190.16 L646.76,191.25 L646.87,192.36 L646.97,193.43 L647.07,194.43 L647.17,195.33 L647.28,196.10 L647.38,196.70 L647.48,197.10 L647.58,197.26 L647.69,197.17 L647.79,196.82 L647.89,196.22 L647.99,195.39 L648.10,194.33 L648.20,193.06 L648.30,191.58 L648.41,189.91 L648.51,188.06 L648.61,186.04 L648.71,183.86 L648.82,181.53 L648.92,179.07 L649.02,176.48 L649.12,173.79 L649.23,170.98 L649.33,168.06 L649.43,165.05 L649.53,161.94 L649.64,158.73 L649.74,155.44 L649.84,152.07 L649.95,148.66 L650.05,145.24 L650.15,141.86 L650.25,138.57 L650.36,135.39 L650.46,132.38 L650.56,129.58 L650.66,127.02 L650.77,124.74 L650.87,122.72 L650.97,120.93 L651.07,119.35 L651.18,117.94 L651.28,116.68 L651.38,115.54 L651.49,114.49 L651.59,113.51 L651.69,112.55 L651.79,111.61 L651.90,110.66 L652.00,109.71 L652.10,108.77 L652.20,107.84 L652.31,106.93 L652.41,106.04 L652.51,105.18 L652.61,104.36 L652.72,103.58 L652.82,102.85 L652.92,102.17 L653.03,101.53 L653.13,100.93 L653.23,100.37 L653.33,99.82 L653.44,99.30 L653.54,98.78 L653.64,98.34 L653.74,98.01 L653.85,97.86 L653.95,97.93 L654.05,98.25 L654.15,98.76 L654.26,99.42 L654.36,100.18 L654.46,100.99 L654.57,101.81 L654.67,102.61 L654.77,103.40 L654.87,104.17 L654.98,104.92 L655.08,105.66 L655.18,106.37 L655.28,107.08 L655.39,107.82 L655.49,108.60 L655.59,109.47 L655.69,110.44 L655.80,111.55 L655.90,112.80 L656.00,114.18 L656.11,115.67 L656.21,117.25 L656.31,118.92 L656.41,120.65 L656.52,122.43 L656.62,124.25 L656.72,126.08 L656.82,127.93 L656.93,129.79 L657.03,131.67 L657.13,133.58 L657.23,135.52 L657.34,137.48 L657.44,139.49 L657.54,141.53 L657.65,143.61 L657.75,145.75 L657.85,147.93 L657.95,150.15 L658.06,152.40 L658.16,154.65 L658.26,156.91 L658.36,159.14 L658.47,161.35 L658.57,163.51 L658.67,165.62 L658.77,167.68 L658.88,169.70 L658.98,171.68 L659.08,173.62 L659.19,175.53 L659.29,177.41 L659.39,179.27 L659.49,181.10 L659.60,182.89 L659.70,184.61 L659.80,186.20 L659.90,187.63 L660.01,188.86 L660.11,189.85 L660.21,190.55 L660.31,190.93 L660.42,190.98 L660.52,190.76 L660.62,190.32 L660.73,189.74 L660.83,189.07 L660.93,188.38 L661.03,187.73 L661.14,187.17 L661.24,186.74 L661.34,186.45 L661.44,186.35 L661.55,186.46 L661.65,186.82 L661.75,187.41 L661.85,188.19 L661.96,189.12 L662.06,190.16 L662.16,191.25 L662.27,192.36 L662.37,193.43 L662.47,194.43 L662.57,195.33 L662.68,196.10 L662.78,196.70 L662.88,197.10 L662.98,197.26 L663.09,197.17 L663.19,196.82 L663.29,196.22 L663.39,195.39 L663.50,194.33 L663.60,193.06 L663.70,191.58 L663.81,189.91 L663.91,188.06 L664.01,186.04 L664.11,183.86 L664.22,181.53 L664.32,179.07 L664.42,176.48 L664.52,173.79 L664.63,170.98 L664.73,168.06 L664.83,165.05 L664.93,161.94 L665.04,158.73 L665.14,155.44 L665.24,152.07 L665.35,148.66 L665.45,145.24 L665.55,141.86 L665.65,138.57 L665.76,135.39 L665.86,132.38 L665.96,129.58 L666.06,127.02 L666.17,124.74 L666.27,122.72 L666.37,120.93 L666.47,119.35 L666.58,117.94 L666.68,116.68 L666.78,115.54 L666.89,114.49 L666.99,113.51 L667.09,112.55 L667.19,111.61 L667.30,110.66 L667.40,109.71 L667.50,108.77 L667.60,107.84 L667.71,106.93 L667.81,106.04 L667.91,105.18 L668.01,104.36 L668.12,103.58 L668.22,102.85 L668.32,102.17 L668.43,101.53 L668.53,100.93 L668.63,100.37 L668.73,99.82 L668.84,99.30 L668.94,98.78 L669.04,98.34 L669.14,98.01 L669.25,97.86 L669.35,97.93 L669.45,98.25 L669.55,98.76 L669.66,99.42 L669.76,100.18 L669.86,100.99 L669.97,101.81 L670.07,102.61 L670.17,103.40 L670.27,104.17 L670.38,104.92 L670.48,105.66 L670.58,106.37 L670.68,107.08 L670.79,107.82 L670.89,108.60 L670.99,109.47 L671.09,110.44 L671.20,111.55 L671.30,112.80 L671.40,114.18 L671.51,115.67 L671.61,117.25 L671.71,118.92 L671.81,120.65 L671.92,122.43 L672.02,124.25 L672.12,126.08 L672.22,127.93 L672.33,129.79 L672.43,131.67 L672.53,133.58 L672.63,135.52 L672.74,137.48 L672.84,139.49 L672.94,141.53 L673.05,143.61 L673.15,145.75 L673.25,147.93 L673.35,150.15 L673.46,152.40 L673.56,154.65 L673.66,156.91 L673.76,159.14 L673.87,161.35 L673.97,163.51 L674.07,165.62 L674.17,167.68 L674.28,169.70 L674.38,171.68 L674.48,173.62 L674.59,175.53 L674.69,177.41 L674.79,179.27 L674.89,181.10 L675.00,182.89 L675.10,184.61 L675.20,186.20 L675.30,187.63 L675.41,188.86 L675.51,189.85 L675.61,190.55 L675.71,190.93 L675.82,190.98 L675.92,190.76 L676.02,190.32 L676.13,189.74 L676.23,189.07 L676.33,188.38 L676.43,187.73 L676.54,187.17 L676.64,186.74 L676.74,186.45 L676.84,186.35 L676.95,186.46 L677.05,186.82 L677.15,187.41 L677.25,188.19 L677.36,189.12 L677.46,190.16 L677.56,191.25 L677.67,192.36 L677.77,193.43 L677.87,194.43 L677.97,195.33 L678.08,196.10 L678.18,196.70 L678.28,197.10 L678.38,197.26 L678.49,197.17 L678.59,196.82 L678.69,196.22 L678.79,195.39 L678.90,194.33 L679.00,193.06 L679.10,191.58 L679.21,189.91 L679.31,188.06 L679.41,186.04 L679.51,183.86 L679.62,181.53 L679.72,179.07 L679.82,176.48 L679.92,173.79 L680.03,170.98 L680.13,168.06 L680.23,165.05 L680.33,161.94 L680.44,158.73 L680.54,155.44 L680.64,152.07 L680.75,148.66 L680.85,145.24 L680.95,141.86 L681.05,138.57 L681.16,135.39 L681.26,132.38 L681.36,129.58 L681.46,127.02 L681.57,124.74 L681.67,122.72 L681.77,120.93 L681.87,119.35 L681.98,117.94 L682.08,116.68 L682.18,115.54 L682.29,114.49 L682.39,113.51 L682.49,112.55 L682.59,111.61 L682.70,110.66 L682.80,109.71 L682.90,108.77 L683.00,107.84 L683.11,106.93 L683.21,106.04 L683.31,105.18 L683.41,104.36 L683.52,103.58 L683.62,102.85 L683.72,102.17 L683.83,101.53 L683.93,100.93 L684.03,100.37 L684.13,99.82 L684.24,99.30 L684.34,98.78 L684.44,98.34 L684.54,98.01 L684.65,97.86 L684.75,97.93 L684.85,98.25 L684.95,98.76 L685.06,99.42 L685.16,100.18 L685.26,100.99 L685.37,101.81 L685.47,102.61 L685.57,103.40 L685.67,104.17 L685.78,104.92 L685.88,105.66 L685.98,106.37 L686.08,107.08 L686.19,107.82 L686.29,108.60 L686.39,109.47 L686.49,110.44 L686.60,111.55 L686.70,112.80 L686.80,114.18 L686.91,115.67 L687.01,117.25 L687.11,118.92 L687.21,120.65 L687.32,122.43 L687.42,124.25 L687.52,126.08 L687.62,127.93 L687.73,129.79 L687.83,131.67 L687.93,133.58 L688.03,135.52 L688.14,137.48 L688.24,139.49 L688.34,141.53 L688.45,143.61 L688.55,145.75 L688.65,147.93 L688.75,150.15 L688.86,152.40 L688.96,154.65 L689.06,156.91 L689.16,159.14 L689.27,161.35 L689.37,163.51 L689.47,165.62 L689.57,167.68 L689.68,169.70 L689.78,171.68 L689.88,173.62 L689.99,175.53 L690.09,177.41 L690.19,179.27 L690.29,181.10 L690.40,182.89 L690.50,184.61 L690.60,186.20 L690.70,187.63 L690.81,188.86 L690.91,189.85 L691.01,190.55 L691.11,190.93 L691.22,190.98 L691.32,190.76 L691.42,190.32 L691.53,189.74 L691.63,189.07 L691.73,188.38 L691.83,187.73 L691.94,187.17 L692.04,186.74 L692.14,186.45 L692.24,186.35 L692.35,186.46 L692.45,186.82 L692.55,187.41 L692.65,188.19 L692.76,189.12 L692.86,190.16 L692.96,191.25 L693.07,192.36 L693.17,193.43 L693.27,194.43 L693.37,195.33 L693.48,196.10 L693.58,196.70 L693.68,197.10 L693.78,197.26 L693.89,197.17 L693.99,196.82 L694.09,196.22 L694.19,195.39 L694.30,194.33 L694.40,193.06 L694.50,191.58 L694.61,189.91 L694.71,188.06 L694.81,186.04 L694.91,183.86 L695.02,181.53 L695.12,179.07 L695.22,176.48 L695.32,173.79 L695.43,170.98 L695.53,168.06 L695.63,165.05 L695.73,161.94 L695.84,158.73 L695.94,155.44 L696.04,152.07 L696.15,148.66 L696.25,145.24 L696.35,141.86 L696.45,138.57 L696.56,135.39 L696.66,132.38 L696.76,129.58 L696.86,127.02 L696.97,124.74 L697.07,122.72 L697.17,120.93 L697.27,119.35 L697.38,117.94 L697.48,116.68 L697.58,115.54 L697.69,114.49 L697.79,113.51 L697.89,112.55 L697.99,111.61 L698.10,110.66 L698.20,109.71 L698.30,108.77 L698.40,107.84 L698.51,106.93 L698.61,106.04 L698.71,105.18 L698.81,104.36 L698.92,103.58 L699.02,102.85 L699.12,102.17 L699.23,101.53 L699.33,100.93 L699.43,100.37 L699.53,99.82 L699.64,99.30 L699.74,98.78 L699.84,98.34 L699.94,98.01 L700.05,97.86 L700.15,97.93 L700.25,98.25 L700.35,98.76 L700.46,99.42 L700.56,100.18 L700.66,100.99 L700.77,101.81 L700.87,102.61 L700.97,103.40 L701.07,104.17 L701.18,104.92 L701.28,105.66 L701.38,106.37 L701.48,107.08 L701.59,107.82 L701.69,108.60 L701.79,109.47 L701.89,110.44 L702.00,111.55 L702.10,112.80 L702.20,114.18 L702.31,115.67 L702.41,117.25 L702.51,118.92 L702.61,120.65 L702.72,122.43 L702.82,124.25 L702.92,126.08 L703.02,127.93 L703.13,129.79 L703.23,131.67 L703.33,133.58 L703.43,135.52 L703.54,137.48 L703.64,139.49 L703.74,141.53 L703.85,143.61 L703.95,145.75 L704.05,147.93 L704.15,150.15 L704.26,152.40 L704.36,154.65 L704.46,156.91 L704.56,159.14 L704.67,161.35 L704.77,163.51 L704.87,165.62 L704.97,167.68 L705.08,169.70 L705.18,171.68 L705.28,173.62 L705.39,175.53 L705.49,177.41 L705.59,179.27 L705.69,181.10 L705.80,182.89 L705.90,184.61 L706.00,186.20 L706.10,187.63 L706.21,188.86 L706.31,189.85 L706.41,190.55 L706.51,190.93 L706.62,190.98 L706.72,190.76 L706.82,190.32 L706.93,189.74 L707.03,189.07 L707.13,188.38 L707.23,187.73 L707.34,187.17 L707.44,186.74 L707.54,186.45 L707.64,186.35 L707.75,186.46 L707.85,186.82 L707.95,187.41 L708.05,188.19 L708.16,189.12 L708.26,190.16 L708.36,191.25 L708.47,192.36 L708.57,193.43 L708.67,194.43 L708.77,195.33 L708.88,196.10 L708.98,196.70 L709.08,197.10 L709.18,197.26 L709.29,197.17 L709.39,196.82 L709.49,196.22 L709.59,195.39 L709.70,194.33 L709.80,193.06 L709.90,191.58 L710.01,189.91 L710.11,188.06 L710.21,186.04 L710.31,183.86 L710.42,181.53 L710.52,179.07 L710.62,176.48 L710.72,173.79 L710.83,170.98 L710.93,168.06 L711.03,165.05 L711.13,161.94 L711.24,158.73 L711.34,155.44 L711.44,152.07 L711.55,148.66 L711.65,145.24 L711.75,141.86 L711.85,138.57 L711.96,135.39 L712.06,132.38 L712.16,129.58 L712.26,127.02 L712.37,124.74 L712.47,122.72 L712.57,120.93 L712.67,119.35 L712.78,117.94 L712.88,116.68 L712.98,115.54 L713.09,114.49 L713.19,113.51 L713.29,112.55 L713.39,111.61 L713.50,110.66 L713.60,109.71 L713.70,108.77 L713.80,107.84 L713.91,106.93 L714.01,106.04 L714.11,105.18 L714.21,104.36 L714.32,103.58 L714.42,102.85 L714.52,102.17 L714.63,101.53 L714.73,100.93 L714.83,100.37 L714.93,99.82 L715.04,99.30 L715.14,98.78 L715.24,98.34 L715.34,98.01 L715.45,97.86 L715.55,97.93 L715.65,98.25 L715.75,98.76 L715.86,99.42 L715.96,100.18 L716.06,100.99 L716.17,101.81 L716.27,102.61 L716.37,103.40 L716.47,104.17 L716.58,104.92 L716.68,105.66 L716.78,106.37 L716.88,107.08 L716.99,107.82 L717.09,108.60 L717.19,109.47 L717.29,110.44 L717.40,111.55 L717.50,112.80" stroke="rgba(0,0,255,0.45)"/>
</g>
<rect x="409.5" y="4.5" width="308.0" height="213.0" fill="none" stroke="#c6c6c6" stroke-width="1"/>
<path d="M471.50,217.50V214.50M471.50,4.50V7.50M532.50,217.50V214.50M532.50,4.50V7.50M594.50,217.50V214.50M594.50,4.50V7.50M655.50,217.50V214.50M655.50,4.50V7.50M409.50,182.00H412.50M717.50,182.00H714.50M409.50,146.50H412.50M717.50,146.50H714.50M409.50,111.00H412.50M717.50,111.00H714.50M409.50,75.50H412.50M717.50,75.50H714.50M409.50,40.00H412.50M717.50,40.00H714.50" stroke="#c6c6c6" stroke-width="1" fill="none"/>
<rect x="396.40" y="217.81" width="2.77" height="1.09" fill="#000"/><text class="tk" x="399.74" y="221.65">2</text>
<rect x="396.40" y="182.31" width="2.77" height="1.09" fill="#000"/><path d="M402.90,186.15 L403.95,186.15 L403.95,177.85 L403.10,177.85 C402.87,178.83 402.10,179.37 400.93,179.48 L400.93,180.29 C401.75,180.25 402.57,180.01 402.90,179.54 Z" fill="#000"/>
<text class="tk" x="399.74" y="150.65">0</text>
<path d="M402.90,115.15 L403.95,115.15 L403.95,106.85 L403.10,106.85 C402.87,107.83 402.10,108.37 400.93,108.48 L400.93,109.29 C401.75,109.25 402.57,109.01 402.90,108.54 Z" fill="#000"/>
<text class="tk" x="399.74" y="79.65">2</text>
<text class="tk" x="399.74" y="44.15">3</text>
<text class="tk" x="399.74" y="8.65">4</text>
<text class="tk" x="406.32" y="231.50">0</text>
<path d="M471.08,231.50 L472.13,231.50 L472.13,223.20 L471.28,223.20 C471.05,224.18 470.28,224.72 469.11,224.83 L469.11,225.64 C469.93,225.60 470.75,225.36 471.08,224.89 Z" fill="#000"/>
<text class="tk" x="529.52" y="231.50">2</text>
<text class="tk" x="591.12" y="231.50">3</text>
<text class="tk" x="652.72" y="231.50">4</text>
<text class="tk" x="714.32" y="231.50">5</text>
<text class="lb" x="552.00" y="241.70">t(s)</text>
<text class="lb" transform="translate(389.40,111.00) rotate(-90)" x="0" y="0" text-anchor="middle">Measured Voltage(V)</text>
<rect x="590.5" y="4.5" width="127.0" height="29.0" fill="#fff" stroke="#d0d0d0" stroke-width="1"/>
<path d="M592.50,12.10H605.90" stroke="rgba(255,0,0,0.45)" stroke-width="1.3" stroke-opacity="0.55"/>
<path d="M592.50,26.30H605.90" stroke="rgba(0,0,255,0.45)" stroke-width="1.3" stroke-opacity="0.55"/>
<text class="lg" x="607.50" y="16.10">MMR-System</text>
<text class="lg" x="607.50" y="30.10">Non-MMR-System</text>
<path d="M590.5,4.5H717.5V33.5" fill="none" stroke="#c6c6c6" stroke-width="1"/>
</svg></body></html>
